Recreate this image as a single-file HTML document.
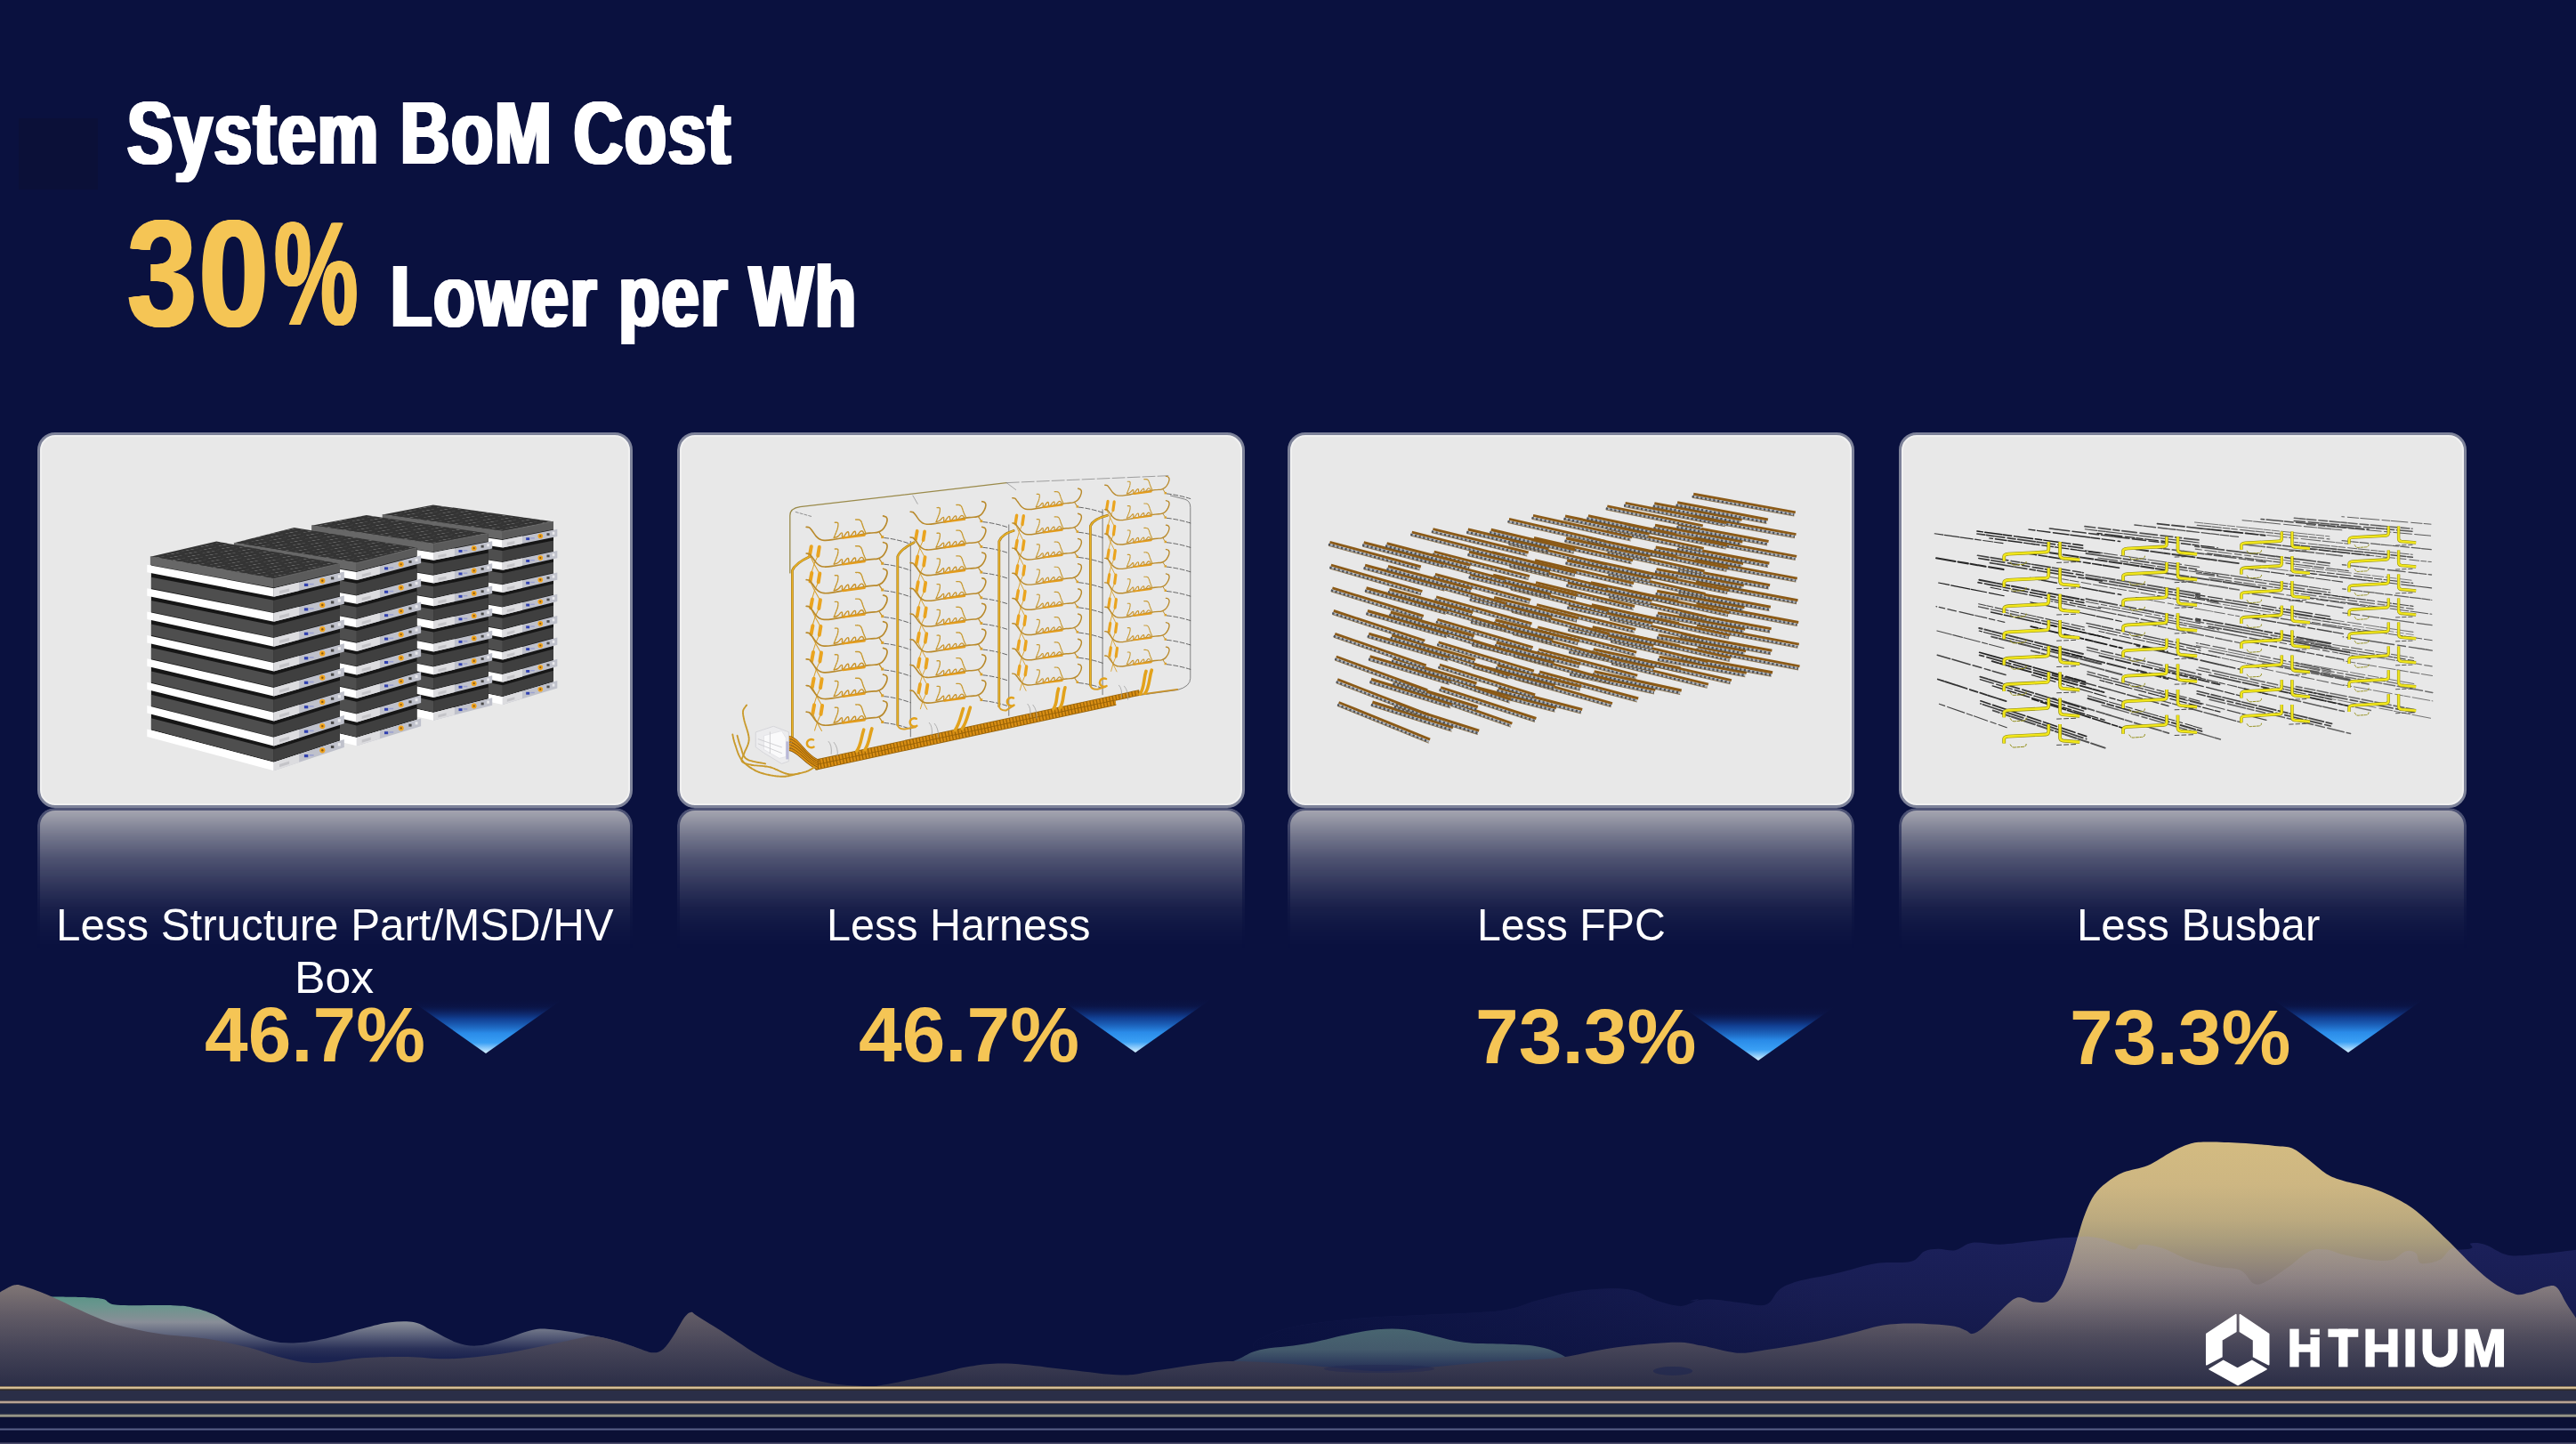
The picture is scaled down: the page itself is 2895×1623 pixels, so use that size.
<!DOCTYPE html>
<html lang="en"><head><meta charset="utf-8"><title>System BoM Cost</title>
<style>
html,body{margin:0;padding:0;}
body{width:2895px;height:1623px;overflow:hidden;background:#0a113f;position:relative;font-family:"Liberation Sans",sans-serif;}
.t{position:absolute;white-space:nowrap;line-height:1;transform-origin:0 0;}
.card{position:absolute;top:485.8px;height:422.5px;box-sizing:border-box;border:3px solid #7d8299;border-radius:20px;background:#e8e8e8;box-shadow:inset 0 0 0 2px #f1f1f1;overflow:hidden;}
.card svg{position:absolute;left:-3px;top:-3px;}
.refl{position:absolute;top:908.3px;height:170px;box-sizing:border-box;border:3px solid #6f7490;border-bottom:none;border-radius:20px 20px 0 0;background:#eeece6;-webkit-mask-image:linear-gradient(to bottom,rgba(0,0,0,.70) 0%,rgba(0,0,0,.475) 17.6%,rgba(0,0,0,.30) 33.5%,rgba(0,0,0,.18) 49.4%,rgba(0,0,0,.07) 65.3%,rgba(0,0,0,.02) 81%,rgba(0,0,0,0) 94%);mask-image:linear-gradient(to bottom,rgba(0,0,0,.70) 0%,rgba(0,0,0,.475) 17.6%,rgba(0,0,0,.30) 33.5%,rgba(0,0,0,.18) 49.4%,rgba(0,0,0,.07) 65.3%,rgba(0,0,0,.02) 81%,rgba(0,0,0,0) 94%);}
.arrow{position:absolute;width:170px;height:62px;}
</style></head><body>

<div style="position:absolute;left:21px;top:133px;width:88.5px;height:79.5px;background:#0b1038"></div>
<div class="t" style="left:142.60px;top:98.73px;font-size:100.5px;font-weight:bold;color:#fff;transform:scaleX(0.7620);text-shadow:1px 0 0 currentColor,-1px 0 0 currentColor,2px 0 0 currentColor,-2px 0 0 currentColor,3px 0 0 currentColor,-3px 0 0 currentColor;letter-spacing:2.5px;">System BoM Cost</div>
<div class="t" style="left:142.69px;top:221.90px;font-size:170px;font-weight:bold;color:#f5c555;transform:scaleX(0.8250);text-shadow:1px 0 0 currentColor,-1px 0 0 currentColor,2px 0 0 currentColor,-2px 0 0 currentColor;letter-spacing:3px;">30</div>
<div class="t" style="left:308.21px;top:225.48px;font-size:166px;font-weight:bold;color:#f5c555;transform:scaleX(0.6400);text-shadow:1px 0 0 currentColor,-1px 0 0 currentColor,2px 0 0 currentColor,-2px 0 0 currentColor;">%</div>
<div class="t" style="left:439.38px;top:282.70px;font-size:99px;font-weight:bold;color:#fff;transform:scaleX(0.7670);text-shadow:1px 0 0 currentColor,-1px 0 0 currentColor,2px 0 0 currentColor,-2px 0 0 currentColor,3px 0 0 currentColor,-3px 0 0 currentColor;letter-spacing:2.5px;">Lower per Wh</div>
<div class="refl" style="left:42.2px;width:668.4px"></div>
<div class="card" style="left:42.2px;width:668.4px"><svg width="668.4" height="422.5" viewBox="42.2 485.8 668.4 422.5">
<defs>
<pattern id="dots" width="9" height="5" patternUnits="userSpaceOnUse" patternTransform="matrix(1 0.18 1.1 -0.26 0 0)">
<rect width="9" height="5" fill="#343434"/><circle cx="3" cy="2.5" r="1.25" fill="#666"/></pattern>
</defs>
<polygon points="430.9,578.3 565.1,597.1 622.2,586.0 622.2,766.2 565.1,783.1 430.9,755.2" fill="#161616" />
<polygon points="429.9,578.3 565.1,597.1 565.1,606.1 429.9,586.6" fill="#676767" />
<polygon points="565.1,597.1 622.2,586.0 622.2,594.8 565.1,606.1" fill="#5b5b5b" />
<polygon points="426.3,586.7 565.1,606.7 565.1,615.4 426.3,594.3" fill="#ffffff" />
<polygon points="565.1,606.7 626.5,594.5 626.5,602.8 565.1,615.4" fill="#bfc1cb" />
<polygon points="565.1,606.7 587.2,602.3 587.2,610.9 565.1,615.4" fill="#dcdcdf" />
<polygon points="570.0,609.6 578.6,607.9 578.6,611.0 570.0,612.7" fill="#c4c4c8" />
<rect x="591.4" y="604.0" width="4.0" height="2.9" fill="#3040b0"/>
<rect x="596.5" y="604.0" width="4.5" height="1.4" fill="#9aa0d0"/>
<circle cx="607.5" cy="602.3" r="2.8" fill="#f0a31e"/><circle cx="607.5" cy="602.3" r="1.1" fill="#8a5a10"/>
<rect x="614.7" y="599.0" width="3.1" height="2.7" fill="#4a4a4a"/>
<rect x="620.9" y="597.5" width="2.7" height="3.1" fill="#e8e8ec"/>
<polygon points="430.9,599.3 565.1,618.9 565.1,631.3 430.9,610.6" fill="#4e4e4e" />
<polygon points="565.1,618.9 622.2,607.2 622.2,619.2 565.1,631.3" fill="#3f3f3f" />
<polygon points="426.3,610.6 565.1,631.9 565.1,640.6 426.3,618.3" fill="#ffffff" />
<polygon points="565.1,631.9 626.5,618.8 626.5,627.1 565.1,640.6" fill="#bfc1cb" />
<polygon points="565.1,631.9 587.2,627.2 587.2,635.7 565.1,640.6" fill="#dcdcdf" />
<polygon points="570.0,634.8 578.6,632.9 578.6,636.0 570.0,637.8" fill="#c4c4c8" />
<rect x="591.4" y="628.8" width="4.0" height="2.9" fill="#3040b0"/>
<rect x="596.5" y="628.8" width="4.5" height="1.4" fill="#9aa0d0"/>
<circle cx="607.5" cy="626.9" r="2.8" fill="#f0a31e"/><circle cx="607.5" cy="626.9" r="1.1" fill="#8a5a10"/>
<rect x="614.7" y="623.4" width="3.1" height="2.7" fill="#4a4a4a"/>
<rect x="620.9" y="621.9" width="2.7" height="3.1" fill="#e8e8ec"/>
<polygon points="430.9,623.3 565.1,644.1 565.1,656.5 430.9,634.6" fill="#4e4e4e" />
<polygon points="565.1,644.1 622.2,631.6 622.2,643.6 565.1,656.5" fill="#3f3f3f" />
<polygon points="426.3,634.6 565.1,657.1 565.1,665.8 426.3,642.2" fill="#ffffff" />
<polygon points="565.1,657.1 626.5,643.2 626.5,651.5 565.1,665.8" fill="#bfc1cb" />
<polygon points="565.1,657.1 587.2,652.1 587.2,660.6 565.1,665.8" fill="#dcdcdf" />
<polygon points="570.0,659.9 578.6,658.0 578.6,661.0 570.0,662.9" fill="#c4c4c8" />
<rect x="591.4" y="653.6" width="4.0" height="2.9" fill="#3040b0"/>
<rect x="596.5" y="653.6" width="4.5" height="1.4" fill="#9aa0d0"/>
<circle cx="607.5" cy="651.5" r="2.8" fill="#f0a31e"/><circle cx="607.5" cy="651.5" r="1.1" fill="#8a5a10"/>
<rect x="614.7" y="647.9" width="3.1" height="2.7" fill="#4a4a4a"/>
<rect x="620.9" y="646.3" width="2.7" height="3.1" fill="#e8e8ec"/>
<polygon points="430.9,647.3 565.1,669.3 565.1,681.7 430.9,658.6" fill="#4e4e4e" />
<polygon points="565.1,669.3 622.2,656.0 622.2,668.0 565.1,681.7" fill="#3f3f3f" />
<polygon points="426.3,658.6 565.1,682.3 565.1,691.0 426.3,666.2" fill="#ffffff" />
<polygon points="565.1,682.3 626.5,667.5 626.5,675.8 565.1,691.0" fill="#bfc1cb" />
<polygon points="565.1,682.3 587.2,677.0 587.2,685.5 565.1,691.0" fill="#dcdcdf" />
<polygon points="570.0,685.0 578.6,683.0 578.6,686.0 570.0,688.1" fill="#c4c4c8" />
<rect x="591.4" y="678.4" width="4.0" height="2.9" fill="#3040b0"/>
<rect x="596.5" y="678.4" width="4.5" height="1.4" fill="#9aa0d0"/>
<circle cx="607.5" cy="676.1" r="2.8" fill="#f0a31e"/><circle cx="607.5" cy="676.1" r="1.1" fill="#8a5a10"/>
<rect x="614.7" y="672.4" width="3.1" height="2.7" fill="#4a4a4a"/>
<rect x="620.9" y="670.7" width="2.7" height="3.1" fill="#e8e8ec"/>
<polygon points="430.9,671.3 565.1,694.5 565.1,706.9 430.9,682.6" fill="#4e4e4e" />
<polygon points="565.1,694.5 622.2,680.4 622.2,692.4 565.1,706.9" fill="#3f3f3f" />
<polygon points="426.3,682.6 565.1,707.5 565.1,716.2 426.3,690.2" fill="#ffffff" />
<polygon points="565.1,707.5 626.5,691.8 626.5,700.2 565.1,716.2" fill="#bfc1cb" />
<polygon points="565.1,707.5 587.2,701.9 587.2,710.4 565.1,716.2" fill="#dcdcdf" />
<polygon points="570.0,710.2 578.6,708.0 578.6,711.0 570.0,713.2" fill="#c4c4c8" />
<rect x="591.4" y="703.2" width="4.0" height="2.9" fill="#3040b0"/>
<rect x="596.5" y="703.2" width="4.5" height="1.4" fill="#9aa0d0"/>
<circle cx="607.5" cy="700.7" r="2.8" fill="#f0a31e"/><circle cx="607.5" cy="700.7" r="1.1" fill="#8a5a10"/>
<rect x="614.7" y="696.9" width="3.1" height="2.7" fill="#4a4a4a"/>
<rect x="620.9" y="695.1" width="2.7" height="3.1" fill="#e8e8ec"/>
<polygon points="430.9,695.3 565.1,719.7 565.1,732.1 430.9,706.6" fill="#4e4e4e" />
<polygon points="565.1,719.7 622.2,704.8 622.2,716.8 565.1,732.1" fill="#3f3f3f" />
<polygon points="426.3,706.5 565.1,732.7 565.1,741.4 426.3,714.1" fill="#ffffff" />
<polygon points="565.1,732.7 626.5,716.2 626.5,724.5 565.1,741.4" fill="#bfc1cb" />
<polygon points="565.1,732.7 587.2,726.8 587.2,735.3 565.1,741.4" fill="#dcdcdf" />
<polygon points="570.0,735.3 578.6,733.0 578.6,736.0 570.0,738.3" fill="#c4c4c8" />
<rect x="591.4" y="728.0" width="4.0" height="2.9" fill="#3040b0"/>
<rect x="596.5" y="728.0" width="4.5" height="1.4" fill="#9aa0d0"/>
<circle cx="607.5" cy="725.3" r="2.8" fill="#f0a31e"/><circle cx="607.5" cy="725.3" r="1.1" fill="#8a5a10"/>
<rect x="614.7" y="721.4" width="3.1" height="2.7" fill="#4a4a4a"/>
<rect x="620.9" y="719.5" width="2.7" height="3.1" fill="#e8e8ec"/>
<polygon points="430.9,719.3 565.1,744.9 565.1,757.3 430.9,730.6" fill="#4e4e4e" />
<polygon points="565.1,744.9 622.2,729.2 622.2,741.2 565.1,757.3" fill="#3f3f3f" />
<polygon points="426.3,730.5 565.1,757.9 565.1,766.6 426.3,738.1" fill="#ffffff" />
<polygon points="565.1,757.9 626.5,740.5 626.5,748.8 565.1,766.6" fill="#bfc1cb" />
<polygon points="565.1,757.9 587.2,751.7 587.2,760.2 565.1,766.6" fill="#dcdcdf" />
<polygon points="570.0,760.4 578.6,758.0 578.6,761.0 570.0,763.5" fill="#c4c4c8" />
<rect x="591.4" y="752.8" width="4.0" height="2.9" fill="#3040b0"/>
<rect x="596.5" y="752.8" width="4.5" height="1.4" fill="#9aa0d0"/>
<circle cx="607.5" cy="749.9" r="2.8" fill="#f0a31e"/><circle cx="607.5" cy="749.9" r="1.1" fill="#8a5a10"/>
<rect x="614.7" y="745.9" width="3.1" height="2.7" fill="#4a4a4a"/>
<rect x="620.9" y="743.9" width="2.7" height="3.1" fill="#e8e8ec"/>
<polygon points="430.9,743.3 565.1,770.1 565.1,782.5 430.9,754.6" fill="#4e4e4e" />
<polygon points="565.1,770.1 622.2,753.6 622.2,765.6 565.1,782.5" fill="#3f3f3f" />
<polygon points="426.3,754.5 565.1,783.1 565.1,791.8 426.3,762.1" fill="#ffffff" />
<polygon points="565.1,783.1 626.5,764.9 626.5,773.2 565.1,791.8" fill="#bfc1cb" />
<polygon points="565.1,783.1 587.2,776.5 587.2,785.1 565.1,791.8" fill="#dcdcdf" />
<polygon points="570.0,785.6 578.6,783.0 578.6,786.0 570.0,788.6" fill="#c4c4c8" />
<rect x="591.4" y="777.6" width="4.0" height="2.9" fill="#3040b0"/>
<rect x="596.5" y="777.6" width="4.5" height="1.4" fill="#9aa0d0"/>
<circle cx="607.5" cy="774.5" r="2.8" fill="#f0a31e"/><circle cx="607.5" cy="774.5" r="1.1" fill="#8a5a10"/>
<rect x="614.7" y="770.4" width="3.1" height="2.7" fill="#4a4a4a"/>
<rect x="620.9" y="768.3" width="2.7" height="3.1" fill="#e8e8ec"/>
<polygon points="429.9,578.3 487.0,567.2 622.2,586.0 565.1,597.1" fill="url(#dots)" />
<polyline points="429.9,578.3 565.1,597.1 622.2,586.0" fill="none" stroke="#707070" stroke-width="0.8"/>
<polygon points="351.3,590.5 487.3,611.0 549.0,599.3 549.0,785.2 487.3,800.7 351.3,771.1" fill="#161616" />
<polygon points="350.3,590.5 487.3,611.0 487.3,620.2 350.3,599.0" fill="#676767" />
<polygon points="487.3,611.0 549.0,599.3 549.0,608.2 487.3,620.2" fill="#5b5b5b" />
<polygon points="346.7,599.0 487.3,620.8 487.3,629.6 346.7,606.8" fill="#ffffff" />
<polygon points="487.3,620.8 553.4,608.0 553.4,616.4 487.3,629.6" fill="#bfc1cb" />
<polygon points="487.3,620.8 511.1,616.2 511.1,624.9 487.3,629.6" fill="#dcdcdf" />
<polygon points="492.6,623.7 501.8,622.0 501.8,625.0 492.6,626.8" fill="#c4c4c8" />
<rect x="515.7" y="617.8" width="4.0" height="2.9" fill="#3040b0"/>
<rect x="520.9" y="617.8" width="4.6" height="1.5" fill="#9aa0d0"/>
<circle cx="532.9" cy="616.0" r="2.9" fill="#f0a31e"/><circle cx="532.9" cy="616.0" r="1.1" fill="#8a5a10"/>
<rect x="540.8" y="612.6" width="3.1" height="2.8" fill="#4a4a4a"/>
<rect x="547.4" y="611.0" width="2.8" height="3.1" fill="#e8e8ec"/>
<polygon points="351.3,611.9 487.3,633.3 487.3,645.9 351.3,623.5" fill="#4e4e4e" />
<polygon points="487.3,633.3 549.0,621.2 549.0,633.4 487.3,645.9" fill="#3f3f3f" />
<polygon points="346.7,623.5 487.3,646.5 487.3,655.3 346.7,631.2" fill="#ffffff" />
<polygon points="487.3,646.5 553.4,633.1 553.4,641.6 487.3,655.3" fill="#bfc1cb" />
<polygon points="487.3,646.5 511.1,641.7 511.1,650.4 487.3,655.3" fill="#dcdcdf" />
<polygon points="492.6,649.4 501.8,647.5 501.8,650.6 492.6,652.5" fill="#c4c4c8" />
<rect x="515.7" y="643.3" width="4.0" height="2.9" fill="#3040b0"/>
<rect x="520.9" y="643.3" width="4.6" height="1.5" fill="#9aa0d0"/>
<circle cx="532.9" cy="641.3" r="2.9" fill="#f0a31e"/><circle cx="532.9" cy="641.3" r="1.1" fill="#8a5a10"/>
<rect x="540.8" y="637.8" width="3.1" height="2.8" fill="#4a4a4a"/>
<rect x="547.4" y="636.2" width="2.8" height="3.1" fill="#e8e8ec"/>
<polygon points="351.3,636.4 487.3,659.0 487.3,671.6 351.3,648.0" fill="#4e4e4e" />
<polygon points="487.3,659.0 549.0,646.4 549.0,658.6 487.3,671.6" fill="#3f3f3f" />
<polygon points="346.7,647.9 487.3,672.2 487.3,681.0 346.7,655.7" fill="#ffffff" />
<polygon points="487.3,672.2 553.4,658.3 553.4,666.8 487.3,681.0" fill="#bfc1cb" />
<polygon points="487.3,672.2 511.1,667.2 511.1,675.9 487.3,681.0" fill="#dcdcdf" />
<polygon points="492.6,675.1 501.8,673.1 501.8,676.2 492.6,678.2" fill="#c4c4c8" />
<rect x="515.7" y="668.7" width="4.0" height="2.9" fill="#3040b0"/>
<rect x="520.9" y="668.7" width="4.6" height="1.5" fill="#9aa0d0"/>
<circle cx="532.9" cy="666.7" r="2.9" fill="#f0a31e"/><circle cx="532.9" cy="666.7" r="1.1" fill="#8a5a10"/>
<rect x="540.8" y="663.1" width="3.1" height="2.8" fill="#4a4a4a"/>
<rect x="547.4" y="661.4" width="2.8" height="3.1" fill="#e8e8ec"/>
<polygon points="351.3,660.9 487.3,684.7 487.3,697.3 351.3,672.5" fill="#4e4e4e" />
<polygon points="487.3,684.7 549.0,671.6 549.0,683.8 487.3,697.3" fill="#3f3f3f" />
<polygon points="346.7,672.4 487.3,697.9 487.3,706.7 346.7,680.2" fill="#ffffff" />
<polygon points="487.3,697.9 553.4,683.5 553.4,691.9 487.3,706.7" fill="#bfc1cb" />
<polygon points="487.3,697.9 511.1,692.7 511.1,701.4 487.3,706.7" fill="#dcdcdf" />
<polygon points="492.6,700.7 501.8,698.7 501.8,701.8 492.6,703.8" fill="#c4c4c8" />
<rect x="515.7" y="694.2" width="4.0" height="2.9" fill="#3040b0"/>
<rect x="520.9" y="694.2" width="4.6" height="1.5" fill="#9aa0d0"/>
<circle cx="532.9" cy="692.0" r="2.9" fill="#f0a31e"/><circle cx="532.9" cy="692.0" r="1.1" fill="#8a5a10"/>
<rect x="540.8" y="688.4" width="3.1" height="2.8" fill="#4a4a4a"/>
<rect x="547.4" y="686.6" width="2.8" height="3.1" fill="#e8e8ec"/>
<polygon points="351.3,685.4 487.3,710.4 487.3,723.0 351.3,697.0" fill="#4e4e4e" />
<polygon points="487.3,710.4 549.0,696.8 549.0,709.0 487.3,723.0" fill="#3f3f3f" />
<polygon points="346.7,696.9 487.3,723.6 487.3,732.4 346.7,704.7" fill="#ffffff" />
<polygon points="487.3,723.6 553.4,708.6 553.4,717.1 487.3,732.4" fill="#bfc1cb" />
<polygon points="487.3,723.6 511.1,718.2 511.1,726.9 487.3,732.4" fill="#dcdcdf" />
<polygon points="492.6,726.4 501.8,724.3 501.8,727.4 492.6,729.5" fill="#c4c4c8" />
<rect x="515.7" y="719.7" width="4.0" height="2.9" fill="#3040b0"/>
<rect x="520.9" y="719.7" width="4.6" height="1.5" fill="#9aa0d0"/>
<circle cx="532.9" cy="717.3" r="2.9" fill="#f0a31e"/><circle cx="532.9" cy="717.3" r="1.1" fill="#8a5a10"/>
<rect x="540.8" y="713.6" width="3.1" height="2.8" fill="#4a4a4a"/>
<rect x="547.4" y="711.8" width="2.8" height="3.1" fill="#e8e8ec"/>
<polygon points="351.3,709.9 487.3,736.1 487.3,748.7 351.3,721.5" fill="#4e4e4e" />
<polygon points="487.3,736.1 549.0,722.0 549.0,734.2 487.3,748.7" fill="#3f3f3f" />
<polygon points="346.7,721.3 487.3,749.3 487.3,758.1 346.7,729.1" fill="#ffffff" />
<polygon points="487.3,749.3 553.4,733.8 553.4,742.3 487.3,758.1" fill="#bfc1cb" />
<polygon points="487.3,749.3 511.1,743.7 511.1,752.4 487.3,758.1" fill="#dcdcdf" />
<polygon points="492.6,752.0 501.8,749.9 501.8,753.0 492.6,755.1" fill="#c4c4c8" />
<rect x="515.7" y="745.1" width="4.0" height="2.9" fill="#3040b0"/>
<rect x="520.9" y="745.1" width="4.6" height="1.5" fill="#9aa0d0"/>
<circle cx="532.9" cy="742.7" r="2.9" fill="#f0a31e"/><circle cx="532.9" cy="742.7" r="1.1" fill="#8a5a10"/>
<rect x="540.8" y="738.9" width="3.1" height="2.8" fill="#4a4a4a"/>
<rect x="547.4" y="737.0" width="2.8" height="3.1" fill="#e8e8ec"/>
<polygon points="351.3,734.4 487.3,761.8 487.3,774.4 351.3,746.0" fill="#4e4e4e" />
<polygon points="487.3,761.8 549.0,747.2 549.0,759.4 487.3,774.4" fill="#3f3f3f" />
<polygon points="346.7,745.8 487.3,775.0 487.3,783.8 346.7,753.6" fill="#ffffff" />
<polygon points="487.3,775.0 553.4,759.0 553.4,767.4 487.3,783.8" fill="#bfc1cb" />
<polygon points="487.3,775.0 511.1,769.2 511.1,777.9 487.3,783.8" fill="#dcdcdf" />
<polygon points="492.6,777.7 501.8,775.4 501.8,778.5 492.6,780.8" fill="#c4c4c8" />
<rect x="515.7" y="770.6" width="4.0" height="2.9" fill="#3040b0"/>
<rect x="520.9" y="770.6" width="4.6" height="1.5" fill="#9aa0d0"/>
<circle cx="532.9" cy="768.0" r="2.9" fill="#f0a31e"/><circle cx="532.9" cy="768.0" r="1.1" fill="#8a5a10"/>
<rect x="540.8" y="764.1" width="3.1" height="2.8" fill="#4a4a4a"/>
<rect x="547.4" y="762.2" width="2.8" height="3.1" fill="#e8e8ec"/>
<polygon points="351.3,758.9 487.3,787.5 487.3,800.1 351.3,770.5" fill="#4e4e4e" />
<polygon points="487.3,787.5 549.0,772.4 549.0,784.6 487.3,800.1" fill="#3f3f3f" />
<polygon points="346.7,770.3 487.3,800.7 487.3,809.5 346.7,778.1" fill="#ffffff" />
<polygon points="487.3,800.7 553.4,784.1 553.4,792.6 487.3,809.5" fill="#bfc1cb" />
<polygon points="487.3,800.7 511.1,794.7 511.1,803.4 487.3,809.5" fill="#dcdcdf" />
<polygon points="492.6,803.3 501.8,801.0 501.8,804.1 492.6,806.4" fill="#c4c4c8" />
<rect x="515.7" y="796.0" width="4.0" height="2.9" fill="#3040b0"/>
<rect x="520.9" y="796.0" width="4.6" height="1.5" fill="#9aa0d0"/>
<circle cx="532.9" cy="793.3" r="2.9" fill="#f0a31e"/><circle cx="532.9" cy="793.3" r="1.1" fill="#8a5a10"/>
<rect x="540.8" y="789.4" width="3.1" height="2.8" fill="#4a4a4a"/>
<rect x="547.4" y="787.4" width="2.8" height="3.1" fill="#e8e8ec"/>
<polygon points="350.3,590.5 412.0,578.8 549.0,599.3 487.3,611.0" fill="url(#dots)" />
<polyline points="350.3,590.5 487.3,611.0 549.0,599.3" fill="none" stroke="#707070" stroke-width="0.8"/>
<polygon points="264.1,610.1 401.1,632.6 468.7,615.4 468.7,808.6 401.1,828.9 264.1,796.6" fill="#161616" />
<polygon points="263.1,610.1 401.1,632.6 401.1,642.1 263.1,618.9" fill="#676767" />
<polygon points="401.1,632.6 468.7,615.4 468.7,624.6 401.1,642.1" fill="#5b5b5b" />
<polygon points="259.5,618.9 401.1,642.7 401.1,651.9 259.5,626.9" fill="#ffffff" />
<polygon points="401.1,642.7 473.3,624.1 473.3,632.8 401.1,651.9" fill="#bfc1cb" />
<polygon points="401.1,642.7 427.1,636.0 427.1,645.0 401.1,651.9" fill="#dcdcdf" />
<polygon points="406.9,645.3 417.0,642.7 417.0,645.9 406.9,648.5" fill="#c4c4c8" />
<rect x="432.2" y="637.2" width="4.2" height="3.0" fill="#3040b0"/>
<rect x="437.6" y="637.2" width="4.8" height="1.5" fill="#9aa0d0"/>
<circle cx="450.9" cy="634.1" r="3.0" fill="#f0a31e"/><circle cx="450.9" cy="634.1" r="1.1" fill="#8a5a10"/>
<rect x="459.6" y="629.8" width="3.2" height="2.9" fill="#4a4a4a"/>
<rect x="466.8" y="627.6" width="2.9" height="3.2" fill="#e8e8ec"/>
<polygon points="264.1,632.2 401.1,655.6 401.1,668.7 264.1,644.2" fill="#4e4e4e" />
<polygon points="401.1,655.6 468.7,638.2 468.7,650.8 401.1,668.7" fill="#3f3f3f" />
<polygon points="259.5,644.1 401.1,669.3 401.1,678.5 259.5,652.2" fill="#ffffff" />
<polygon points="401.1,669.3 473.3,650.2 473.3,659.0 401.1,678.5" fill="#bfc1cb" />
<polygon points="401.1,669.3 427.1,662.4 427.1,671.5 401.1,678.5" fill="#dcdcdf" />
<polygon points="406.9,671.9 417.0,669.2 417.0,672.4 406.9,675.1" fill="#c4c4c8" />
<rect x="432.2" y="663.6" width="4.2" height="3.0" fill="#3040b0"/>
<rect x="437.6" y="663.6" width="4.8" height="1.5" fill="#9aa0d0"/>
<circle cx="450.9" cy="660.4" r="3.0" fill="#f0a31e"/><circle cx="450.9" cy="660.4" r="1.1" fill="#8a5a10"/>
<rect x="459.6" y="656.0" width="3.2" height="2.9" fill="#4a4a4a"/>
<rect x="466.8" y="653.8" width="2.9" height="3.2" fill="#e8e8ec"/>
<polygon points="264.1,657.5 401.1,682.2 401.1,695.3 264.1,669.5" fill="#4e4e4e" />
<polygon points="401.1,682.2 468.7,664.4 468.7,677.0 401.1,695.3" fill="#3f3f3f" />
<polygon points="259.5,669.4 401.1,695.9 401.1,705.1 259.5,677.4" fill="#ffffff" />
<polygon points="401.1,695.9 473.3,676.4 473.3,685.2 401.1,705.1" fill="#bfc1cb" />
<polygon points="401.1,695.9 427.1,688.9 427.1,697.9 401.1,705.1" fill="#dcdcdf" />
<polygon points="406.9,698.5 417.0,695.7 417.0,698.9 406.9,701.7" fill="#c4c4c8" />
<rect x="432.2" y="690.0" width="4.2" height="3.0" fill="#3040b0"/>
<rect x="437.6" y="690.0" width="4.8" height="1.5" fill="#9aa0d0"/>
<circle cx="450.9" cy="686.7" r="3.0" fill="#f0a31e"/><circle cx="450.9" cy="686.7" r="1.1" fill="#8a5a10"/>
<rect x="459.6" y="682.2" width="3.2" height="2.9" fill="#4a4a4a"/>
<rect x="466.8" y="680.0" width="2.9" height="3.2" fill="#e8e8ec"/>
<polygon points="264.1,682.8 401.1,708.8 401.1,721.9 264.1,694.8" fill="#4e4e4e" />
<polygon points="401.1,708.8 468.7,690.6 468.7,703.2 401.1,721.9" fill="#3f3f3f" />
<polygon points="259.5,694.7 401.1,722.5 401.1,731.7 259.5,702.7" fill="#ffffff" />
<polygon points="401.1,722.5 473.3,702.6 473.3,711.4 401.1,731.7" fill="#bfc1cb" />
<polygon points="401.1,722.5 427.1,715.3 427.1,724.4 401.1,731.7" fill="#dcdcdf" />
<polygon points="406.9,725.0 417.0,722.2 417.0,725.4 406.9,728.2" fill="#c4c4c8" />
<rect x="432.2" y="716.4" width="4.2" height="3.0" fill="#3040b0"/>
<rect x="437.6" y="716.4" width="4.8" height="1.5" fill="#9aa0d0"/>
<circle cx="450.9" cy="713.0" r="3.0" fill="#f0a31e"/><circle cx="450.9" cy="713.0" r="1.1" fill="#8a5a10"/>
<rect x="459.6" y="708.5" width="3.2" height="2.9" fill="#4a4a4a"/>
<rect x="466.8" y="706.2" width="2.9" height="3.2" fill="#e8e8ec"/>
<polygon points="264.1,708.1 401.1,735.4 401.1,748.5 264.1,720.1" fill="#4e4e4e" />
<polygon points="401.1,735.4 468.7,716.8 468.7,729.4 401.1,748.5" fill="#3f3f3f" />
<polygon points="259.5,719.9 401.1,749.1 401.1,758.3 259.5,728.0" fill="#ffffff" />
<polygon points="401.1,749.1 473.3,728.7 473.3,737.5 401.1,758.3" fill="#bfc1cb" />
<polygon points="401.1,749.1 427.1,741.8 427.1,750.8 401.1,758.3" fill="#dcdcdf" />
<polygon points="406.9,751.6 417.0,748.8 417.0,752.0 406.9,754.8" fill="#c4c4c8" />
<rect x="432.2" y="742.8" width="4.2" height="3.0" fill="#3040b0"/>
<rect x="437.6" y="742.8" width="4.8" height="1.5" fill="#9aa0d0"/>
<circle cx="450.9" cy="739.3" r="3.0" fill="#f0a31e"/><circle cx="450.9" cy="739.3" r="1.1" fill="#8a5a10"/>
<rect x="459.6" y="734.7" width="3.2" height="2.9" fill="#4a4a4a"/>
<rect x="466.8" y="732.4" width="2.9" height="3.2" fill="#e8e8ec"/>
<polygon points="264.1,733.4 401.1,762.0 401.1,775.1 264.1,745.4" fill="#4e4e4e" />
<polygon points="401.1,762.0 468.7,743.0 468.7,755.6 401.1,775.1" fill="#3f3f3f" />
<polygon points="259.5,745.2 401.1,775.7 401.1,784.9 259.5,753.2" fill="#ffffff" />
<polygon points="401.1,775.7 473.3,754.9 473.3,763.7 401.1,784.9" fill="#bfc1cb" />
<polygon points="401.1,775.7 427.1,768.2 427.1,777.2 401.1,784.9" fill="#dcdcdf" />
<polygon points="406.9,778.2 417.0,775.3 417.0,778.5 406.9,781.4" fill="#c4c4c8" />
<rect x="432.2" y="769.2" width="4.2" height="3.0" fill="#3040b0"/>
<rect x="437.6" y="769.2" width="4.8" height="1.5" fill="#9aa0d0"/>
<circle cx="450.9" cy="765.6" r="3.0" fill="#f0a31e"/><circle cx="450.9" cy="765.6" r="1.1" fill="#8a5a10"/>
<rect x="459.6" y="761.0" width="3.2" height="2.9" fill="#4a4a4a"/>
<rect x="466.8" y="758.6" width="2.9" height="3.2" fill="#e8e8ec"/>
<polygon points="264.1,758.7 401.1,788.6 401.1,801.7 264.1,770.7" fill="#4e4e4e" />
<polygon points="401.1,788.6 468.7,769.2 468.7,781.8 401.1,801.7" fill="#3f3f3f" />
<polygon points="259.5,770.5 401.1,802.3 401.1,811.5 259.5,778.5" fill="#ffffff" />
<polygon points="401.1,802.3 473.3,781.1 473.3,789.9 401.1,811.5" fill="#bfc1cb" />
<polygon points="401.1,802.3 427.1,794.7 427.1,803.7 401.1,811.5" fill="#dcdcdf" />
<polygon points="406.9,804.7 417.0,801.8 417.0,805.0 406.9,807.9" fill="#c4c4c8" />
<rect x="432.2" y="795.6" width="4.2" height="3.0" fill="#3040b0"/>
<rect x="437.6" y="795.6" width="4.8" height="1.5" fill="#9aa0d0"/>
<circle cx="450.9" cy="791.9" r="3.0" fill="#f0a31e"/><circle cx="450.9" cy="791.9" r="1.1" fill="#8a5a10"/>
<rect x="459.6" y="787.2" width="3.2" height="2.9" fill="#4a4a4a"/>
<rect x="466.8" y="784.8" width="2.9" height="3.2" fill="#e8e8ec"/>
<polygon points="264.1,784.0 401.1,815.2 401.1,828.3 264.1,796.0" fill="#4e4e4e" />
<polygon points="401.1,815.2 468.7,795.4 468.7,808.0 401.1,828.3" fill="#3f3f3f" />
<polygon points="259.5,795.7 401.1,828.9 401.1,838.1 259.5,803.8" fill="#ffffff" />
<polygon points="401.1,828.9 473.3,807.3 473.3,816.0 401.1,838.1" fill="#bfc1cb" />
<polygon points="401.1,828.9 427.1,821.1 427.1,830.1 401.1,838.1" fill="#dcdcdf" />
<polygon points="406.9,831.3 417.0,828.3 417.0,831.5 406.9,834.5" fill="#c4c4c8" />
<rect x="432.2" y="822.0" width="4.2" height="3.0" fill="#3040b0"/>
<rect x="437.6" y="822.0" width="4.8" height="1.5" fill="#9aa0d0"/>
<circle cx="450.9" cy="818.2" r="3.0" fill="#f0a31e"/><circle cx="450.9" cy="818.2" r="1.1" fill="#8a5a10"/>
<rect x="459.6" y="813.5" width="3.2" height="2.9" fill="#4a4a4a"/>
<rect x="466.8" y="811.0" width="2.9" height="3.2" fill="#e8e8ec"/>
<polygon points="263.1,610.1 330.7,592.9 468.7,615.4 401.1,632.6" fill="url(#dots)" />
<polyline points="263.1,610.1 401.1,632.6 468.7,615.4" fill="none" stroke="#707070" stroke-width="0.8"/>
<polygon points="170.1,625.5 307.9,650.4 382.2,633.2 382.2,832.3 307.9,856.5 170.1,820.2" fill="#161616" />
<polygon points="169.1,625.5 307.9,650.4 307.9,660.4 169.1,634.7" fill="#676767" />
<polygon points="307.9,650.4 382.2,633.2 382.2,642.9 307.9,660.4" fill="#5b5b5b" />
<polygon points="165.5,634.6 307.9,661.0 307.9,670.6 165.5,643.1" fill="#ffffff" />
<polygon points="307.9,661.0 387.0,642.4 387.0,651.6 307.9,670.6" fill="#bfc1cb" />
<polygon points="307.9,661.0 336.4,654.3 336.4,663.8 307.9,670.6" fill="#dcdcdf" />
<polygon points="314.2,663.8 325.3,661.2 325.3,664.6 314.2,667.2" fill="#c4c4c8" />
<rect x="342.1" y="655.6" width="4.4" height="3.2" fill="#3040b0"/>
<rect x="347.8" y="655.6" width="5.0" height="1.6" fill="#9aa0d0"/>
<circle cx="362.5" cy="652.6" r="3.1" fill="#f0a31e"/><circle cx="362.5" cy="652.6" r="1.2" fill="#8a5a10"/>
<rect x="372.1" y="648.2" width="3.4" height="3.0" fill="#4a4a4a"/>
<rect x="380.0" y="646.0" width="3.0" height="3.4" fill="#e8e8ec"/>
<polygon points="170.1,648.5 307.9,674.5 307.9,688.3 170.1,661.1" fill="#4e4e4e" />
<polygon points="307.9,674.5 382.2,656.6 382.2,669.9 307.9,688.3" fill="#3f3f3f" />
<polygon points="165.5,661.0 307.9,688.9 307.9,698.5 165.5,669.5" fill="#ffffff" />
<polygon points="307.9,688.9 387.0,669.3 387.0,678.5 307.9,698.5" fill="#bfc1cb" />
<polygon points="307.9,688.9 336.4,681.9 336.4,691.3 307.9,698.5" fill="#dcdcdf" />
<polygon points="314.2,691.7 325.3,688.9 325.3,692.3 314.2,695.0" fill="#c4c4c8" />
<rect x="342.1" y="683.1" width="4.4" height="3.2" fill="#3040b0"/>
<rect x="347.8" y="683.1" width="5.0" height="1.6" fill="#9aa0d0"/>
<circle cx="362.5" cy="679.8" r="3.1" fill="#f0a31e"/><circle cx="362.5" cy="679.8" r="1.2" fill="#8a5a10"/>
<rect x="372.1" y="675.3" width="3.4" height="3.0" fill="#4a4a4a"/>
<rect x="380.0" y="673.0" width="3.0" height="3.4" fill="#e8e8ec"/>
<polygon points="170.1,674.9 307.9,702.5 307.9,716.3 170.1,687.5" fill="#4e4e4e" />
<polygon points="307.9,702.5 382.2,683.5 382.2,696.8 307.9,716.3" fill="#3f3f3f" />
<polygon points="165.5,687.4 307.9,716.9 307.9,726.5 165.5,695.8" fill="#ffffff" />
<polygon points="307.9,716.9 387.0,696.2 387.0,705.4 307.9,726.5" fill="#bfc1cb" />
<polygon points="307.9,716.9 336.4,709.4 336.4,718.9 307.9,726.5" fill="#dcdcdf" />
<polygon points="314.2,719.5 325.3,716.6 325.3,720.0 314.2,722.9" fill="#c4c4c8" />
<rect x="342.1" y="710.5" width="4.4" height="3.2" fill="#3040b0"/>
<rect x="347.8" y="710.5" width="5.0" height="1.6" fill="#9aa0d0"/>
<circle cx="362.5" cy="707.0" r="3.1" fill="#f0a31e"/><circle cx="362.5" cy="707.0" r="1.2" fill="#8a5a10"/>
<rect x="372.1" y="702.3" width="3.4" height="3.0" fill="#4a4a4a"/>
<rect x="380.0" y="700.0" width="3.0" height="3.4" fill="#e8e8ec"/>
<polygon points="170.1,701.3 307.9,730.4 307.9,744.2 170.1,713.9" fill="#4e4e4e" />
<polygon points="307.9,730.4 382.2,710.5 382.2,723.8 307.9,744.2" fill="#3f3f3f" />
<polygon points="165.5,713.7 307.9,744.8 307.9,754.4 165.5,722.2" fill="#ffffff" />
<polygon points="307.9,744.8 387.0,723.1 387.0,732.3 307.9,754.4" fill="#bfc1cb" />
<polygon points="307.9,744.8 336.4,737.0 336.4,746.4 307.9,754.4" fill="#dcdcdf" />
<polygon points="314.2,747.4 325.3,744.3 325.3,747.7 314.2,750.7" fill="#c4c4c8" />
<rect x="342.1" y="738.0" width="4.4" height="3.2" fill="#3040b0"/>
<rect x="347.8" y="738.0" width="5.0" height="1.6" fill="#9aa0d0"/>
<circle cx="362.5" cy="734.2" r="3.1" fill="#f0a31e"/><circle cx="362.5" cy="734.2" r="1.2" fill="#8a5a10"/>
<rect x="372.1" y="729.4" width="3.4" height="3.0" fill="#4a4a4a"/>
<rect x="380.0" y="727.0" width="3.0" height="3.4" fill="#e8e8ec"/>
<polygon points="170.1,727.7 307.9,758.3 307.9,772.1 170.1,740.3" fill="#4e4e4e" />
<polygon points="307.9,758.3 382.2,737.5 382.2,750.8 307.9,772.1" fill="#3f3f3f" />
<polygon points="165.5,740.1 307.9,772.7 307.9,782.3 165.5,748.6" fill="#ffffff" />
<polygon points="307.9,772.7 387.0,750.0 387.0,759.2 307.9,782.3" fill="#bfc1cb" />
<polygon points="307.9,772.7 336.4,764.5 336.4,774.0 307.9,782.3" fill="#dcdcdf" />
<polygon points="314.2,775.2 325.3,772.0 325.3,775.4 314.2,778.6" fill="#c4c4c8" />
<rect x="342.1" y="765.5" width="4.4" height="3.2" fill="#3040b0"/>
<rect x="347.8" y="765.5" width="5.0" height="1.6" fill="#9aa0d0"/>
<circle cx="362.5" cy="761.5" r="3.1" fill="#f0a31e"/><circle cx="362.5" cy="761.5" r="1.2" fill="#8a5a10"/>
<rect x="372.1" y="756.5" width="3.4" height="3.0" fill="#4a4a4a"/>
<rect x="380.0" y="753.9" width="3.0" height="3.4" fill="#e8e8ec"/>
<polygon points="170.1,754.2 307.9,786.2 307.9,800.0 170.1,766.8" fill="#4e4e4e" />
<polygon points="307.9,786.2 382.2,764.5 382.2,777.8 307.9,800.0" fill="#3f3f3f" />
<polygon points="165.5,766.5 307.9,800.6 307.9,810.2 165.5,774.9" fill="#ffffff" />
<polygon points="307.9,800.6 387.0,776.9 387.0,786.1 307.9,810.2" fill="#bfc1cb" />
<polygon points="307.9,800.6 336.4,792.1 336.4,801.6 307.9,810.2" fill="#dcdcdf" />
<polygon points="314.2,803.1 325.3,799.7 325.3,803.1 314.2,806.4" fill="#c4c4c8" />
<rect x="342.1" y="792.9" width="4.4" height="3.2" fill="#3040b0"/>
<rect x="347.8" y="792.9" width="5.0" height="1.6" fill="#9aa0d0"/>
<circle cx="362.5" cy="788.7" r="3.1" fill="#f0a31e"/><circle cx="362.5" cy="788.7" r="1.2" fill="#8a5a10"/>
<rect x="372.1" y="783.6" width="3.4" height="3.0" fill="#4a4a4a"/>
<rect x="380.0" y="780.9" width="3.0" height="3.4" fill="#e8e8ec"/>
<polygon points="170.1,780.6 307.9,814.2 307.9,828.0 170.1,793.2" fill="#4e4e4e" />
<polygon points="307.9,814.2 382.2,791.4 382.2,804.7 307.9,828.0" fill="#3f3f3f" />
<polygon points="165.5,792.9 307.9,828.6 307.9,838.2 165.5,801.3" fill="#ffffff" />
<polygon points="307.9,828.6 387.0,803.8 387.0,813.0 307.9,838.2" fill="#bfc1cb" />
<polygon points="307.9,828.6 336.4,819.7 336.4,829.1 307.9,838.2" fill="#dcdcdf" />
<polygon points="314.2,830.9 325.3,827.5 325.3,830.8 314.2,834.3" fill="#c4c4c8" />
<rect x="342.1" y="820.4" width="4.4" height="3.2" fill="#3040b0"/>
<rect x="347.8" y="820.4" width="5.0" height="1.6" fill="#9aa0d0"/>
<circle cx="362.5" cy="815.9" r="3.1" fill="#f0a31e"/><circle cx="362.5" cy="815.9" r="1.2" fill="#8a5a10"/>
<rect x="372.1" y="810.7" width="3.4" height="3.0" fill="#4a4a4a"/>
<rect x="380.0" y="807.9" width="3.0" height="3.4" fill="#e8e8ec"/>
<polygon points="170.1,807.0 307.9,842.1 307.9,855.9 170.1,819.6" fill="#4e4e4e" />
<polygon points="307.9,842.1 382.2,818.4 382.2,831.7 307.9,855.9" fill="#3f3f3f" />
<polygon points="165.5,819.2 307.9,856.5 307.9,866.1 165.5,827.7" fill="#ffffff" />
<polygon points="307.9,856.5 387.0,830.7 387.0,839.9 307.9,866.1" fill="#bfc1cb" />
<polygon points="307.9,856.5 336.4,847.2 336.4,856.7 307.9,866.1" fill="#dcdcdf" />
<polygon points="314.2,858.8 325.3,855.2 325.3,858.5 314.2,862.1" fill="#c4c4c8" />
<rect x="342.1" y="847.8" width="4.4" height="3.2" fill="#3040b0"/>
<rect x="347.8" y="847.8" width="5.0" height="1.6" fill="#9aa0d0"/>
<circle cx="362.5" cy="843.1" r="3.1" fill="#f0a31e"/><circle cx="362.5" cy="843.1" r="1.2" fill="#8a5a10"/>
<rect x="372.1" y="837.8" width="3.4" height="3.0" fill="#4a4a4a"/>
<rect x="380.0" y="834.9" width="3.0" height="3.4" fill="#e8e8ec"/>
<polygon points="169.1,625.5 243.4,608.3 382.2,633.2 307.9,650.4" fill="url(#dots)" />
<polyline points="169.1,625.5 307.9,650.4 382.2,633.2" fill="none" stroke="#707070" stroke-width="0.8"/>
</svg></div>
<div class="refl" style="left:761.4px;width:637.6px"></div>
<div class="card" style="left:761.4px;width:637.6px"><svg width="637.6" height="422.5" viewBox="761.4 485.8 637.6 422.5" fill="none" stroke-linecap="round" stroke-linejoin="round">
<defs><g id="hu">
<path d="M0.0,0.0 C0.5,0.1 2.2,-0.1 3.3,0.6 C4.4,1.3 5.3,2.8 6.6,4.4 C7.9,6.1 9.6,8.9 11.1,10.5 C12.6,12.1 14.0,13.2 15.5,13.9 C17.0,14.7 17.7,14.9 19.9,15.0 C22.1,15.1 23.6,15.2 28.8,14.4 C34.0,13.7 44.0,11.8 51.0,10.5 C58.0,9.2 66.1,7.6 70.9,6.9 C75.7,6.2 77.4,6.7 79.8,6.1 C82.2,5.5 83.7,4.7 85.3,3.3 C86.9,1.9 88.3,-0.4 89.2,-2.2 C90.1,-4.0 90.8,-6.3 90.9,-7.8 C91.0,-9.3 90.5,-10.3 89.8,-11.1 C89.0,-11.9 87.0,-12.2 86.4,-12.4" stroke="#b98a2c" stroke-width="1.7"/>
<path d="M32.1,-5.0 C32.7,-4.9 35.0,-5.4 35.5,-4.4 C36.0,-3.4 35.6,-0.7 35.2,1.1 C34.8,2.9 33.9,4.8 33.2,6.6 C32.5,8.4 31.4,11.3 31.0,12.2" stroke="#c79a32" stroke-width="1.4" stroke-dasharray="2.2 0.8"/>
<path d="M55.4,-8.3 C56.3,-8.1 59.4,-8.8 60.9,-7.2 C62.4,-5.6 63.3,-1.3 64.3,1.1 C65.3,3.5 66.5,6.2 67.0,7.2" stroke="#c79a32" stroke-width="1.4" stroke-dasharray="2.2 0.8"/>
<path d="M31.0,12.2 C32.2,11.7 33.1,12.0 35.5,10.5 C37.9,9.0 38.4,6.3 39.9,6.6 C41.4,6.9 39.2,11.9 41.0,11.6 C42.8,11.3 44.4,5.8 46.5,5.5 C48.6,5.2 46.7,10.6 48.8,10.5 C50.9,10.4 52.2,5.3 54.3,5.0 C56.4,4.7 54.4,9.6 56.5,9.4 C58.6,9.2 59.6,4.5 62.0,4.4 C64.4,4.3 64.5,7.7 65.4,8.9" stroke="#c8922a" stroke-width="1.4"/>
<path d="M41,12.3 L65.4,9.2" stroke="#e39c1c" stroke-width="2.3"/>
<path d="M82,6.1 L84.6,10" stroke="#b98a2c" stroke-width="1.2"/>
<rect x="84" y="9.8" width="3" height="3" fill="#d9a02a" stroke="none"/>
</g>
<g id="hb">
<path d="M1.2,-5 L-0.6,4.6" stroke="#eaa41f" stroke-width="4"/><path d="M10.2,-4.4 L8.6,5.4" stroke="#eaa41f" stroke-width="4"/>
<path d="M-0.6,4.6 L4,14 L9.6,24" stroke="#d9a02a" stroke-width="1"/><path d="M8.6,5.4 L4.6,14 L1.6,23.5" stroke="#d9a02a" stroke-width="1"/>
</g></defs>
<path d="M888.2,643.7 L888.2,579.2 Q888.2,571.3 899.5,569.5 L1131.6,542.4" stroke="#9a8a4a" stroke-width="1.3"/>
<path d="M1131.6,542.4 L1313.2,534.5" stroke="#8a8a8a" stroke-width="0.8" stroke-dasharray="14 3"/>
<path d="M1026.3,556.8 L1031.6,566.1" stroke="#8a8a8a" stroke-width="0.7"/>
<path d="M1131.6,542.4 L1142.1,550.3" stroke="#8a8a8a" stroke-width="0.7"/>
<path d="M894.7,575.3 L913.2,580.5" stroke="#666" stroke-width="0.7" stroke-dasharray="3 2"/>
<path d="M1315.8,556.8 L1331.6,560.8 Q1338.2,562.6 1338.2,570.0 L1338.2,762.1 Q1338.2,771.3 1323.7,775.3 L1281.6,781.1" stroke="#777" stroke-width="0.9"/>
<path d="M1023.7,608.2 L1023.7,827.9" stroke="#5a5a5a" stroke-width="0.8"/>
<path d="M1134.2,589.7 L1134.2,804.2" stroke="#5a5a5a" stroke-width="0.8"/>
<path d="M1239.5,572.6 L1239.5,780.5" stroke="#5a5a5a" stroke-width="0.8"/>
<path d="M994.1,604.3 Q1008.9,605.8 1023.7,611.3" stroke="#444" stroke-width="0.8" stroke-dasharray="5 2.5"/>
<path d="M994.1,634.0 Q1008.9,635.5 1023.7,641.0" stroke="#444" stroke-width="0.8" stroke-dasharray="5 2.5"/>
<path d="M994.1,663.7 Q1008.9,665.2 1023.7,670.7" stroke="#444" stroke-width="0.8" stroke-dasharray="5 2.5"/>
<path d="M994.1,693.4 Q1008.9,694.9 1023.7,700.4" stroke="#444" stroke-width="0.8" stroke-dasharray="5 2.5"/>
<path d="M994.1,723.1 Q1008.9,724.6 1023.7,730.1" stroke="#444" stroke-width="0.8" stroke-dasharray="5 2.5"/>
<path d="M994.1,752.8 Q1008.9,754.3 1023.7,759.8" stroke="#444" stroke-width="0.8" stroke-dasharray="5 2.5"/>
<path d="M994.1,782.5 Q1008.9,784.0 1023.7,789.5" stroke="#444" stroke-width="0.8" stroke-dasharray="5 2.5"/>
<path d="M994.1,812.2 Q1008.9,813.7 1023.7,819.2" stroke="#444" stroke-width="0.8" stroke-dasharray="5 2.5"/>
<path d="M1105.1,586.4 Q1119.7,587.9 1134.2,592.9" stroke="#444" stroke-width="0.8" stroke-dasharray="5 2.5"/>
<path d="M1105.1,615.1 Q1119.7,616.6 1134.2,621.6" stroke="#444" stroke-width="0.8" stroke-dasharray="5 2.5"/>
<path d="M1105.1,643.8 Q1119.7,645.3 1134.2,650.3" stroke="#444" stroke-width="0.8" stroke-dasharray="5 2.5"/>
<path d="M1105.1,672.5 Q1119.7,674.0 1134.2,679.0" stroke="#444" stroke-width="0.8" stroke-dasharray="5 2.5"/>
<path d="M1105.1,701.2 Q1119.7,702.7 1134.2,707.7" stroke="#444" stroke-width="0.8" stroke-dasharray="5 2.5"/>
<path d="M1105.1,729.9 Q1119.7,731.4 1134.2,736.4" stroke="#444" stroke-width="0.8" stroke-dasharray="5 2.5"/>
<path d="M1105.1,758.6 Q1119.7,760.1 1134.2,765.1" stroke="#444" stroke-width="0.8" stroke-dasharray="5 2.5"/>
<path d="M1105.1,787.3 Q1119.7,788.8 1134.2,793.8" stroke="#444" stroke-width="0.8" stroke-dasharray="5 2.5"/>
<path d="M1212.9,569.9 Q1226.2,571.4 1239.5,575.9" stroke="#444" stroke-width="0.8" stroke-dasharray="5 2.5"/>
<path d="M1212.9,598.1 Q1226.2,599.6 1239.5,604.1" stroke="#444" stroke-width="0.8" stroke-dasharray="5 2.5"/>
<path d="M1212.9,626.3 Q1226.2,627.8 1239.5,632.3" stroke="#444" stroke-width="0.8" stroke-dasharray="5 2.5"/>
<path d="M1212.9,654.5 Q1226.2,656.0 1239.5,660.5" stroke="#444" stroke-width="0.8" stroke-dasharray="5 2.5"/>
<path d="M1212.9,682.7 Q1226.2,684.2 1239.5,688.7" stroke="#444" stroke-width="0.8" stroke-dasharray="5 2.5"/>
<path d="M1212.9,710.9 Q1226.2,712.4 1239.5,716.9" stroke="#444" stroke-width="0.8" stroke-dasharray="5 2.5"/>
<path d="M1212.9,739.1 Q1226.2,740.6 1239.5,745.1" stroke="#444" stroke-width="0.8" stroke-dasharray="5 2.5"/>
<path d="M1212.9,767.3 Q1226.2,768.8 1239.5,773.3" stroke="#444" stroke-width="0.8" stroke-dasharray="5 2.5"/>
<path d="M1311.8,554.7 Q1325.0,556.2 1338.2,560.3" stroke="#444" stroke-width="0.8" stroke-dasharray="5 2.5"/>
<path d="M1311.8,582.1 Q1325.0,583.6 1338.2,587.7" stroke="#444" stroke-width="0.8" stroke-dasharray="5 2.5"/>
<path d="M1311.8,609.5 Q1325.0,611.0 1338.2,615.1" stroke="#444" stroke-width="0.8" stroke-dasharray="5 2.5"/>
<path d="M1311.8,636.9 Q1325.0,638.4 1338.2,642.5" stroke="#444" stroke-width="0.8" stroke-dasharray="5 2.5"/>
<path d="M1311.8,664.3 Q1325.0,665.8 1338.2,669.9" stroke="#444" stroke-width="0.8" stroke-dasharray="5 2.5"/>
<path d="M1311.8,691.7 Q1325.0,693.2 1338.2,697.3" stroke="#444" stroke-width="0.8" stroke-dasharray="5 2.5"/>
<path d="M1311.8,719.1 Q1325.0,720.6 1338.2,724.7" stroke="#444" stroke-width="0.8" stroke-dasharray="5 2.5"/>
<path d="M1311.8,746.5 Q1325.0,748.0 1338.2,752.1" stroke="#444" stroke-width="0.8" stroke-dasharray="5 2.5"/>
<path d="M910.5,625.3 Q893.8,633.1 890.8,641.1 L890.8,827.9" stroke="#a87a1a" stroke-width="2.8"/>
<path d="M910.5,625.3 Q893.8,633.1 890.8,641.1 L890.8,827.9" stroke="#eab428" stroke-width="1.5"/>
<path d="M1027.6,609.5 Q1012.2,617.3 1009.2,625.3 L1009.2,814.7" stroke="#a87a1a" stroke-width="2.8"/>
<path d="M1027.6,609.5 Q1012.2,617.3 1009.2,625.3 L1009.2,814.7" stroke="#eab428" stroke-width="1.5"/>
<path d="M1139.5,596.3 Q1126.2,600.2 1123.2,608.2 L1123.2,793.7" stroke="#a87a1a" stroke-width="2.8"/>
<path d="M1139.5,596.3 Q1126.2,600.2 1123.2,608.2 L1123.2,793.7" stroke="#eab428" stroke-width="1.5"/>
<path d="M1244.7,579.2 Q1228.8,583.1 1225.8,591.1 L1225.8,770.0" stroke="#a87a1a" stroke-width="2.8"/>
<path d="M1244.7,579.2 Q1228.8,583.1 1225.8,591.1 L1225.8,770.0" stroke="#eab428" stroke-width="1.5"/>
<path d="M1009.2,814.7 Q1010.2,819.7 1017.2,819.2 L1029.3,817.1" stroke="#d9a02a" stroke-width="2"/>
<path d="M1123.2,793.7 Q1124.2,798.7 1131.2,798.2 L1138.5,793.4" stroke="#d9a02a" stroke-width="2"/>
<path d="M1225.8,770.0 Q1226.8,775.0 1233.8,774.5 L1242.5,771.8" stroke="#d9a02a" stroke-width="2"/>
<path d="M914.5,831.3 A5,4.6 0 1 0 915.0,839.3" stroke="#e2a21c" stroke-width="2.4"/>
<path d="M1030.3,807.6 A5,4.6 0 1 0 1030.8,815.6" stroke="#e2a21c" stroke-width="2.4"/>
<path d="M1139.5,784.4 A5,4.6 0 1 0 1140.0,792.4" stroke="#e2a21c" stroke-width="2.4"/>
<path d="M1243.5,762.8 A5,4.6 0 1 0 1244.0,770.8" stroke="#e2a21c" stroke-width="2.4"/>
<use href="#hu" transform="translate(906.6,592.1) scale(1.000)"/>
<use href="#hb" transform="translate(911.0,619.0) scale(1.000,1.007)"/>
<use href="#hu" transform="translate(906.6,621.8) scale(1.000)"/>
<use href="#hb" transform="translate(911.5,648.7) scale(1.000,1.007)"/>
<use href="#hu" transform="translate(906.6,651.5) scale(1.000)"/>
<use href="#hb" transform="translate(912.1,678.4) scale(1.000,1.007)"/>
<use href="#hu" transform="translate(906.6,681.2) scale(1.000)"/>
<use href="#hb" transform="translate(912.6,708.1) scale(1.000,1.007)"/>
<use href="#hu" transform="translate(906.6,710.9) scale(1.000)"/>
<use href="#hb" transform="translate(913.2,737.8) scale(1.000,1.007)"/>
<use href="#hu" transform="translate(906.6,740.6) scale(1.000)"/>
<use href="#hb" transform="translate(913.8,767.5) scale(1.000,1.007)"/>
<use href="#hu" transform="translate(906.6,770.3) scale(1.000)"/>
<use href="#hb" transform="translate(914.3,797.2) scale(1.000,1.007)"/>
<use href="#hu" transform="translate(906.6,800.0) scale(1.000)"/>
<use href="#hu" transform="translate(1023.5,575.0) scale(0.933)"/>
<use href="#hb" transform="translate(1030.0,601.5) scale(0.933,0.973)"/>
<use href="#hu" transform="translate(1023.5,603.7) scale(0.933)"/>
<use href="#hb" transform="translate(1030.5,630.2) scale(0.933,0.973)"/>
<use href="#hu" transform="translate(1023.5,632.4) scale(0.933)"/>
<use href="#hb" transform="translate(1031.1,658.9) scale(0.933,0.973)"/>
<use href="#hu" transform="translate(1023.5,661.1) scale(0.933)"/>
<use href="#hb" transform="translate(1031.7,687.6) scale(0.933,0.973)"/>
<use href="#hu" transform="translate(1023.5,689.8) scale(0.933)"/>
<use href="#hb" transform="translate(1032.2,716.3) scale(0.933,0.973)"/>
<use href="#hu" transform="translate(1023.5,718.5) scale(0.933)"/>
<use href="#hb" transform="translate(1032.8,745.0) scale(0.933,0.973)"/>
<use href="#hu" transform="translate(1023.5,747.2) scale(0.933)"/>
<use href="#hb" transform="translate(1033.3,773.7) scale(0.933,0.973)"/>
<use href="#hu" transform="translate(1023.5,775.9) scale(0.933)"/>
<use href="#hu" transform="translate(1138.2,559.5) scale(0.854)"/>
<use href="#hb" transform="translate(1142.0,584.0) scale(0.854,0.956)"/>
<use href="#hu" transform="translate(1138.2,587.7) scale(0.854)"/>
<use href="#hb" transform="translate(1142.5,612.2) scale(0.854,0.956)"/>
<use href="#hu" transform="translate(1138.2,615.9) scale(0.854)"/>
<use href="#hb" transform="translate(1143.1,640.4) scale(0.854,0.956)"/>
<use href="#hu" transform="translate(1138.2,644.1) scale(0.854)"/>
<use href="#hb" transform="translate(1143.7,668.6) scale(0.854,0.956)"/>
<use href="#hu" transform="translate(1138.2,672.3) scale(0.854)"/>
<use href="#hb" transform="translate(1144.2,696.8) scale(0.854,0.956)"/>
<use href="#hu" transform="translate(1138.2,700.5) scale(0.854)"/>
<use href="#hb" transform="translate(1144.8,725.0) scale(0.854,0.956)"/>
<use href="#hu" transform="translate(1138.2,728.7) scale(0.854)"/>
<use href="#hb" transform="translate(1145.3,753.2) scale(0.854,0.956)"/>
<use href="#hu" transform="translate(1138.2,756.9) scale(0.854)"/>
<use href="#hu" transform="translate(1242.1,545.0) scale(0.796)"/>
<use href="#hb" transform="translate(1244.5,568.0) scale(0.796,0.929)"/>
<use href="#hu" transform="translate(1242.1,572.4) scale(0.796)"/>
<use href="#hb" transform="translate(1245.0,595.4) scale(0.796,0.929)"/>
<use href="#hu" transform="translate(1242.1,599.8) scale(0.796)"/>
<use href="#hb" transform="translate(1245.6,622.8) scale(0.796,0.929)"/>
<use href="#hu" transform="translate(1242.1,627.2) scale(0.796)"/>
<use href="#hb" transform="translate(1246.2,650.2) scale(0.796,0.929)"/>
<use href="#hu" transform="translate(1242.1,654.6) scale(0.796)"/>
<use href="#hb" transform="translate(1246.7,677.6) scale(0.796,0.929)"/>
<use href="#hu" transform="translate(1242.1,682.0) scale(0.796)"/>
<use href="#hb" transform="translate(1247.2,705.0) scale(0.796,0.929)"/>
<use href="#hu" transform="translate(1242.1,709.4) scale(0.796)"/>
<use href="#hb" transform="translate(1247.8,732.4) scale(0.796,0.929)"/>
<use href="#hu" transform="translate(1242.1,736.8) scale(0.796)"/>
<path d="M915.3,857.1 L1281.1,778.2" stroke="#9a6408" stroke-width="6.6" stroke-linecap="butt"/>
<path d="M915.3,857.1 L1281.1,778.2" stroke="#d98e14" stroke-width="5.0" stroke-linecap="butt" stroke-dasharray="2.4 1.3"/>
<path d="M916.4,862.4 L1254.2,789.4" stroke="#9a6408" stroke-width="6.2" stroke-linecap="butt"/>
<path d="M916.4,862.4 L1254.2,789.4" stroke="#d98e14" stroke-width="4.6" stroke-linecap="butt" stroke-dasharray="2.4 1.3"/>
<path d="M1281.6,780.5 L1323.7,774.7" stroke="#c8922a" stroke-width="1.8"/>
<path d="M887.4,828.4 C897.4,829.4 903.8,847.5 918.8,854.5" stroke="#7a4e08" stroke-width="3.2"/>
<path d="M887.4,828.4 C897.4,829.4 903.8,847.5 918.8,854.5" stroke="#d98e14" stroke-width="2.1"/>
<path d="M887.4,831.8 C897.4,832.8 903.8,849.7 918.8,856.7" stroke="#7a4e08" stroke-width="3.2"/>
<path d="M887.4,831.8 C897.4,832.8 903.8,849.7 918.8,856.7" stroke="#d98e14" stroke-width="2.1"/>
<path d="M887.4,835.3 C897.4,836.3 903.8,851.9 918.8,858.9" stroke="#7a4e08" stroke-width="3.2"/>
<path d="M887.4,835.3 C897.4,836.3 903.8,851.9 918.8,858.9" stroke="#d98e14" stroke-width="2.1"/>
<path d="M887.4,838.7 C897.4,839.7 903.8,854.1 918.8,861.1" stroke="#7a4e08" stroke-width="3.2"/>
<path d="M887.4,838.7 C897.4,839.7 903.8,854.1 918.8,861.1" stroke="#d98e14" stroke-width="2.1"/>
<path d="M887.4,842.1 C897.4,843.1 903.8,856.3 918.8,863.3" stroke="#7a4e08" stroke-width="3.2"/>
<path d="M887.4,842.1 C897.4,843.1 903.8,856.3 918.8,863.3" stroke="#d98e14" stroke-width="2.1"/>
<path d="M963.2,844.2 C968.2,837.2 968.1,829.0 971.1,820.0" stroke="#e2a21c" stroke-width="3.6"/>
<path d="M972.4,842.6 C977.4,835.6 977.3,827.7 980.3,818.7" stroke="#e2a21c" stroke-width="3.6"/>
<path d="M1073.7,820.5 C1078.7,813.5 1079.9,805.3 1082.9,796.3" stroke="#e2a21c" stroke-width="3.6"/>
<path d="M1081.6,818.9 C1086.6,811.9 1087.8,804.0 1090.8,795.0" stroke="#e2a21c" stroke-width="3.6"/>
<path d="M1184.2,796.8 C1189.2,789.8 1187.0,782.9 1190.0,773.9" stroke="#e2a21c" stroke-width="3.6"/>
<path d="M1191.3,795.8 C1196.3,788.8 1194.4,781.6 1197.4,772.6" stroke="#e2a21c" stroke-width="3.6"/>
<path d="M1281.6,780.0 C1286.6,773.0 1285.4,763.2 1288.4,754.2" stroke="#e2a21c" stroke-width="3.6"/>
<path d="M1287.4,778.9 C1292.4,771.9 1291.7,761.9 1294.7,752.9" stroke="#e2a21c" stroke-width="3.6"/>
<path d="M931.6,833.2 q4,4 3,14 M937.6,834.2 q5,6 4,15" stroke="#999" stroke-width="0.7"/>
<path d="M1044.7,812.1 q4,4 3,14 M1050.7,813.1 q5,6 4,15" stroke="#999" stroke-width="0.7"/>
<path d="M1155.3,791.1 q4,4 3,14 M1161.3,792.1 q5,6 4,15" stroke="#999" stroke-width="0.7"/>
<path d="M1257.9,770.0 q4,4 3,14 M1263.9,771.0 q5,6 4,15" stroke="#999" stroke-width="0.7"/>
<polygon points="850.0,822.6 869.7,816.1 886.8,822.6 886.8,855.5 878.9,858.2 859.2,846.3 850.0,839.7" fill="#ececee" stroke="#d0d0d6" stroke-width="0.8"/>
<polygon points="859.2,826.6 878.9,821.3 883.7,829.2 883.7,850.3 876.3,852.1 859.2,842.4" fill="#fafafb" stroke="#dcdce0" stroke-width="0.6"/>
<path d="M852.6,830.5 L878.9,839.7 M852.6,835.8 L878.9,846.3 M865.8,822.6 L865.8,846.3" stroke="#c8c8cc" stroke-width="0.8"/>
<rect x="883.7" y="833.2" width="3" height="20" fill="#b8b8d8" stroke="none"/>
<path d="M839.5,792.4 C838.8,793.5 836.0,796.1 835.5,798.9 C835.1,801.8 835.7,804.2 836.8,809.5 C837.9,814.7 842.1,824.4 842.1,830.5 C842.1,836.7 838.2,842.1 836.8,846.3 C835.5,850.5 832.9,853.3 834.2,855.5 C835.5,857.7 839.5,858.4 844.7,859.5 C850.0,860.6 858.8,860.4 865.8,862.1 C872.8,863.9 880.3,869.1 886.8,870.0 C893.4,870.9 900.4,868.7 905.3,867.4 C910.1,866.1 914.0,863.0 915.8,862.1" stroke="#c99a2c" stroke-width="1.9" stroke-dasharray="2.2 0.9"/>
<path d="M823.7,825.3 C824.1,827.0 824.6,831.0 826.3,835.8 C828.1,840.6 829.8,848.9 834.2,854.2 C838.6,859.5 845.2,864.3 852.6,867.4 C860.1,870.4 871.1,872.4 878.9,872.6 C886.8,872.9 896.5,869.3 900.0,868.7" stroke="#c99a2c" stroke-width="1.9" stroke-dasharray="2.2 0.9"/>
<path d="M828.9,826.6 C829.6,828.8 831.1,835.4 832.9,839.7 C834.6,844.1 834.9,849.8 839.5,852.9 C844.1,856.0 857.0,857.3 860.5,858.2" stroke="#c99a2c" stroke-width="1.9" stroke-dasharray="2.2 0.9"/>
</svg></div>
<div class="refl" style="left:1447.3px;width:637.0px"></div>
<div class="card" style="left:1447.3px;width:637.0px"><svg width="637.0" height="422.5" viewBox="1447.3 485.8 637.0 422.5" fill="none" stroke-linecap="butt">
<path d="M1908.2,726.9 L2022.8,748.7" stroke="#8b5a17" stroke-width="2.9"/>
<path d="M1906.7,729.5 L2021.3,751.3" stroke="#a9b0b8" stroke-width="2.3"/>
<path d="M1906.7,729.5 L2021.3,751.3" stroke="#4a505c" stroke-width="2.3" stroke-dasharray="2.2 2.6"/>
<path d="M1906.7,731.0 L2021.3,752.8" stroke="#6a4a1a" stroke-width="0.7"/>
<path d="M1864.8,738.1 L1963.1,756.1" stroke="#8b5a17" stroke-width="3.2"/>
<path d="M1863.3,741.0 L1961.6,759.0" stroke="#a9b0b8" stroke-width="2.6"/>
<path d="M1863.3,741.0 L1961.6,759.0" stroke="#4a505c" stroke-width="2.6" stroke-dasharray="2.2 2.6"/>
<path d="M1863.3,742.6 L1961.6,760.6" stroke="#6a4a1a" stroke-width="0.7"/>
<path d="M1890.7,737.1 L1992.4,755.7" stroke="#8b5a17" stroke-width="3.2"/>
<path d="M1889.2,740.0 L1990.9,758.6" stroke="#a9b0b8" stroke-width="2.6"/>
<path d="M1889.2,740.0 L1990.9,758.6" stroke="#4a505c" stroke-width="2.6" stroke-dasharray="2.2 2.6"/>
<path d="M1889.2,741.5 L1990.9,760.1" stroke="#6a4a1a" stroke-width="0.7"/>
<path d="M1832.6,738.6 L1946.2,764.5" stroke="#8b5a17" stroke-width="2.9"/>
<path d="M1831.1,741.2 L1944.7,767.1" stroke="#a9b0b8" stroke-width="2.3"/>
<path d="M1831.1,741.2 L1944.7,767.1" stroke="#4a505c" stroke-width="2.3" stroke-dasharray="2.2 2.6"/>
<path d="M1831.1,742.6 L1944.7,768.6" stroke="#6a4a1a" stroke-width="0.7"/>
<path d="M1812.8,742.7 L1920.3,769.0" stroke="#8b5a17" stroke-width="2.9"/>
<path d="M1811.3,745.3 L1918.8,771.6" stroke="#a9b0b8" stroke-width="2.3"/>
<path d="M1811.3,745.3 L1918.8,771.6" stroke="#4a505c" stroke-width="2.3" stroke-dasharray="2.2 2.6"/>
<path d="M1811.3,746.7 L1918.8,773.1" stroke="#6a4a1a" stroke-width="0.7"/>
<path d="M1766.0,754.6 L1860.7,775.3" stroke="#8b5a17" stroke-width="3.2"/>
<path d="M1764.5,757.5 L1859.2,778.2" stroke="#a9b0b8" stroke-width="2.6"/>
<path d="M1764.5,757.5 L1859.2,778.2" stroke="#4a505c" stroke-width="2.6" stroke-dasharray="2.2 2.6"/>
<path d="M1764.5,759.1 L1859.2,779.8" stroke="#6a4a1a" stroke-width="0.7"/>
<path d="M1791.9,754.5 L1890.0,775.9" stroke="#8b5a17" stroke-width="3.2"/>
<path d="M1790.4,757.4 L1888.5,778.8" stroke="#a9b0b8" stroke-width="2.6"/>
<path d="M1790.4,757.4 L1888.5,778.8" stroke="#4a505c" stroke-width="2.6" stroke-dasharray="2.2 2.6"/>
<path d="M1790.4,758.9 L1888.5,780.4" stroke="#6a4a1a" stroke-width="0.7"/>
<path d="M1730.5,754.8 L1841.5,784.8" stroke="#8b5a17" stroke-width="2.9"/>
<path d="M1729.0,757.4 L1840.0,787.4" stroke="#a9b0b8" stroke-width="2.3"/>
<path d="M1729.0,757.4 L1840.0,787.4" stroke="#4a505c" stroke-width="2.3" stroke-dasharray="2.2 2.6"/>
<path d="M1729.0,758.8 L1840.0,788.8" stroke="#6a4a1a" stroke-width="0.7"/>
<path d="M1704.0,759.6 L1812.3,790.4" stroke="#8b5a17" stroke-width="2.9"/>
<path d="M1702.5,762.2 L1810.8,793.0" stroke="#a9b0b8" stroke-width="2.3"/>
<path d="M1702.5,762.2 L1810.8,793.0" stroke="#4a505c" stroke-width="2.3" stroke-dasharray="2.2 2.6"/>
<path d="M1702.5,763.6 L1810.8,794.5" stroke="#6a4a1a" stroke-width="0.7"/>
<path d="M1658.3,772.0 L1749.2,795.5" stroke="#8b5a17" stroke-width="3.2"/>
<path d="M1656.8,774.9 L1747.7,798.4" stroke="#a9b0b8" stroke-width="2.6"/>
<path d="M1656.8,774.9 L1747.7,798.4" stroke="#4a505c" stroke-width="2.6" stroke-dasharray="2.2 2.6"/>
<path d="M1656.8,776.4 L1747.7,800.0" stroke="#6a4a1a" stroke-width="0.7"/>
<path d="M1684.2,772.9 L1778.5,797.3" stroke="#8b5a17" stroke-width="3.2"/>
<path d="M1682.7,775.8 L1777.0,800.2" stroke="#a9b0b8" stroke-width="2.6"/>
<path d="M1682.7,775.8 L1777.0,800.2" stroke="#4a505c" stroke-width="2.6" stroke-dasharray="2.2 2.6"/>
<path d="M1682.7,777.3 L1777.0,801.8" stroke="#6a4a1a" stroke-width="0.7"/>
<path d="M1619.4,772.4 L1726.7,807.3" stroke="#8b5a17" stroke-width="2.9"/>
<path d="M1617.9,775.0 L1725.2,809.9" stroke="#a9b0b8" stroke-width="2.3"/>
<path d="M1617.9,775.0 L1725.2,809.9" stroke="#4a505c" stroke-width="2.3" stroke-dasharray="2.2 2.6"/>
<path d="M1617.9,776.4 L1725.2,811.3" stroke="#6a4a1a" stroke-width="0.7"/>
<path d="M1596.2,776.5 L1699.7,812.9" stroke="#8b5a17" stroke-width="2.9"/>
<path d="M1594.7,779.1 L1698.2,815.5" stroke="#a9b0b8" stroke-width="2.3"/>
<path d="M1594.7,779.1 L1698.2,815.5" stroke="#4a505c" stroke-width="2.3" stroke-dasharray="2.2 2.6"/>
<path d="M1594.7,780.6 L1698.2,817.0" stroke="#6a4a1a" stroke-width="0.7"/>
<path d="M1542.7,788.9 L1633.3,817.5" stroke="#8b5a17" stroke-width="3.2"/>
<path d="M1541.2,791.8 L1631.8,820.4" stroke="#a9b0b8" stroke-width="2.6"/>
<path d="M1541.2,791.8 L1631.8,820.4" stroke="#4a505c" stroke-width="2.6" stroke-dasharray="2.2 2.6"/>
<path d="M1541.2,793.3 L1631.8,822.0" stroke="#6a4a1a" stroke-width="0.7"/>
<path d="M1568.6,791.3 L1662.5,821.0" stroke="#8b5a17" stroke-width="3.2"/>
<path d="M1567.1,794.2 L1661.0,823.9" stroke="#a9b0b8" stroke-width="2.6"/>
<path d="M1567.1,794.2 L1661.0,823.9" stroke="#4a505c" stroke-width="2.6" stroke-dasharray="2.2 2.6"/>
<path d="M1567.1,795.7 L1661.0,825.4" stroke="#6a4a1a" stroke-width="0.7"/>
<path d="M1504.9,789.3 L1607.4,830.9" stroke="#8b5a17" stroke-width="2.9"/>
<path d="M1503.4,791.9 L1605.9,833.5" stroke="#a9b0b8" stroke-width="2.3"/>
<path d="M1503.4,791.9 L1605.9,833.5" stroke="#4a505c" stroke-width="2.3" stroke-dasharray="2.2 2.6"/>
<path d="M1503.4,793.3 L1605.9,835.0" stroke="#6a4a1a" stroke-width="0.7"/>
<path d="M1907.5,702.4 L2022.1,724.0" stroke="#8b5a17" stroke-width="2.9"/>
<path d="M1906.0,705.0 L2020.6,726.6" stroke="#a9b0b8" stroke-width="2.3"/>
<path d="M1906.0,705.0 L2020.6,726.6" stroke="#4a505c" stroke-width="2.3" stroke-dasharray="2.2 2.6"/>
<path d="M1906.0,706.4 L2020.6,728.1" stroke="#6a4a1a" stroke-width="0.7"/>
<path d="M1864.0,713.5 L1962.4,731.5" stroke="#8b5a17" stroke-width="3.2"/>
<path d="M1862.5,716.4 L1960.9,734.4" stroke="#a9b0b8" stroke-width="2.6"/>
<path d="M1862.5,716.4 L1960.9,734.4" stroke="#4a505c" stroke-width="2.6" stroke-dasharray="2.2 2.6"/>
<path d="M1862.5,718.0 L1960.9,736.0" stroke="#6a4a1a" stroke-width="0.7"/>
<path d="M1889.9,712.4 L1991.7,731.1" stroke="#8b5a17" stroke-width="3.2"/>
<path d="M1888.4,715.3 L1990.2,734.0" stroke="#a9b0b8" stroke-width="2.6"/>
<path d="M1888.4,715.3 L1990.2,734.0" stroke="#4a505c" stroke-width="2.6" stroke-dasharray="2.2 2.6"/>
<path d="M1888.4,716.9 L1990.2,735.6" stroke="#6a4a1a" stroke-width="0.7"/>
<path d="M1831.8,713.8 L1945.4,739.2" stroke="#8b5a17" stroke-width="2.9"/>
<path d="M1830.3,716.4 L1943.9,741.8" stroke="#a9b0b8" stroke-width="2.3"/>
<path d="M1830.3,716.4 L1943.9,741.8" stroke="#4a505c" stroke-width="2.3" stroke-dasharray="2.2 2.6"/>
<path d="M1830.3,717.8 L1943.9,743.3" stroke="#6a4a1a" stroke-width="0.7"/>
<path d="M1812.0,717.8 L1919.5,743.5" stroke="#8b5a17" stroke-width="2.9"/>
<path d="M1810.5,720.4 L1918.0,746.1" stroke="#a9b0b8" stroke-width="2.3"/>
<path d="M1810.5,720.4 L1918.0,746.1" stroke="#4a505c" stroke-width="2.3" stroke-dasharray="2.2 2.6"/>
<path d="M1810.5,721.9 L1918.0,747.6" stroke="#6a4a1a" stroke-width="0.7"/>
<path d="M1765.1,729.6 L1859.7,750.3" stroke="#8b5a17" stroke-width="3.2"/>
<path d="M1763.6,732.5 L1858.2,753.2" stroke="#a9b0b8" stroke-width="2.6"/>
<path d="M1763.6,732.5 L1858.2,753.2" stroke="#4a505c" stroke-width="2.6" stroke-dasharray="2.2 2.6"/>
<path d="M1763.6,734.1 L1858.2,754.7" stroke="#6a4a1a" stroke-width="0.7"/>
<path d="M1791.0,729.5 L1889.0,750.8" stroke="#8b5a17" stroke-width="3.2"/>
<path d="M1789.5,732.4 L1887.5,753.7" stroke="#a9b0b8" stroke-width="2.6"/>
<path d="M1789.5,732.4 L1887.5,753.7" stroke="#4a505c" stroke-width="2.6" stroke-dasharray="2.2 2.6"/>
<path d="M1789.5,733.9 L1887.5,755.3" stroke="#6a4a1a" stroke-width="0.7"/>
<path d="M1729.5,729.7 L1840.5,758.9" stroke="#8b5a17" stroke-width="2.9"/>
<path d="M1728.0,732.3 L1839.0,761.5" stroke="#a9b0b8" stroke-width="2.3"/>
<path d="M1728.0,732.3 L1839.0,761.5" stroke="#4a505c" stroke-width="2.3" stroke-dasharray="2.2 2.6"/>
<path d="M1728.0,733.7 L1839.0,763.0" stroke="#6a4a1a" stroke-width="0.7"/>
<path d="M1702.9,734.4 L1811.2,764.4" stroke="#8b5a17" stroke-width="2.9"/>
<path d="M1701.4,737.0 L1809.7,767.0" stroke="#a9b0b8" stroke-width="2.3"/>
<path d="M1701.4,737.0 L1809.7,767.0" stroke="#4a505c" stroke-width="2.3" stroke-dasharray="2.2 2.6"/>
<path d="M1701.4,738.4 L1809.7,768.4" stroke="#6a4a1a" stroke-width="0.7"/>
<path d="M1657.1,746.7 L1748.0,769.9" stroke="#8b5a17" stroke-width="3.2"/>
<path d="M1655.6,749.6 L1746.5,772.8" stroke="#a9b0b8" stroke-width="2.6"/>
<path d="M1655.6,749.6 L1746.5,772.8" stroke="#4a505c" stroke-width="2.6" stroke-dasharray="2.2 2.6"/>
<path d="M1655.6,751.1 L1746.5,774.4" stroke="#6a4a1a" stroke-width="0.7"/>
<path d="M1683.0,747.5 L1777.3,771.6" stroke="#8b5a17" stroke-width="3.2"/>
<path d="M1681.5,750.4 L1775.8,774.5" stroke="#a9b0b8" stroke-width="2.6"/>
<path d="M1681.5,750.4 L1775.8,774.5" stroke="#4a505c" stroke-width="2.6" stroke-dasharray="2.2 2.6"/>
<path d="M1681.5,752.0 L1775.8,776.1" stroke="#6a4a1a" stroke-width="0.7"/>
<path d="M1618.2,747.0 L1725.5,780.7" stroke="#8b5a17" stroke-width="2.9"/>
<path d="M1616.7,749.6 L1724.0,783.3" stroke="#a9b0b8" stroke-width="2.3"/>
<path d="M1616.7,749.6 L1724.0,783.3" stroke="#4a505c" stroke-width="2.3" stroke-dasharray="2.2 2.6"/>
<path d="M1616.7,751.0 L1724.0,784.7" stroke="#6a4a1a" stroke-width="0.7"/>
<path d="M1594.9,751.0 L1698.4,786.0" stroke="#8b5a17" stroke-width="2.9"/>
<path d="M1593.4,753.6 L1696.9,788.6" stroke="#a9b0b8" stroke-width="2.3"/>
<path d="M1593.4,753.6 L1696.9,788.6" stroke="#4a505c" stroke-width="2.3" stroke-dasharray="2.2 2.6"/>
<path d="M1593.4,755.0 L1696.9,790.0" stroke="#6a4a1a" stroke-width="0.7"/>
<path d="M1541.3,763.2 L1631.9,791.2" stroke="#8b5a17" stroke-width="3.2"/>
<path d="M1539.8,766.1 L1630.4,794.1" stroke="#a9b0b8" stroke-width="2.6"/>
<path d="M1539.8,766.1 L1630.4,794.1" stroke="#4a505c" stroke-width="2.6" stroke-dasharray="2.2 2.6"/>
<path d="M1539.8,767.7 L1630.4,795.7" stroke="#6a4a1a" stroke-width="0.7"/>
<path d="M1567.2,765.4 L1661.1,794.4" stroke="#8b5a17" stroke-width="3.2"/>
<path d="M1565.7,768.3 L1659.6,797.3" stroke="#a9b0b8" stroke-width="2.6"/>
<path d="M1565.7,768.3 L1659.6,797.3" stroke="#4a505c" stroke-width="2.6" stroke-dasharray="2.2 2.6"/>
<path d="M1565.7,769.9 L1659.6,798.9" stroke="#6a4a1a" stroke-width="0.7"/>
<path d="M1503.5,763.5 L1605.9,803.2" stroke="#8b5a17" stroke-width="2.9"/>
<path d="M1502.0,766.1 L1604.4,805.8" stroke="#a9b0b8" stroke-width="2.3"/>
<path d="M1502.0,766.1 L1604.4,805.8" stroke="#4a505c" stroke-width="2.3" stroke-dasharray="2.2 2.6"/>
<path d="M1502.0,767.6 L1604.4,807.2" stroke="#6a4a1a" stroke-width="0.7"/>
<path d="M1906.8,677.8 L2021.5,699.3" stroke="#8b5a17" stroke-width="2.9"/>
<path d="M1905.3,680.4 L2020.0,701.9" stroke="#a9b0b8" stroke-width="2.3"/>
<path d="M1905.3,680.4 L2020.0,701.9" stroke="#4a505c" stroke-width="2.3" stroke-dasharray="2.2 2.6"/>
<path d="M1905.3,681.9 L2020.0,703.4" stroke="#6a4a1a" stroke-width="0.7"/>
<path d="M1863.3,688.8 L1961.6,707.0" stroke="#8b5a17" stroke-width="3.2"/>
<path d="M1861.8,691.7 L1960.1,709.9" stroke="#a9b0b8" stroke-width="2.6"/>
<path d="M1861.8,691.7 L1960.1,709.9" stroke="#4a505c" stroke-width="2.6" stroke-dasharray="2.2 2.6"/>
<path d="M1861.8,693.3 L1960.1,711.4" stroke="#6a4a1a" stroke-width="0.7"/>
<path d="M1889.2,687.8 L1990.9,706.6" stroke="#8b5a17" stroke-width="3.2"/>
<path d="M1887.7,690.7 L1989.4,709.5" stroke="#a9b0b8" stroke-width="2.6"/>
<path d="M1887.7,690.7 L1989.4,709.5" stroke="#4a505c" stroke-width="2.6" stroke-dasharray="2.2 2.6"/>
<path d="M1887.7,692.3 L1989.4,711.0" stroke="#6a4a1a" stroke-width="0.7"/>
<path d="M1831.0,689.0 L1944.6,713.9" stroke="#8b5a17" stroke-width="2.9"/>
<path d="M1829.5,691.6 L1943.1,716.5" stroke="#a9b0b8" stroke-width="2.3"/>
<path d="M1829.5,691.6 L1943.1,716.5" stroke="#4a505c" stroke-width="2.3" stroke-dasharray="2.2 2.6"/>
<path d="M1829.5,693.1 L1943.1,718.0" stroke="#6a4a1a" stroke-width="0.7"/>
<path d="M1811.1,693.0 L1918.6,718.0" stroke="#8b5a17" stroke-width="2.9"/>
<path d="M1809.6,695.6 L1917.1,720.6" stroke="#a9b0b8" stroke-width="2.3"/>
<path d="M1809.6,695.6 L1917.1,720.6" stroke="#4a505c" stroke-width="2.3" stroke-dasharray="2.2 2.6"/>
<path d="M1809.6,697.0 L1917.1,722.1" stroke="#6a4a1a" stroke-width="0.7"/>
<path d="M1764.1,704.6 L1858.8,725.2" stroke="#8b5a17" stroke-width="3.2"/>
<path d="M1762.6,707.5 L1857.3,728.1" stroke="#a9b0b8" stroke-width="2.6"/>
<path d="M1762.6,707.5 L1857.3,728.1" stroke="#4a505c" stroke-width="2.6" stroke-dasharray="2.2 2.6"/>
<path d="M1762.6,709.1 L1857.3,729.7" stroke="#6a4a1a" stroke-width="0.7"/>
<path d="M1790.0,704.5 L1888.0,725.8" stroke="#8b5a17" stroke-width="3.2"/>
<path d="M1788.5,707.4 L1886.5,728.7" stroke="#a9b0b8" stroke-width="2.6"/>
<path d="M1788.5,707.4 L1886.5,728.7" stroke="#4a505c" stroke-width="2.6" stroke-dasharray="2.2 2.6"/>
<path d="M1788.5,708.9 L1886.5,730.2" stroke="#6a4a1a" stroke-width="0.7"/>
<path d="M1728.5,704.6 L1839.5,733.0" stroke="#8b5a17" stroke-width="2.9"/>
<path d="M1727.0,707.2 L1838.0,735.6" stroke="#a9b0b8" stroke-width="2.3"/>
<path d="M1727.0,707.2 L1838.0,735.6" stroke="#4a505c" stroke-width="2.3" stroke-dasharray="2.2 2.6"/>
<path d="M1727.0,708.7 L1838.0,737.1" stroke="#6a4a1a" stroke-width="0.7"/>
<path d="M1701.8,709.2 L1810.1,738.3" stroke="#8b5a17" stroke-width="2.9"/>
<path d="M1700.3,711.8 L1808.6,740.9" stroke="#a9b0b8" stroke-width="2.3"/>
<path d="M1700.3,711.8 L1808.6,740.9" stroke="#4a505c" stroke-width="2.3" stroke-dasharray="2.2 2.6"/>
<path d="M1700.3,713.3 L1808.6,742.3" stroke="#6a4a1a" stroke-width="0.7"/>
<path d="M1656.0,721.4 L1746.9,744.4" stroke="#8b5a17" stroke-width="3.2"/>
<path d="M1654.5,724.3 L1745.4,747.3" stroke="#a9b0b8" stroke-width="2.6"/>
<path d="M1654.5,724.3 L1745.4,747.3" stroke="#4a505c" stroke-width="2.6" stroke-dasharray="2.2 2.6"/>
<path d="M1654.5,725.8 L1745.4,748.8" stroke="#6a4a1a" stroke-width="0.7"/>
<path d="M1681.9,722.1 L1776.2,746.0" stroke="#8b5a17" stroke-width="3.2"/>
<path d="M1680.4,725.0 L1774.7,748.9" stroke="#a9b0b8" stroke-width="2.6"/>
<path d="M1680.4,725.0 L1774.7,748.9" stroke="#4a505c" stroke-width="2.6" stroke-dasharray="2.2 2.6"/>
<path d="M1680.4,726.6 L1774.7,750.4" stroke="#6a4a1a" stroke-width="0.7"/>
<path d="M1616.9,721.6 L1724.2,754.0" stroke="#8b5a17" stroke-width="2.9"/>
<path d="M1615.4,724.2 L1722.7,756.6" stroke="#a9b0b8" stroke-width="2.3"/>
<path d="M1615.4,724.2 L1722.7,756.6" stroke="#4a505c" stroke-width="2.3" stroke-dasharray="2.2 2.6"/>
<path d="M1615.4,725.6 L1722.7,758.1" stroke="#6a4a1a" stroke-width="0.7"/>
<path d="M1593.6,725.5 L1697.1,759.0" stroke="#8b5a17" stroke-width="2.9"/>
<path d="M1592.1,728.1 L1695.6,761.6" stroke="#a9b0b8" stroke-width="2.3"/>
<path d="M1592.1,728.1 L1695.6,761.6" stroke="#4a505c" stroke-width="2.3" stroke-dasharray="2.2 2.6"/>
<path d="M1592.1,729.5 L1695.6,763.0" stroke="#6a4a1a" stroke-width="0.7"/>
<path d="M1539.9,737.6 L1630.5,764.8" stroke="#8b5a17" stroke-width="3.2"/>
<path d="M1538.4,740.5 L1629.0,767.7" stroke="#a9b0b8" stroke-width="2.6"/>
<path d="M1538.4,740.5 L1629.0,767.7" stroke="#4a505c" stroke-width="2.6" stroke-dasharray="2.2 2.6"/>
<path d="M1538.4,742.1 L1629.0,769.3" stroke="#6a4a1a" stroke-width="0.7"/>
<path d="M1565.8,739.6 L1659.8,767.9" stroke="#8b5a17" stroke-width="3.2"/>
<path d="M1564.3,742.5 L1658.3,770.8" stroke="#a9b0b8" stroke-width="2.6"/>
<path d="M1564.3,742.5 L1658.3,770.8" stroke="#4a505c" stroke-width="2.6" stroke-dasharray="2.2 2.6"/>
<path d="M1564.3,744.1 L1658.3,772.3" stroke="#6a4a1a" stroke-width="0.7"/>
<path d="M1502.0,737.8 L1604.5,775.5" stroke="#8b5a17" stroke-width="2.9"/>
<path d="M1500.5,740.4 L1603.0,778.1" stroke="#a9b0b8" stroke-width="2.3"/>
<path d="M1500.5,740.4 L1603.0,778.1" stroke="#4a505c" stroke-width="2.3" stroke-dasharray="2.2 2.6"/>
<path d="M1500.5,741.9 L1603.0,779.5" stroke="#6a4a1a" stroke-width="0.7"/>
<path d="M1906.2,653.3 L2020.8,674.6" stroke="#8b5a17" stroke-width="2.9"/>
<path d="M1904.7,655.9 L2019.3,677.2" stroke="#a9b0b8" stroke-width="2.3"/>
<path d="M1904.7,655.9 L2019.3,677.2" stroke="#4a505c" stroke-width="2.3" stroke-dasharray="2.2 2.6"/>
<path d="M1904.7,657.3 L2019.3,678.6" stroke="#6a4a1a" stroke-width="0.7"/>
<path d="M1862.5,664.2 L1960.9,682.4" stroke="#8b5a17" stroke-width="3.2"/>
<path d="M1861.0,667.1 L1959.4,685.3" stroke="#a9b0b8" stroke-width="2.6"/>
<path d="M1861.0,667.1 L1959.4,685.3" stroke="#4a505c" stroke-width="2.6" stroke-dasharray="2.2 2.6"/>
<path d="M1861.0,668.7 L1959.4,686.9" stroke="#6a4a1a" stroke-width="0.7"/>
<path d="M1888.4,663.2 L1990.2,682.0" stroke="#8b5a17" stroke-width="3.2"/>
<path d="M1886.9,666.1 L1988.7,684.9" stroke="#a9b0b8" stroke-width="2.6"/>
<path d="M1886.9,666.1 L1988.7,684.9" stroke="#4a505c" stroke-width="2.6" stroke-dasharray="2.2 2.6"/>
<path d="M1886.9,667.6 L1988.7,686.5" stroke="#6a4a1a" stroke-width="0.7"/>
<path d="M1830.2,664.3 L1943.8,688.7" stroke="#8b5a17" stroke-width="2.9"/>
<path d="M1828.7,666.9 L1942.3,691.3" stroke="#a9b0b8" stroke-width="2.3"/>
<path d="M1828.7,666.9 L1942.3,691.3" stroke="#4a505c" stroke-width="2.3" stroke-dasharray="2.2 2.6"/>
<path d="M1828.7,668.3 L1942.3,692.7" stroke="#6a4a1a" stroke-width="0.7"/>
<path d="M1810.2,668.1 L1917.7,692.6" stroke="#8b5a17" stroke-width="2.9"/>
<path d="M1808.7,670.7 L1916.2,695.2" stroke="#a9b0b8" stroke-width="2.3"/>
<path d="M1808.7,670.7 L1916.2,695.2" stroke="#4a505c" stroke-width="2.3" stroke-dasharray="2.2 2.6"/>
<path d="M1808.7,672.1 L1916.2,696.6" stroke="#6a4a1a" stroke-width="0.7"/>
<path d="M1763.2,679.7 L1857.8,700.1" stroke="#8b5a17" stroke-width="3.2"/>
<path d="M1761.7,682.6 L1856.3,703.0" stroke="#a9b0b8" stroke-width="2.6"/>
<path d="M1761.7,682.6 L1856.3,703.0" stroke="#4a505c" stroke-width="2.6" stroke-dasharray="2.2 2.6"/>
<path d="M1761.7,684.1 L1856.3,704.6" stroke="#6a4a1a" stroke-width="0.7"/>
<path d="M1789.1,679.5 L1887.1,700.7" stroke="#8b5a17" stroke-width="3.2"/>
<path d="M1787.6,682.4 L1885.6,703.6" stroke="#a9b0b8" stroke-width="2.6"/>
<path d="M1787.6,682.4 L1885.6,703.6" stroke="#4a505c" stroke-width="2.6" stroke-dasharray="2.2 2.6"/>
<path d="M1787.6,683.9 L1885.6,705.1" stroke="#6a4a1a" stroke-width="0.7"/>
<path d="M1727.4,679.5 L1838.5,707.2" stroke="#8b5a17" stroke-width="2.9"/>
<path d="M1725.9,682.1 L1837.0,709.8" stroke="#a9b0b8" stroke-width="2.3"/>
<path d="M1725.9,682.1 L1837.0,709.8" stroke="#4a505c" stroke-width="2.3" stroke-dasharray="2.2 2.6"/>
<path d="M1725.9,683.6 L1837.0,711.2" stroke="#6a4a1a" stroke-width="0.7"/>
<path d="M1700.7,684.0 L1809.0,712.3" stroke="#8b5a17" stroke-width="2.9"/>
<path d="M1699.2,686.6 L1807.5,714.9" stroke="#a9b0b8" stroke-width="2.3"/>
<path d="M1699.2,686.6 L1807.5,714.9" stroke="#4a505c" stroke-width="2.3" stroke-dasharray="2.2 2.6"/>
<path d="M1699.2,688.1 L1807.5,716.3" stroke="#6a4a1a" stroke-width="0.7"/>
<path d="M1654.8,696.0 L1745.7,718.8" stroke="#8b5a17" stroke-width="3.2"/>
<path d="M1653.3,698.9 L1744.2,721.7" stroke="#a9b0b8" stroke-width="2.6"/>
<path d="M1653.3,698.9 L1744.2,721.7" stroke="#4a505c" stroke-width="2.6" stroke-dasharray="2.2 2.6"/>
<path d="M1653.3,700.5 L1744.2,723.2" stroke="#6a4a1a" stroke-width="0.7"/>
<path d="M1680.7,696.7 L1775.0,720.3" stroke="#8b5a17" stroke-width="3.2"/>
<path d="M1679.2,699.6 L1773.5,723.2" stroke="#a9b0b8" stroke-width="2.6"/>
<path d="M1679.2,699.6 L1773.5,723.2" stroke="#4a505c" stroke-width="2.6" stroke-dasharray="2.2 2.6"/>
<path d="M1679.2,701.2 L1773.5,724.8" stroke="#6a4a1a" stroke-width="0.7"/>
<path d="M1615.7,696.1 L1723.0,727.4" stroke="#8b5a17" stroke-width="2.9"/>
<path d="M1614.2,698.7 L1721.5,730.0" stroke="#a9b0b8" stroke-width="2.3"/>
<path d="M1614.2,698.7 L1721.5,730.0" stroke="#4a505c" stroke-width="2.3" stroke-dasharray="2.2 2.6"/>
<path d="M1614.2,700.2 L1721.5,731.4" stroke="#6a4a1a" stroke-width="0.7"/>
<path d="M1592.3,700.0 L1695.8,732.0" stroke="#8b5a17" stroke-width="2.9"/>
<path d="M1590.8,702.6 L1694.3,734.6" stroke="#a9b0b8" stroke-width="2.3"/>
<path d="M1590.8,702.6 L1694.3,734.6" stroke="#4a505c" stroke-width="2.3" stroke-dasharray="2.2 2.6"/>
<path d="M1590.8,704.0 L1694.3,736.1" stroke="#6a4a1a" stroke-width="0.7"/>
<path d="M1538.6,712.0 L1629.1,738.5" stroke="#8b5a17" stroke-width="3.2"/>
<path d="M1537.1,714.9 L1627.6,741.4" stroke="#a9b0b8" stroke-width="2.6"/>
<path d="M1537.1,714.9 L1627.6,741.4" stroke="#4a505c" stroke-width="2.6" stroke-dasharray="2.2 2.6"/>
<path d="M1537.1,716.5 L1627.6,743.0" stroke="#6a4a1a" stroke-width="0.7"/>
<path d="M1564.5,713.8 L1658.4,741.3" stroke="#8b5a17" stroke-width="3.2"/>
<path d="M1563.0,716.7 L1656.9,744.2" stroke="#a9b0b8" stroke-width="2.6"/>
<path d="M1563.0,716.7 L1656.9,744.2" stroke="#4a505c" stroke-width="2.6" stroke-dasharray="2.2 2.6"/>
<path d="M1563.0,718.2 L1656.9,745.8" stroke="#6a4a1a" stroke-width="0.7"/>
<path d="M1500.6,712.1 L1603.0,747.7" stroke="#8b5a17" stroke-width="2.9"/>
<path d="M1499.1,714.7 L1601.5,750.3" stroke="#a9b0b8" stroke-width="2.3"/>
<path d="M1499.1,714.7 L1601.5,750.3" stroke="#4a505c" stroke-width="2.3" stroke-dasharray="2.2 2.6"/>
<path d="M1499.1,716.1 L1601.5,751.8" stroke="#6a4a1a" stroke-width="0.7"/>
<path d="M1905.5,628.7 L2020.1,649.9" stroke="#8b5a17" stroke-width="2.9"/>
<path d="M1904.0,631.3 L2018.6,652.5" stroke="#a9b0b8" stroke-width="2.3"/>
<path d="M1904.0,631.3 L2018.6,652.5" stroke="#4a505c" stroke-width="2.3" stroke-dasharray="2.2 2.6"/>
<path d="M1904.0,632.8 L2018.6,653.9" stroke="#6a4a1a" stroke-width="0.7"/>
<path d="M1861.8,639.5 L1960.1,657.8" stroke="#8b5a17" stroke-width="3.2"/>
<path d="M1860.3,642.4 L1958.6,660.7" stroke="#a9b0b8" stroke-width="2.6"/>
<path d="M1860.3,642.4 L1958.6,660.7" stroke="#4a505c" stroke-width="2.6" stroke-dasharray="2.2 2.6"/>
<path d="M1860.3,644.0 L1958.6,662.3" stroke="#6a4a1a" stroke-width="0.7"/>
<path d="M1887.7,638.5 L1989.4,657.5" stroke="#8b5a17" stroke-width="3.2"/>
<path d="M1886.2,641.4 L1987.9,660.4" stroke="#a9b0b8" stroke-width="2.6"/>
<path d="M1886.2,641.4 L1987.9,660.4" stroke="#4a505c" stroke-width="2.6" stroke-dasharray="2.2 2.6"/>
<path d="M1886.2,643.0 L1987.9,661.9" stroke="#6a4a1a" stroke-width="0.7"/>
<path d="M1829.3,639.5 L1943.0,663.4" stroke="#8b5a17" stroke-width="2.9"/>
<path d="M1827.8,642.1 L1941.5,666.0" stroke="#a9b0b8" stroke-width="2.3"/>
<path d="M1827.8,642.1 L1941.5,666.0" stroke="#4a505c" stroke-width="2.3" stroke-dasharray="2.2 2.6"/>
<path d="M1827.8,643.6 L1941.5,667.4" stroke="#6a4a1a" stroke-width="0.7"/>
<path d="M1809.3,643.2 L1916.8,667.1" stroke="#8b5a17" stroke-width="2.9"/>
<path d="M1807.8,645.8 L1915.3,669.7" stroke="#a9b0b8" stroke-width="2.3"/>
<path d="M1807.8,645.8 L1915.3,669.7" stroke="#4a505c" stroke-width="2.3" stroke-dasharray="2.2 2.6"/>
<path d="M1807.8,647.3 L1915.3,671.1" stroke="#6a4a1a" stroke-width="0.7"/>
<path d="M1762.2,654.7 L1856.9,675.1" stroke="#8b5a17" stroke-width="3.2"/>
<path d="M1760.7,657.6 L1855.4,678.0" stroke="#a9b0b8" stroke-width="2.6"/>
<path d="M1760.7,657.6 L1855.4,678.0" stroke="#4a505c" stroke-width="2.6" stroke-dasharray="2.2 2.6"/>
<path d="M1760.7,659.2 L1855.4,679.6" stroke="#6a4a1a" stroke-width="0.7"/>
<path d="M1788.1,654.5 L1886.1,675.6" stroke="#8b5a17" stroke-width="3.2"/>
<path d="M1786.6,657.4 L1884.6,678.5" stroke="#a9b0b8" stroke-width="2.6"/>
<path d="M1786.6,657.4 L1884.6,678.5" stroke="#4a505c" stroke-width="2.6" stroke-dasharray="2.2 2.6"/>
<path d="M1786.6,658.9 L1884.6,680.1" stroke="#6a4a1a" stroke-width="0.7"/>
<path d="M1726.4,654.4 L1837.4,681.3" stroke="#8b5a17" stroke-width="2.9"/>
<path d="M1724.9,657.0 L1835.9,683.9" stroke="#a9b0b8" stroke-width="2.3"/>
<path d="M1724.9,657.0 L1835.9,683.9" stroke="#4a505c" stroke-width="2.3" stroke-dasharray="2.2 2.6"/>
<path d="M1724.9,658.5 L1835.9,685.4" stroke="#6a4a1a" stroke-width="0.7"/>
<path d="M1699.6,658.8 L1807.9,686.2" stroke="#8b5a17" stroke-width="2.9"/>
<path d="M1698.1,661.4 L1806.4,688.8" stroke="#a9b0b8" stroke-width="2.3"/>
<path d="M1698.1,661.4 L1806.4,688.8" stroke="#4a505c" stroke-width="2.3" stroke-dasharray="2.2 2.6"/>
<path d="M1698.1,662.9 L1806.4,690.2" stroke="#6a4a1a" stroke-width="0.7"/>
<path d="M1653.6,670.7 L1744.5,693.2" stroke="#8b5a17" stroke-width="3.2"/>
<path d="M1652.1,673.6 L1743.0,696.1" stroke="#a9b0b8" stroke-width="2.6"/>
<path d="M1652.1,673.6 L1743.0,696.1" stroke="#4a505c" stroke-width="2.6" stroke-dasharray="2.2 2.6"/>
<path d="M1652.1,675.2 L1743.0,697.7" stroke="#6a4a1a" stroke-width="0.7"/>
<path d="M1679.5,671.3 L1773.8,694.6" stroke="#8b5a17" stroke-width="3.2"/>
<path d="M1678.0,674.2 L1772.3,697.5" stroke="#a9b0b8" stroke-width="2.6"/>
<path d="M1678.0,674.2 L1772.3,697.5" stroke="#4a505c" stroke-width="2.6" stroke-dasharray="2.2 2.6"/>
<path d="M1678.0,675.8 L1772.3,699.1" stroke="#6a4a1a" stroke-width="0.7"/>
<path d="M1614.4,670.7 L1721.8,700.8" stroke="#8b5a17" stroke-width="2.9"/>
<path d="M1612.9,673.3 L1720.3,703.4" stroke="#a9b0b8" stroke-width="2.3"/>
<path d="M1612.9,673.3 L1720.3,703.4" stroke="#4a505c" stroke-width="2.3" stroke-dasharray="2.2 2.6"/>
<path d="M1612.9,674.8 L1720.3,704.8" stroke="#6a4a1a" stroke-width="0.7"/>
<path d="M1591.0,674.4 L1694.4,705.0" stroke="#8b5a17" stroke-width="2.9"/>
<path d="M1589.5,677.0 L1692.9,707.6" stroke="#a9b0b8" stroke-width="2.3"/>
<path d="M1589.5,677.0 L1692.9,707.6" stroke="#4a505c" stroke-width="2.3" stroke-dasharray="2.2 2.6"/>
<path d="M1589.5,678.5 L1692.9,709.1" stroke="#6a4a1a" stroke-width="0.7"/>
<path d="M1537.2,686.4 L1627.7,712.2" stroke="#8b5a17" stroke-width="3.2"/>
<path d="M1535.7,689.3 L1626.2,715.1" stroke="#a9b0b8" stroke-width="2.6"/>
<path d="M1535.7,689.3 L1626.2,715.1" stroke="#4a505c" stroke-width="2.6" stroke-dasharray="2.2 2.6"/>
<path d="M1535.7,690.8 L1626.2,716.7" stroke="#6a4a1a" stroke-width="0.7"/>
<path d="M1563.1,687.9 L1657.0,714.7" stroke="#8b5a17" stroke-width="3.2"/>
<path d="M1561.6,690.8 L1655.5,717.6" stroke="#a9b0b8" stroke-width="2.6"/>
<path d="M1561.6,690.8 L1655.5,717.6" stroke="#4a505c" stroke-width="2.6" stroke-dasharray="2.2 2.6"/>
<path d="M1561.6,692.4 L1655.5,719.2" stroke="#6a4a1a" stroke-width="0.7"/>
<path d="M1499.1,686.3 L1601.6,720.0" stroke="#8b5a17" stroke-width="2.9"/>
<path d="M1497.6,688.9 L1600.1,722.6" stroke="#a9b0b8" stroke-width="2.3"/>
<path d="M1497.6,688.9 L1600.1,722.6" stroke="#4a505c" stroke-width="2.3" stroke-dasharray="2.2 2.6"/>
<path d="M1497.6,690.4 L1600.1,724.0" stroke="#6a4a1a" stroke-width="0.7"/>
<path d="M1904.8,604.2 L2019.4,625.2" stroke="#8b5a17" stroke-width="2.9"/>
<path d="M1903.3,606.8 L2017.9,627.8" stroke="#a9b0b8" stroke-width="2.3"/>
<path d="M1903.3,606.8 L2017.9,627.8" stroke="#4a505c" stroke-width="2.3" stroke-dasharray="2.2 2.6"/>
<path d="M1903.3,608.2 L2017.9,629.2" stroke="#6a4a1a" stroke-width="0.7"/>
<path d="M1861.0,614.9 L1959.4,633.2" stroke="#8b5a17" stroke-width="3.2"/>
<path d="M1859.5,617.8 L1957.9,636.1" stroke="#a9b0b8" stroke-width="2.6"/>
<path d="M1859.5,617.8 L1957.9,636.1" stroke="#4a505c" stroke-width="2.6" stroke-dasharray="2.2 2.6"/>
<path d="M1859.5,619.4 L1957.9,637.7" stroke="#6a4a1a" stroke-width="0.7"/>
<path d="M1886.9,613.9 L1988.7,632.9" stroke="#8b5a17" stroke-width="3.2"/>
<path d="M1885.4,616.8 L1987.2,635.8" stroke="#a9b0b8" stroke-width="2.6"/>
<path d="M1885.4,616.8 L1987.2,635.8" stroke="#4a505c" stroke-width="2.6" stroke-dasharray="2.2 2.6"/>
<path d="M1885.4,618.4 L1987.2,637.4" stroke="#6a4a1a" stroke-width="0.7"/>
<path d="M1828.5,614.8 L1942.2,638.1" stroke="#8b5a17" stroke-width="2.9"/>
<path d="M1827.0,617.4 L1940.7,640.7" stroke="#a9b0b8" stroke-width="2.3"/>
<path d="M1827.0,617.4 L1940.7,640.7" stroke="#4a505c" stroke-width="2.3" stroke-dasharray="2.2 2.6"/>
<path d="M1827.0,618.8 L1940.7,642.2" stroke="#6a4a1a" stroke-width="0.7"/>
<path d="M1808.4,618.3 L1915.9,641.6" stroke="#8b5a17" stroke-width="2.9"/>
<path d="M1806.9,620.9 L1914.4,644.2" stroke="#a9b0b8" stroke-width="2.3"/>
<path d="M1806.9,620.9 L1914.4,644.2" stroke="#4a505c" stroke-width="2.3" stroke-dasharray="2.2 2.6"/>
<path d="M1806.9,622.4 L1914.4,645.6" stroke="#6a4a1a" stroke-width="0.7"/>
<path d="M1761.3,629.7 L1855.9,650.0" stroke="#8b5a17" stroke-width="3.2"/>
<path d="M1759.8,632.6 L1854.4,652.9" stroke="#a9b0b8" stroke-width="2.6"/>
<path d="M1759.8,632.6 L1854.4,652.9" stroke="#4a505c" stroke-width="2.6" stroke-dasharray="2.2 2.6"/>
<path d="M1759.8,634.2 L1854.4,654.5" stroke="#6a4a1a" stroke-width="0.7"/>
<path d="M1787.2,629.5 L1885.2,650.5" stroke="#8b5a17" stroke-width="3.2"/>
<path d="M1785.7,632.4 L1883.7,653.4" stroke="#a9b0b8" stroke-width="2.6"/>
<path d="M1785.7,632.4 L1883.7,653.4" stroke="#4a505c" stroke-width="2.6" stroke-dasharray="2.2 2.6"/>
<path d="M1785.7,633.9 L1883.7,655.0" stroke="#6a4a1a" stroke-width="0.7"/>
<path d="M1725.4,629.4 L1836.4,655.5" stroke="#8b5a17" stroke-width="2.9"/>
<path d="M1723.9,632.0 L1834.9,658.1" stroke="#a9b0b8" stroke-width="2.3"/>
<path d="M1723.9,632.0 L1834.9,658.1" stroke="#4a505c" stroke-width="2.3" stroke-dasharray="2.2 2.6"/>
<path d="M1723.9,633.4 L1834.9,659.5" stroke="#6a4a1a" stroke-width="0.7"/>
<path d="M1698.5,633.6 L1806.8,660.2" stroke="#8b5a17" stroke-width="2.9"/>
<path d="M1697.0,636.2 L1805.3,662.8" stroke="#a9b0b8" stroke-width="2.3"/>
<path d="M1697.0,636.2 L1805.3,662.8" stroke="#4a505c" stroke-width="2.3" stroke-dasharray="2.2 2.6"/>
<path d="M1697.0,637.7 L1805.3,664.2" stroke="#6a4a1a" stroke-width="0.7"/>
<path d="M1652.5,645.4 L1743.4,667.6" stroke="#8b5a17" stroke-width="3.2"/>
<path d="M1651.0,648.3 L1741.9,670.5" stroke="#a9b0b8" stroke-width="2.6"/>
<path d="M1651.0,648.3 L1741.9,670.5" stroke="#4a505c" stroke-width="2.6" stroke-dasharray="2.2 2.6"/>
<path d="M1651.0,649.9 L1741.9,672.1" stroke="#6a4a1a" stroke-width="0.7"/>
<path d="M1678.4,646.0 L1772.7,668.9" stroke="#8b5a17" stroke-width="3.2"/>
<path d="M1676.9,648.9 L1771.2,671.8" stroke="#a9b0b8" stroke-width="2.6"/>
<path d="M1676.9,648.9 L1771.2,671.8" stroke="#4a505c" stroke-width="2.6" stroke-dasharray="2.2 2.6"/>
<path d="M1676.9,650.4 L1771.2,673.4" stroke="#6a4a1a" stroke-width="0.7"/>
<path d="M1613.2,645.3 L1720.5,674.1" stroke="#8b5a17" stroke-width="2.9"/>
<path d="M1611.7,647.9 L1719.0,676.7" stroke="#a9b0b8" stroke-width="2.3"/>
<path d="M1611.7,647.9 L1719.0,676.7" stroke="#4a505c" stroke-width="2.3" stroke-dasharray="2.2 2.6"/>
<path d="M1611.7,649.4 L1719.0,678.2" stroke="#6a4a1a" stroke-width="0.7"/>
<path d="M1589.7,648.9 L1693.1,678.1" stroke="#8b5a17" stroke-width="2.9"/>
<path d="M1588.2,651.5 L1691.6,680.7" stroke="#a9b0b8" stroke-width="2.3"/>
<path d="M1588.2,651.5 L1691.6,680.7" stroke="#4a505c" stroke-width="2.3" stroke-dasharray="2.2 2.6"/>
<path d="M1588.2,653.0 L1691.6,682.1" stroke="#6a4a1a" stroke-width="0.7"/>
<path d="M1535.8,660.7 L1626.4,685.9" stroke="#8b5a17" stroke-width="3.2"/>
<path d="M1534.3,663.6 L1624.9,688.8" stroke="#a9b0b8" stroke-width="2.6"/>
<path d="M1534.3,663.6 L1624.9,688.8" stroke="#4a505c" stroke-width="2.6" stroke-dasharray="2.2 2.6"/>
<path d="M1534.3,665.2 L1624.9,690.3" stroke="#6a4a1a" stroke-width="0.7"/>
<path d="M1561.7,662.1 L1655.6,688.2" stroke="#8b5a17" stroke-width="3.2"/>
<path d="M1560.2,665.0 L1654.1,691.1" stroke="#a9b0b8" stroke-width="2.6"/>
<path d="M1560.2,665.0 L1654.1,691.1" stroke="#4a505c" stroke-width="2.6" stroke-dasharray="2.2 2.6"/>
<path d="M1560.2,666.6 L1654.1,692.7" stroke="#6a4a1a" stroke-width="0.7"/>
<path d="M1497.7,660.6 L1600.1,692.3" stroke="#8b5a17" stroke-width="2.9"/>
<path d="M1496.2,663.2 L1598.6,694.9" stroke="#a9b0b8" stroke-width="2.3"/>
<path d="M1496.2,663.2 L1598.6,694.9" stroke="#4a505c" stroke-width="2.3" stroke-dasharray="2.2 2.6"/>
<path d="M1496.2,664.7 L1598.6,696.3" stroke="#6a4a1a" stroke-width="0.7"/>
<path d="M1904.1,579.6 L2018.8,600.4" stroke="#8b5a17" stroke-width="2.9"/>
<path d="M1902.6,582.2 L2017.3,603.0" stroke="#a9b0b8" stroke-width="2.3"/>
<path d="M1902.6,582.2 L2017.3,603.0" stroke="#4a505c" stroke-width="2.3" stroke-dasharray="2.2 2.6"/>
<path d="M1902.6,583.7 L2017.3,604.5" stroke="#6a4a1a" stroke-width="0.7"/>
<path d="M1860.3,590.2 L1958.7,608.7" stroke="#8b5a17" stroke-width="3.2"/>
<path d="M1858.8,593.1 L1957.2,611.6" stroke="#a9b0b8" stroke-width="2.6"/>
<path d="M1858.8,593.1 L1957.2,611.6" stroke="#4a505c" stroke-width="2.6" stroke-dasharray="2.2 2.6"/>
<path d="M1858.8,594.7 L1957.2,613.1" stroke="#6a4a1a" stroke-width="0.7"/>
<path d="M1886.2,589.3 L1987.9,608.3" stroke="#8b5a17" stroke-width="3.2"/>
<path d="M1884.7,592.2 L1986.4,611.2" stroke="#a9b0b8" stroke-width="2.6"/>
<path d="M1884.7,592.2 L1986.4,611.2" stroke="#4a505c" stroke-width="2.6" stroke-dasharray="2.2 2.6"/>
<path d="M1884.7,593.8 L1986.4,612.8" stroke="#6a4a1a" stroke-width="0.7"/>
<path d="M1827.7,590.0 L1941.3,612.8" stroke="#8b5a17" stroke-width="2.9"/>
<path d="M1826.2,592.6 L1939.8,615.4" stroke="#a9b0b8" stroke-width="2.3"/>
<path d="M1826.2,592.6 L1939.8,615.4" stroke="#4a505c" stroke-width="2.3" stroke-dasharray="2.2 2.6"/>
<path d="M1826.2,594.0 L1939.8,616.9" stroke="#6a4a1a" stroke-width="0.7"/>
<path d="M1807.5,593.5 L1915.0,616.1" stroke="#8b5a17" stroke-width="2.9"/>
<path d="M1806.0,596.1 L1913.5,618.7" stroke="#a9b0b8" stroke-width="2.3"/>
<path d="M1806.0,596.1 L1913.5,618.7" stroke="#4a505c" stroke-width="2.3" stroke-dasharray="2.2 2.6"/>
<path d="M1806.0,597.5 L1913.5,620.1" stroke="#6a4a1a" stroke-width="0.7"/>
<path d="M1760.3,604.7 L1854.9,625.0" stroke="#8b5a17" stroke-width="3.2"/>
<path d="M1758.8,607.6 L1853.4,627.9" stroke="#a9b0b8" stroke-width="2.6"/>
<path d="M1758.8,607.6 L1853.4,627.9" stroke="#4a505c" stroke-width="2.6" stroke-dasharray="2.2 2.6"/>
<path d="M1758.8,609.2 L1853.4,629.4" stroke="#6a4a1a" stroke-width="0.7"/>
<path d="M1786.2,604.5 L1884.2,625.4" stroke="#8b5a17" stroke-width="3.2"/>
<path d="M1784.7,607.4 L1882.7,628.3" stroke="#a9b0b8" stroke-width="2.6"/>
<path d="M1784.7,607.4 L1882.7,628.3" stroke="#4a505c" stroke-width="2.6" stroke-dasharray="2.2 2.6"/>
<path d="M1784.7,608.9 L1882.7,629.9" stroke="#6a4a1a" stroke-width="0.7"/>
<path d="M1724.3,604.3 L1835.4,629.6" stroke="#8b5a17" stroke-width="2.9"/>
<path d="M1722.8,606.9 L1833.9,632.2" stroke="#a9b0b8" stroke-width="2.3"/>
<path d="M1722.8,606.9 L1833.9,632.2" stroke="#4a505c" stroke-width="2.3" stroke-dasharray="2.2 2.6"/>
<path d="M1722.8,608.3 L1833.9,633.6" stroke="#6a4a1a" stroke-width="0.7"/>
<path d="M1697.4,608.4 L1805.7,634.1" stroke="#8b5a17" stroke-width="2.9"/>
<path d="M1695.9,611.0 L1804.2,636.7" stroke="#a9b0b8" stroke-width="2.3"/>
<path d="M1695.9,611.0 L1804.2,636.7" stroke="#4a505c" stroke-width="2.3" stroke-dasharray="2.2 2.6"/>
<path d="M1695.9,612.5 L1804.2,638.1" stroke="#6a4a1a" stroke-width="0.7"/>
<path d="M1651.3,620.1 L1742.2,642.0" stroke="#8b5a17" stroke-width="3.2"/>
<path d="M1649.8,623.0 L1740.7,644.9" stroke="#a9b0b8" stroke-width="2.6"/>
<path d="M1649.8,623.0 L1740.7,644.9" stroke="#4a505c" stroke-width="2.6" stroke-dasharray="2.2 2.6"/>
<path d="M1649.8,624.6 L1740.7,646.5" stroke="#6a4a1a" stroke-width="0.7"/>
<path d="M1677.2,620.6 L1771.5,643.2" stroke="#8b5a17" stroke-width="3.2"/>
<path d="M1675.7,623.5 L1770.0,646.1" stroke="#a9b0b8" stroke-width="2.6"/>
<path d="M1675.7,623.5 L1770.0,646.1" stroke="#4a505c" stroke-width="2.6" stroke-dasharray="2.2 2.6"/>
<path d="M1675.7,625.0 L1770.0,647.7" stroke="#6a4a1a" stroke-width="0.7"/>
<path d="M1612.0,619.9 L1719.3,647.5" stroke="#8b5a17" stroke-width="2.9"/>
<path d="M1610.5,622.5 L1717.8,650.1" stroke="#a9b0b8" stroke-width="2.3"/>
<path d="M1610.5,622.5 L1717.8,650.1" stroke="#4a505c" stroke-width="2.3" stroke-dasharray="2.2 2.6"/>
<path d="M1610.5,624.0 L1717.8,651.5" stroke="#6a4a1a" stroke-width="0.7"/>
<path d="M1588.4,623.4 L1691.8,651.1" stroke="#8b5a17" stroke-width="2.9"/>
<path d="M1586.9,626.0 L1690.3,653.7" stroke="#a9b0b8" stroke-width="2.3"/>
<path d="M1586.9,626.0 L1690.3,653.7" stroke="#4a505c" stroke-width="2.3" stroke-dasharray="2.2 2.6"/>
<path d="M1586.9,627.4 L1690.3,655.1" stroke="#6a4a1a" stroke-width="0.7"/>
<path d="M1534.4,635.1 L1625.0,659.5" stroke="#8b5a17" stroke-width="3.2"/>
<path d="M1532.9,638.0 L1623.5,662.4" stroke="#a9b0b8" stroke-width="2.6"/>
<path d="M1532.9,638.0 L1623.5,662.4" stroke="#4a505c" stroke-width="2.6" stroke-dasharray="2.2 2.6"/>
<path d="M1532.9,639.6 L1623.5,664.0" stroke="#6a4a1a" stroke-width="0.7"/>
<path d="M1560.3,636.3 L1654.3,661.6" stroke="#8b5a17" stroke-width="3.2"/>
<path d="M1558.8,639.2 L1652.8,664.5" stroke="#a9b0b8" stroke-width="2.6"/>
<path d="M1558.8,639.2 L1652.8,664.5" stroke="#4a505c" stroke-width="2.6" stroke-dasharray="2.2 2.6"/>
<path d="M1558.8,640.8 L1652.8,666.1" stroke="#6a4a1a" stroke-width="0.7"/>
<path d="M1496.2,634.9 L1598.7,664.5" stroke="#8b5a17" stroke-width="2.9"/>
<path d="M1494.7,637.5 L1597.2,667.1" stroke="#a9b0b8" stroke-width="2.3"/>
<path d="M1494.7,637.5 L1597.2,667.1" stroke="#4a505c" stroke-width="2.3" stroke-dasharray="2.2 2.6"/>
<path d="M1494.7,638.9 L1597.2,668.6" stroke="#6a4a1a" stroke-width="0.7"/>
<path d="M1903.5,555.1 L2018.1,575.7" stroke="#8b5a17" stroke-width="2.9"/>
<path d="M1902.0,557.7 L2016.6,578.3" stroke="#a9b0b8" stroke-width="2.3"/>
<path d="M1902.0,557.7 L2016.6,578.3" stroke="#4a505c" stroke-width="2.3" stroke-dasharray="2.2 2.6"/>
<path d="M1902.0,559.1 L2016.6,579.8" stroke="#6a4a1a" stroke-width="0.7"/>
<path d="M1859.6,565.6 L1957.9,584.1" stroke="#8b5a17" stroke-width="3.2"/>
<path d="M1858.1,568.5 L1956.4,587.0" stroke="#a9b0b8" stroke-width="2.6"/>
<path d="M1858.1,568.5 L1956.4,587.0" stroke="#4a505c" stroke-width="2.6" stroke-dasharray="2.2 2.6"/>
<path d="M1858.1,570.0 L1956.4,588.6" stroke="#6a4a1a" stroke-width="0.7"/>
<path d="M1885.4,564.6 L1987.2,583.8" stroke="#8b5a17" stroke-width="3.2"/>
<path d="M1883.9,567.5 L1985.7,586.7" stroke="#a9b0b8" stroke-width="2.6"/>
<path d="M1883.9,567.5 L1985.7,586.7" stroke="#4a505c" stroke-width="2.6" stroke-dasharray="2.2 2.6"/>
<path d="M1883.9,569.1 L1985.7,588.3" stroke="#6a4a1a" stroke-width="0.7"/>
<path d="M1826.9,565.2 L1940.5,587.5" stroke="#8b5a17" stroke-width="2.9"/>
<path d="M1825.4,567.8 L1939.0,590.1" stroke="#a9b0b8" stroke-width="2.3"/>
<path d="M1825.4,567.8 L1939.0,590.1" stroke="#4a505c" stroke-width="2.3" stroke-dasharray="2.2 2.6"/>
<path d="M1825.4,569.3 L1939.0,591.6" stroke="#6a4a1a" stroke-width="0.7"/>
<path d="M1806.6,568.6 L1914.1,590.6" stroke="#8b5a17" stroke-width="2.9"/>
<path d="M1805.1,571.2 L1912.6,593.2" stroke="#a9b0b8" stroke-width="2.3"/>
<path d="M1805.1,571.2 L1912.6,593.2" stroke="#4a505c" stroke-width="2.3" stroke-dasharray="2.2 2.6"/>
<path d="M1805.1,572.7 L1912.6,594.6" stroke="#6a4a1a" stroke-width="0.7"/>
<path d="M1759.3,579.8 L1854.0,599.9" stroke="#8b5a17" stroke-width="3.2"/>
<path d="M1757.8,582.7 L1852.5,602.8" stroke="#a9b0b8" stroke-width="2.6"/>
<path d="M1757.8,582.7 L1852.5,602.8" stroke="#4a505c" stroke-width="2.6" stroke-dasharray="2.2 2.6"/>
<path d="M1757.8,584.2 L1852.5,604.4" stroke="#6a4a1a" stroke-width="0.7"/>
<path d="M1785.2,579.5 L1883.3,600.3" stroke="#8b5a17" stroke-width="3.2"/>
<path d="M1783.7,582.4 L1881.8,603.2" stroke="#a9b0b8" stroke-width="2.6"/>
<path d="M1783.7,582.4 L1881.8,603.2" stroke="#4a505c" stroke-width="2.6" stroke-dasharray="2.2 2.6"/>
<path d="M1783.7,583.9 L1881.8,604.8" stroke="#6a4a1a" stroke-width="0.7"/>
<path d="M1723.3,579.2 L1834.4,603.7" stroke="#8b5a17" stroke-width="2.9"/>
<path d="M1721.8,581.8 L1832.9,606.3" stroke="#a9b0b8" stroke-width="2.3"/>
<path d="M1721.8,581.8 L1832.9,606.3" stroke="#4a505c" stroke-width="2.3" stroke-dasharray="2.2 2.6"/>
<path d="M1721.8,583.2 L1832.9,607.8" stroke="#6a4a1a" stroke-width="0.7"/>
<path d="M1696.3,583.2 L1804.6,608.1" stroke="#8b5a17" stroke-width="2.9"/>
<path d="M1694.8,585.8 L1803.1,610.7" stroke="#a9b0b8" stroke-width="2.3"/>
<path d="M1694.8,585.8 L1803.1,610.7" stroke="#4a505c" stroke-width="2.3" stroke-dasharray="2.2 2.6"/>
<path d="M1694.8,587.3 L1803.1,612.1" stroke="#6a4a1a" stroke-width="0.7"/>
<path d="M1650.1,594.8 L1741.0,616.4" stroke="#8b5a17" stroke-width="3.2"/>
<path d="M1648.6,597.7 L1739.5,619.3" stroke="#a9b0b8" stroke-width="2.6"/>
<path d="M1648.6,597.7 L1739.5,619.3" stroke="#4a505c" stroke-width="2.6" stroke-dasharray="2.2 2.6"/>
<path d="M1648.6,599.3 L1739.5,620.9" stroke="#6a4a1a" stroke-width="0.7"/>
<path d="M1676.0,595.2 L1770.3,617.6" stroke="#8b5a17" stroke-width="3.2"/>
<path d="M1674.5,598.1 L1768.8,620.5" stroke="#a9b0b8" stroke-width="2.6"/>
<path d="M1674.5,598.1 L1768.8,620.5" stroke="#4a505c" stroke-width="2.6" stroke-dasharray="2.2 2.6"/>
<path d="M1674.5,599.7 L1768.8,622.0" stroke="#6a4a1a" stroke-width="0.7"/>
<path d="M1610.7,594.5 L1718.0,620.8" stroke="#8b5a17" stroke-width="2.9"/>
<path d="M1609.2,597.1 L1716.5,623.4" stroke="#a9b0b8" stroke-width="2.3"/>
<path d="M1609.2,597.1 L1716.5,623.4" stroke="#4a505c" stroke-width="2.3" stroke-dasharray="2.2 2.6"/>
<path d="M1609.2,598.5 L1716.5,624.9" stroke="#6a4a1a" stroke-width="0.7"/>
<path d="M1587.1,597.9 L1690.5,624.1" stroke="#8b5a17" stroke-width="2.9"/>
<path d="M1585.6,600.5 L1689.0,626.7" stroke="#a9b0b8" stroke-width="2.3"/>
<path d="M1585.6,600.5 L1689.0,626.7" stroke="#4a505c" stroke-width="2.3" stroke-dasharray="2.2 2.6"/>
<path d="M1585.6,601.9 L1689.0,628.2" stroke="#6a4a1a" stroke-width="0.7"/>
<path d="M1533.0,609.5 L1623.6,633.2" stroke="#8b5a17" stroke-width="3.2"/>
<path d="M1531.5,612.4 L1622.1,636.1" stroke="#a9b0b8" stroke-width="2.6"/>
<path d="M1531.5,612.4 L1622.1,636.1" stroke="#4a505c" stroke-width="2.6" stroke-dasharray="2.2 2.6"/>
<path d="M1531.5,614.0 L1622.1,637.7" stroke="#6a4a1a" stroke-width="0.7"/>
<path d="M1558.9,610.5 L1652.9,635.1" stroke="#8b5a17" stroke-width="3.2"/>
<path d="M1557.4,613.4 L1651.4,638.0" stroke="#a9b0b8" stroke-width="2.6"/>
<path d="M1557.4,613.4 L1651.4,638.0" stroke="#4a505c" stroke-width="2.6" stroke-dasharray="2.2 2.6"/>
<path d="M1557.4,614.9 L1651.4,639.5" stroke="#6a4a1a" stroke-width="0.7"/>
<path d="M1494.8,609.1 L1597.2,636.8" stroke="#8b5a17" stroke-width="2.9"/>
<path d="M1493.3,611.7 L1595.7,639.4" stroke="#a9b0b8" stroke-width="2.3"/>
<path d="M1493.3,611.7 L1595.7,639.4" stroke="#4a505c" stroke-width="2.3" stroke-dasharray="2.2 2.6"/>
<path d="M1493.3,613.2 L1595.7,640.8" stroke="#6a4a1a" stroke-width="0.7"/>
</svg></div>
<div class="refl" style="left:2134.3px;width:637.5px"></div>
<div class="card" style="left:2134.3px;width:637.5px"><svg width="637.5" height="422.5" viewBox="2134.3 485.8 637.5 422.5" fill="none" stroke-linecap="round" stroke-linejoin="round">
<path d="M2174.5,599.6 L2251.3,610.4" stroke="#101010" stroke-width="1.14" stroke-dasharray="11.2 1.5 16.4 1.2 14.6 2.1 6.9 2.5" stroke-dashoffset="1.4" opacity="0.83"/>
<path d="M2222.2,596.8 L2341.0,612.8" stroke="#101010" stroke-width="1.46" stroke-dasharray="7.5 2.3 19.2 1.4 9.6 2.9 21.2 2.7" stroke-dashoffset="0.9" opacity="0.97"/>
<path d="M2222.2,599.8 L2341.0,615.9" stroke="#101010" stroke-width="1.70" stroke-dasharray="19.7 1.9 8.3 1.4 10.9 3.4 8.9 2.7" stroke-dashoffset="11.0" opacity="0.79"/>
<path d="M2236.2,604.7 L2362.0,621.7" stroke="#101010" stroke-width="1.37" stroke-dasharray="7.0 1.2 9.3 3.0 12.8 1.9 15.4 2.4" stroke-dashoffset="14.0" opacity="0.91"/>
<path d="M2280.4,594.9 L2382.9,608.3" stroke="#101010" stroke-width="1.45" stroke-dasharray="9.9 2.7 14.4 3.6 17.7 1.9 21.7 1.4" stroke-dashoffset="3.0" opacity="0.88"/>
<path d="M2303.7,593.8 L2434.2,610.1" stroke="#101010" stroke-width="1.58" stroke-dasharray="13.8 1.1 16.7 3.3 15.2 3.6 11.0 3.1" stroke-dashoffset="9.1" opacity="0.80"/>
<path d="M2343.3,591.4 L2471.4,606.8" stroke="#101010" stroke-width="1.75" stroke-dasharray="19.4 3.8 13.6 3.0 7.0 3.1 16.4 4.0" stroke-dashoffset="7.7" opacity="0.70"/>
<path d="M2343.3,594.5 L2471.4,609.8" stroke="#101010" stroke-width="1.23" stroke-dasharray="16.7 1.1 13.4 1.5 7.9 1.2 18.3 1.4" stroke-dashoffset="17.4" opacity="0.73"/>
<path d="M2357.3,599.2 L2492.4,615.4" stroke="#101010" stroke-width="1.33" stroke-dasharray="7.3 2.3 14.8 3.7 19.1 3.6 10.5 2.2" stroke-dashoffset="19.2" opacity="0.86"/>
<path d="M2399.2,589.8 L2515.7,603.2" stroke="#101010" stroke-width="1.35" stroke-dasharray="8.4 1.5 9.7 1.7 13.8 2.8 10.2 1.0" stroke-dashoffset="11.3" opacity="0.70"/>
<path d="M2424.8,588.4 L2546.0,601.7" stroke="#101010" stroke-width="1.71" stroke-dasharray="21.2 3.1 14.2 2.9 16.8 1.2 20.4 3.3" stroke-dashoffset="7.8" opacity="0.79"/>
<path d="M2466.8,586.8 L2618.2,602.7" stroke="#101010" stroke-width="0.97" stroke-dasharray="12.4 1.3 16.1 1.2 7.1 1.6 8.6 2.0" stroke-dashoffset="3.0" opacity="0.57"/>
<path d="M2466.8,589.8 L2618.2,605.7" stroke="#101010" stroke-width="1.23" stroke-dasharray="7.6 2.1 6.4 3.6 15.8 1.4 10.0 2.0" stroke-dashoffset="17.0" opacity="0.60"/>
<path d="M2480.7,594.3 L2639.1,610.9" stroke="#101010" stroke-width="1.06" stroke-dasharray="21.9 2.4 13.7 1.3 7.6 2.0 10.2 3.5" stroke-dashoffset="19.0" opacity="0.57"/>
<path d="M2520.3,584.5 L2632.1,595.6" stroke="#101010" stroke-width="1.11" stroke-dasharray="14.5 1.4 14.7 1.1 14.4 3.9 19.8 3.1" stroke-dashoffset="3.3" opacity="0.63"/>
<path d="M2541.3,583.3 L2662.4,594.8" stroke="#101010" stroke-width="1.52" stroke-dasharray="18.4 2.6 18.5 2.0 9.6 3.4 21.8 3.6" stroke-dashoffset="14.8" opacity="0.71"/>
<path d="M2578.6,582.1 L2711.3,594.1" stroke="#101010" stroke-width="1.59" stroke-dasharray="9.6 2.6 11.7 1.1 6.4 1.8 10.1 3.1" stroke-dashoffset="18.7" opacity="0.61"/>
<path d="M2578.6,585.2 L2711.3,597.1" stroke="#101010" stroke-width="1.55" stroke-dasharray="21.8 3.9 11.8 1.7 9.6 1.6 9.3 2.9" stroke-dashoffset="9.6" opacity="0.69"/>
<path d="M2592.6,589.4 L2732.3,602.0" stroke="#101010" stroke-width="0.99" stroke-dasharray="16.4 3.4 7.4 3.0 20.6 3.3 18.0 2.4" stroke-dashoffset="6.7" opacity="0.68"/>
<path d="M2632.1,580.5 L2732.3,589.0" stroke="#101010" stroke-width="0.94" stroke-dasharray="18.8 3.9 12.3 2.2 21.1 3.2 8.7 1.4" stroke-dashoffset="16.1" opacity="0.68"/>
<path d="M2175.1,626.9 L2251.9,639.9" stroke="#101010" stroke-width="2.07" stroke-dasharray="8.3 3.5 21.7 3.0 11.6 2.6 8.1 1.0" stroke-dashoffset="10.5" opacity="0.89"/>
<path d="M2222.8,624.1 L2341.6,643.5" stroke="#101010" stroke-width="1.65" stroke-dasharray="20.9 2.3 19.9 3.5 9.4 1.8 10.7 1.7" stroke-dashoffset="8.4" opacity="0.76"/>
<path d="M2222.8,627.1 L2341.6,646.5" stroke="#101010" stroke-width="1.57" stroke-dasharray="8.1 3.7 11.7 2.4 15.3 3.7 12.7 3.8" stroke-dashoffset="10.5" opacity="0.84"/>
<path d="M2236.7,632.4 L2362.5,653.0" stroke="#101010" stroke-width="1.62" stroke-dasharray="6.3 2.3 8.9 1.0 18.8 1.5 13.6 3.2" stroke-dashoffset="10.4" opacity="0.78"/>
<path d="M2281.0,622.2 L2383.5,638.3" stroke="#101010" stroke-width="1.59" stroke-dasharray="14.9 3.4 7.7 2.7 10.0 1.8 18.4 2.5" stroke-dashoffset="18.2" opacity="0.88"/>
<path d="M2304.2,621.0 L2434.7,640.6" stroke="#101010" stroke-width="1.90" stroke-dasharray="13.1 2.8 14.1 2.5 17.1 2.4 14.5 2.4" stroke-dashoffset="17.5" opacity="0.84"/>
<path d="M2343.8,618.6 L2471.9,637.1" stroke="#101010" stroke-width="1.07" stroke-dasharray="21.1 1.8 15.0 3.8 19.4 1.4 7.9 2.3" stroke-dashoffset="1.5" opacity="0.69"/>
<path d="M2343.8,621.7 L2471.9,640.1" stroke="#101010" stroke-width="1.88" stroke-dasharray="16.7 3.4 20.4 1.5 17.5 3.0 8.3 3.6" stroke-dashoffset="19.1" opacity="0.68"/>
<path d="M2357.8,626.7 L2492.9,646.2" stroke="#101010" stroke-width="1.18" stroke-dasharray="12.4 2.5 21.8 3.5 8.6 2.3 14.2 2.0" stroke-dashoffset="14.4" opacity="0.71"/>
<path d="M2399.7,617.0 L2516.1,633.0" stroke="#101010" stroke-width="1.85" stroke-dasharray="6.3 2.7 13.0 1.1 11.3 2.9 14.2 1.2" stroke-dashoffset="19.4" opacity="0.81"/>
<path d="M2425.3,615.6 L2546.4,631.4" stroke="#101010" stroke-width="1.66" stroke-dasharray="7.7 1.8 6.6 3.3 10.3 1.4 12.8 3.7" stroke-dashoffset="3.0" opacity="0.65"/>
<path d="M2467.2,613.9 L2618.6,632.8" stroke="#101010" stroke-width="1.71" stroke-dasharray="20.7 2.7 17.2 1.3 6.9 3.1 12.8 1.2" stroke-dashoffset="16.0" opacity="0.72"/>
<path d="M2467.2,616.9 L2618.6,635.8" stroke="#101010" stroke-width="1.15" stroke-dasharray="7.3 3.6 7.1 3.6 13.3 2.0 14.8 3.8" stroke-dashoffset="10.5" opacity="0.60"/>
<path d="M2481.1,621.7 L2639.5,641.4" stroke="#101010" stroke-width="1.17" stroke-dasharray="9.8 1.3 8.6 1.2 9.2 1.9 10.9 3.3" stroke-dashoffset="3.6" opacity="0.69"/>
<path d="M2520.7,611.5 L2632.5,624.7" stroke="#101010" stroke-width="1.66" stroke-dasharray="11.6 1.1 10.0 1.0 17.7 2.7 9.0 2.4" stroke-dashoffset="16.4" opacity="0.57"/>
<path d="M2541.6,610.4 L2662.8,623.9" stroke="#101010" stroke-width="1.54" stroke-dasharray="12.9 2.5 19.4 2.2 14.1 3.1 21.7 2.0" stroke-dashoffset="12.7" opacity="0.69"/>
<path d="M2578.9,609.2 L2711.6,623.1" stroke="#101010" stroke-width="0.92" stroke-dasharray="12.5 2.0 6.9 1.4 7.1 3.2 10.1 1.5" stroke-dashoffset="17.4" opacity="0.69"/>
<path d="M2578.9,612.2 L2711.6,626.1" stroke="#101010" stroke-width="1.59" stroke-dasharray="16.7 1.8 9.9 1.9 13.4 1.5 13.1 1.8" stroke-dashoffset="10.9" opacity="0.72"/>
<path d="M2592.8,616.7 L2732.6,631.4" stroke="#101010" stroke-width="1.01" stroke-dasharray="9.9 3.9 11.0 2.1 6.0 2.1 13.6 2.5" stroke-dashoffset="0.1" opacity="0.62"/>
<path d="M2632.4,607.5 L2732.6,617.4" stroke="#101010" stroke-width="1.22" stroke-dasharray="10.2 1.3 12.4 1.1 6.4 1.9 9.7 2.8" stroke-dashoffset="13.2" opacity="0.65"/>
<path d="M2175.7,654.2 L2252.5,669.5" stroke="#101010" stroke-width="1.14" stroke-dasharray="17.5 3.6 12.2 2.0 21.8 1.4 17.6 2.9" stroke-dashoffset="17.8" opacity="0.95"/>
<path d="M2223.3,651.3 L2342.1,674.1" stroke="#101010" stroke-width="1.88" stroke-dasharray="16.0 3.2 19.0 1.4 14.4 2.5 19.4 3.4" stroke-dashoffset="17.9" opacity="0.85"/>
<path d="M2223.3,654.4 L2342.1,677.2" stroke="#101010" stroke-width="1.62" stroke-dasharray="16.9 3.1 9.7 1.1 8.1 2.1 7.7 3.5" stroke-dashoffset="12.5" opacity="0.86"/>
<path d="M2237.3,660.1 L2363.1,684.2" stroke="#101010" stroke-width="1.14" stroke-dasharray="16.9 2.5 6.1 3.4 18.0 2.5 14.6 3.0" stroke-dashoffset="5.0" opacity="0.90"/>
<path d="M2281.5,649.4 L2384.0,668.3" stroke="#101010" stroke-width="1.51" stroke-dasharray="7.2 1.8 17.7 1.6 17.8 3.9 13.9 2.1" stroke-dashoffset="15.3" opacity="0.86"/>
<path d="M2304.7,648.2 L2435.2,671.2" stroke="#101010" stroke-width="1.04" stroke-dasharray="15.9 2.9 7.2 1.4 10.1 3.2 10.9 2.7" stroke-dashoffset="5.4" opacity="0.66"/>
<path d="M2344.3,645.8 L2472.4,667.3" stroke="#101010" stroke-width="1.81" stroke-dasharray="16.8 3.1 16.8 1.9 14.3 2.4 13.5 1.4" stroke-dashoffset="19.6" opacity="0.68"/>
<path d="M2344.3,648.8 L2472.4,670.4" stroke="#101010" stroke-width="1.86" stroke-dasharray="21.0 1.1 13.3 3.5 21.5 2.3 10.3 1.6" stroke-dashoffset="11.6" opacity="0.68"/>
<path d="M2358.3,654.2 L2493.3,676.9" stroke="#101010" stroke-width="1.21" stroke-dasharray="8.3 2.6 21.2 1.4 19.1 2.5 20.2 3.1" stroke-dashoffset="9.7" opacity="0.86"/>
<path d="M2400.1,644.1 L2516.6,662.8" stroke="#101010" stroke-width="1.72" stroke-dasharray="6.4 1.0 13.9 2.4 10.8 1.4 11.5 1.9" stroke-dashoffset="15.0" opacity="0.60"/>
<path d="M2425.7,642.7 L2546.8,661.1" stroke="#101010" stroke-width="1.81" stroke-dasharray="19.4 1.4 20.8 3.1 20.4 1.9 12.0 2.2" stroke-dashoffset="7.2" opacity="0.73"/>
<path d="M2467.5,641.0 L2618.9,662.8" stroke="#101010" stroke-width="1.15" stroke-dasharray="12.8 1.8 6.8 1.3 19.4 1.9 21.0 1.7" stroke-dashoffset="3.8" opacity="0.69"/>
<path d="M2467.5,644.0 L2618.9,665.9" stroke="#101010" stroke-width="1.53" stroke-dasharray="12.0 3.9 20.1 3.4 16.1 3.7 21.1 2.6" stroke-dashoffset="14.6" opacity="0.58"/>
<path d="M2481.5,649.1 L2639.9,671.9" stroke="#101010" stroke-width="1.21" stroke-dasharray="13.2 3.3 16.3 1.9 6.8 3.8 8.0 2.4" stroke-dashoffset="14.8" opacity="0.64"/>
<path d="M2521.1,638.6 L2632.9,653.9" stroke="#101010" stroke-width="1.07" stroke-dasharray="21.6 1.8 16.5 1.9 14.9 2.2 8.7 1.5" stroke-dashoffset="9.9" opacity="0.76"/>
<path d="M2542.0,637.4 L2663.1,652.9" stroke="#101010" stroke-width="0.95" stroke-dasharray="9.5 3.7 21.9 2.3 8.2 1.6 7.5 2.0" stroke-dashoffset="5.2" opacity="0.58"/>
<path d="M2579.2,636.2 L2711.9,652.2" stroke="#101010" stroke-width="0.90" stroke-dasharray="15.1 3.7 18.0 2.2 12.6 2.6 12.0 2.0" stroke-dashoffset="19.4" opacity="0.57"/>
<path d="M2579.2,639.2 L2711.9,655.2" stroke="#101010" stroke-width="1.19" stroke-dasharray="8.0 2.5 16.1 3.6 9.5 1.8 10.0 2.2" stroke-dashoffset="17.0" opacity="0.72"/>
<path d="M2593.1,643.9 L2732.9,660.7" stroke="#101010" stroke-width="1.15" stroke-dasharray="20.0 1.1 6.5 3.1 20.3 2.4 15.4 1.0" stroke-dashoffset="16.5" opacity="0.71"/>
<path d="M2632.7,634.5 L2732.8,645.8" stroke="#101010" stroke-width="1.37" stroke-dasharray="19.7 3.9 10.0 1.3 8.5 2.6 16.9 3.8" stroke-dashoffset="15.3" opacity="0.63"/>
<path d="M2176.3,681.5 L2253.1,699.1" stroke="#101010" stroke-width="1.23" stroke-dasharray="13.3 2.7 6.6 3.3 9.7 3.8 16.3 1.9" stroke-dashoffset="12.7" opacity="0.78"/>
<path d="M2223.9,678.6 L2342.7,704.8" stroke="#101010" stroke-width="1.09" stroke-dasharray="17.2 1.3 7.1 2.6 15.3 2.2 9.6 2.8" stroke-dashoffset="9.2" opacity="0.77"/>
<path d="M2223.9,681.6 L2342.7,707.8" stroke="#101010" stroke-width="1.38" stroke-dasharray="21.3 2.9 20.1 2.4 9.8 1.7 21.4 3.1" stroke-dashoffset="10.0" opacity="0.69"/>
<path d="M2237.9,687.7 L2363.7,715.5" stroke="#101010" stroke-width="1.49" stroke-dasharray="16.8 2.3 10.1 3.0 20.8 1.7 6.5 2.0" stroke-dashoffset="4.0" opacity="0.88"/>
<path d="M2282.1,676.6 L2384.5,698.3" stroke="#101010" stroke-width="1.26" stroke-dasharray="18.8 3.2 14.1 1.6 21.5 1.9 19.1 1.7" stroke-dashoffset="5.9" opacity="0.88"/>
<path d="M2305.3,675.4 L2435.7,701.7" stroke="#101010" stroke-width="1.39" stroke-dasharray="21.2 2.5 9.0 1.7 12.7 3.0 21.2 1.4" stroke-dashoffset="19.5" opacity="0.70"/>
<path d="M2344.8,673.0 L2472.9,697.6" stroke="#101010" stroke-width="1.85" stroke-dasharray="8.3 1.2 7.0 2.2 20.4 3.7 17.7 4.0" stroke-dashoffset="3.7" opacity="0.71"/>
<path d="M2344.8,676.0 L2472.9,700.6" stroke="#101010" stroke-width="1.00" stroke-dasharray="21.0 3.2 6.5 3.0 12.1 2.1 11.3 1.5" stroke-dashoffset="7.0" opacity="0.70"/>
<path d="M2358.7,681.7 L2493.8,707.7" stroke="#101010" stroke-width="1.04" stroke-dasharray="21.3 1.4 21.4 1.6 11.7 3.5 19.2 2.3" stroke-dashoffset="7.5" opacity="0.75"/>
<path d="M2400.6,671.3 L2517.0,692.6" stroke="#101010" stroke-width="1.01" stroke-dasharray="20.7 1.6 11.8 3.7 6.5 2.2 19.0 3.3" stroke-dashoffset="1.3" opacity="0.61"/>
<path d="M2426.1,669.8 L2547.2,690.8" stroke="#101010" stroke-width="1.18" stroke-dasharray="20.7 1.8 18.0 3.7 11.4 1.8 21.3 2.9" stroke-dashoffset="6.3" opacity="0.77"/>
<path d="M2467.9,668.1 L2619.3,692.9" stroke="#101010" stroke-width="1.32" stroke-dasharray="10.4 1.0 18.1 3.7 16.1 3.8 6.4 1.7" stroke-dashoffset="19.1" opacity="0.80"/>
<path d="M2467.9,671.2 L2619.3,695.9" stroke="#101010" stroke-width="1.62" stroke-dasharray="12.2 1.8 12.9 2.5 20.8 1.5 18.8 3.2" stroke-dashoffset="12.1" opacity="0.75"/>
<path d="M2481.9,676.5 L2640.3,702.4" stroke="#101010" stroke-width="0.98" stroke-dasharray="11.2 2.0 11.8 3.3 7.3 1.6 18.0 1.7" stroke-dashoffset="11.1" opacity="0.57"/>
<path d="M2521.4,665.7 L2633.2,683.0" stroke="#101010" stroke-width="1.48" stroke-dasharray="11.2 3.9 20.1 4.0 10.2 1.3 7.5 2.5" stroke-dashoffset="4.7" opacity="0.65"/>
<path d="M2542.3,664.5 L2663.4,682.0" stroke="#101010" stroke-width="1.11" stroke-dasharray="12.7 2.9 16.8 3.2 19.6 3.0 7.9 3.5" stroke-dashoffset="7.5" opacity="0.66"/>
<path d="M2579.5,663.3 L2712.2,681.2" stroke="#101010" stroke-width="1.16" stroke-dasharray="17.8 1.6 10.0 1.7 8.5 3.7 15.3 2.0" stroke-dashoffset="10.1" opacity="0.73"/>
<path d="M2579.5,666.3 L2712.2,684.2" stroke="#101010" stroke-width="1.56" stroke-dasharray="9.7 3.4 16.5 4.0 7.6 2.4 19.1 3.5" stroke-dashoffset="5.9" opacity="0.52"/>
<path d="M2593.4,671.2 L2733.2,690.1" stroke="#101010" stroke-width="1.05" stroke-dasharray="7.9 1.6 21.6 2.7 20.9 2.1 19.9 2.3" stroke-dashoffset="18.9" opacity="0.68"/>
<path d="M2632.9,661.6 L2733.1,674.1" stroke="#101010" stroke-width="1.27" stroke-dasharray="7.7 2.8 15.9 1.7 11.9 1.4 9.3 1.8" stroke-dashoffset="4.1" opacity="0.63"/>
<path d="M2176.9,708.7 L2253.7,728.7" stroke="#101010" stroke-width="1.16" stroke-dasharray="6.2 2.0 16.9 1.6 11.0 1.6 18.7 2.6" stroke-dashoffset="7.9" opacity="0.73"/>
<path d="M2224.5,705.8 L2343.3,735.4" stroke="#101010" stroke-width="2.01" stroke-dasharray="14.8 2.9 7.5 1.5 17.1 2.2 10.5 1.9" stroke-dashoffset="11.3" opacity="0.77"/>
<path d="M2224.5,708.9 L2343.3,738.5" stroke="#101010" stroke-width="1.08" stroke-dasharray="11.7 2.2 19.8 4.0 11.8 1.6 17.6 1.6" stroke-dashoffset="8.5" opacity="0.94"/>
<path d="M2238.5,715.4 L2364.2,746.7" stroke="#101010" stroke-width="1.96" stroke-dasharray="19.1 2.2 20.1 2.4 8.6 1.0 14.8 2.9" stroke-dashoffset="12.4" opacity="0.71"/>
<path d="M2282.6,703.9 L2385.1,728.3" stroke="#101010" stroke-width="1.82" stroke-dasharray="11.9 2.5 8.3 1.8 14.3 3.8 7.7 2.5" stroke-dashoffset="3.9" opacity="0.94"/>
<path d="M2305.8,702.6 L2436.2,732.2" stroke="#101010" stroke-width="1.60" stroke-dasharray="8.0 3.8 21.6 2.4 6.9 3.8 12.2 3.7" stroke-dashoffset="3.2" opacity="0.87"/>
<path d="M2345.2,700.2 L2473.3,727.9" stroke="#101010" stroke-width="1.47" stroke-dasharray="18.6 1.7 12.5 3.5 19.3 1.5 9.5 2.2" stroke-dashoffset="2.5" opacity="0.73"/>
<path d="M2345.2,703.2 L2473.3,730.9" stroke="#101010" stroke-width="1.11" stroke-dasharray="10.0 3.2 20.4 1.1 15.0 3.3 6.6 3.5" stroke-dashoffset="11.0" opacity="0.78"/>
<path d="M2359.2,709.3 L2494.3,738.5" stroke="#101010" stroke-width="1.02" stroke-dasharray="16.0 1.9 12.7 2.7 12.8 3.0 13.1 2.3" stroke-dashoffset="9.8" opacity="0.79"/>
<path d="M2401.0,698.5 L2517.5,722.4" stroke="#101010" stroke-width="1.36" stroke-dasharray="9.8 3.3 18.5 2.4 8.9 2.4 7.7 1.4" stroke-dashoffset="8.8" opacity="0.63"/>
<path d="M2426.5,697.0 L2547.6,720.5" stroke="#101010" stroke-width="1.39" stroke-dasharray="14.2 1.1 16.2 1.2 17.7 3.3 14.2 1.2" stroke-dashoffset="19.0" opacity="0.68"/>
<path d="M2468.3,695.2 L2619.7,723.0" stroke="#101010" stroke-width="1.73" stroke-dasharray="8.2 3.6 21.9 3.2 19.0 1.6 21.7 2.5" stroke-dashoffset="3.3" opacity="0.79"/>
<path d="M2468.3,698.3 L2619.7,726.0" stroke="#101010" stroke-width="1.61" stroke-dasharray="18.6 3.8 7.0 2.1 18.1 1.5 20.3 1.8" stroke-dashoffset="10.0" opacity="0.60"/>
<path d="M2482.3,703.9 L2640.7,732.9" stroke="#101010" stroke-width="1.71" stroke-dasharray="20.7 1.6 10.2 2.5 11.1 1.1 8.9 1.5" stroke-dashoffset="17.9" opacity="0.73"/>
<path d="M2521.8,692.8 L2633.6,712.1" stroke="#101010" stroke-width="1.37" stroke-dasharray="8.7 3.4 7.8 2.6 16.2 2.1 20.0 2.7" stroke-dashoffset="2.1" opacity="0.75"/>
<path d="M2542.6,691.6 L2663.7,711.1" stroke="#101010" stroke-width="1.48" stroke-dasharray="21.9 2.9 12.3 3.4 10.2 4.0 15.2 2.1" stroke-dashoffset="3.5" opacity="0.63"/>
<path d="M2579.8,690.3 L2712.5,710.2" stroke="#101010" stroke-width="1.09" stroke-dasharray="17.9 1.1 19.1 1.8 16.2 4.0 15.4 3.0" stroke-dashoffset="0.7" opacity="0.51"/>
<path d="M2579.8,693.3 L2712.5,713.3" stroke="#101010" stroke-width="0.87" stroke-dasharray="8.4 2.8 12.9 2.5 20.3 1.4 9.6 3.0" stroke-dashoffset="7.1" opacity="0.51"/>
<path d="M2593.7,698.5 L2733.5,719.5" stroke="#101010" stroke-width="0.95" stroke-dasharray="7.7 2.1 9.6 2.8 15.4 1.6 16.0 2.4" stroke-dashoffset="4.9" opacity="0.71"/>
<path d="M2633.2,688.6 L2733.4,702.5" stroke="#101010" stroke-width="1.31" stroke-dasharray="8.4 1.3 16.2 3.6 18.5 2.2 10.2 1.0" stroke-dashoffset="7.0" opacity="0.61"/>
<path d="M2177.5,736.0 L2254.3,758.3" stroke="#101010" stroke-width="1.51" stroke-dasharray="16.3 2.3 21.0 3.2 10.0 3.7 6.7 2.6" stroke-dashoffset="1.2" opacity="0.77"/>
<path d="M2225.0,733.1 L2343.8,766.1" stroke="#101010" stroke-width="1.70" stroke-dasharray="18.5 1.0 14.8 3.8 8.3 1.6 15.7 2.5" stroke-dashoffset="3.5" opacity="0.92"/>
<path d="M2225.0,736.1 L2343.8,769.1" stroke="#101010" stroke-width="1.80" stroke-dasharray="11.0 1.9 6.8 3.7 18.5 3.1 6.1 3.5" stroke-dashoffset="14.8" opacity="0.82"/>
<path d="M2239.0,743.0 L2364.8,777.9" stroke="#101010" stroke-width="1.90" stroke-dasharray="13.2 1.7 7.7 1.7 6.6 2.0 18.0 3.1" stroke-dashoffset="5.3" opacity="0.89"/>
<path d="M2283.1,731.1 L2385.6,758.3" stroke="#101010" stroke-width="1.89" stroke-dasharray="14.9 2.3 18.6 2.6 10.2 2.9 21.4 1.7" stroke-dashoffset="5.2" opacity="0.67"/>
<path d="M2306.3,729.8 L2436.7,762.8" stroke="#101010" stroke-width="1.87" stroke-dasharray="9.8 3.2 21.1 3.2 11.2 3.6 11.3 1.7" stroke-dashoffset="13.9" opacity="0.82"/>
<path d="M2345.7,727.4 L2473.8,758.1" stroke="#101010" stroke-width="1.52" stroke-dasharray="16.6 3.9 13.5 3.5 17.2 3.6 13.0 3.2" stroke-dashoffset="4.2" opacity="0.71"/>
<path d="M2345.7,730.4 L2473.8,761.2" stroke="#101010" stroke-width="1.13" stroke-dasharray="16.0 1.2 20.6 1.4 6.4 1.3 20.9 2.0" stroke-dashoffset="0.8" opacity="0.63"/>
<path d="M2359.7,736.8 L2494.8,769.2" stroke="#101010" stroke-width="1.75" stroke-dasharray="17.1 2.9 17.2 3.2 7.1 2.8 11.8 3.5" stroke-dashoffset="1.3" opacity="0.86"/>
<path d="M2401.5,725.6 L2517.9,752.1" stroke="#101010" stroke-width="1.69" stroke-dasharray="19.9 3.7 21.1 1.3 9.3 1.3 6.6 3.5" stroke-dashoffset="16.5" opacity="0.77"/>
<path d="M2426.9,724.1 L2548.1,750.2" stroke="#101010" stroke-width="0.97" stroke-dasharray="16.1 1.9 7.6 1.3 18.1 1.6 11.1 2.3" stroke-dashoffset="5.7" opacity="0.65"/>
<path d="M2468.7,722.4 L2620.1,753.1" stroke="#101010" stroke-width="1.27" stroke-dasharray="17.5 2.1 11.1 3.9 14.1 3.6 15.9 1.1" stroke-dashoffset="15.5" opacity="0.67"/>
<path d="M2468.7,725.4 L2620.1,756.1" stroke="#101010" stroke-width="0.93" stroke-dasharray="11.5 3.1 14.6 1.6 19.8 1.3 19.1 1.5" stroke-dashoffset="15.2" opacity="0.62"/>
<path d="M2482.7,731.3 L2641.1,763.4" stroke="#101010" stroke-width="1.62" stroke-dasharray="21.6 1.0 13.9 2.5 18.7 1.6 13.9 2.0" stroke-dashoffset="18.9" opacity="0.63"/>
<path d="M2522.1,719.9 L2633.9,741.2" stroke="#101010" stroke-width="1.47" stroke-dasharray="10.5 1.6 17.2 2.5 7.8 2.9 7.3 3.4" stroke-dashoffset="12.6" opacity="0.73"/>
<path d="M2542.9,718.6 L2664.1,740.2" stroke="#101010" stroke-width="1.08" stroke-dasharray="11.7 2.2 12.3 3.7 7.4 3.7 6.4 1.6" stroke-dashoffset="10.0" opacity="0.73"/>
<path d="M2580.1,717.3 L2712.8,739.3" stroke="#101010" stroke-width="1.12" stroke-dasharray="12.1 3.7 9.7 2.4 14.5 3.3 18.0 2.9" stroke-dashoffset="3.1" opacity="0.58"/>
<path d="M2580.1,720.4 L2712.8,742.3" stroke="#101010" stroke-width="1.21" stroke-dasharray="19.5 3.0 17.9 1.5 13.0 3.3 15.3 1.4" stroke-dashoffset="4.8" opacity="0.70"/>
<path d="M2594.0,725.7 L2733.8,748.8" stroke="#101010" stroke-width="1.25" stroke-dasharray="9.1 1.9 17.3 3.5 8.5 1.5 10.0 2.0" stroke-dashoffset="6.6" opacity="0.54"/>
<path d="M2633.5,715.6 L2733.6,730.9" stroke="#101010" stroke-width="1.42" stroke-dasharray="9.0 3.9 17.7 1.3 21.4 1.3 12.1 4.0" stroke-dashoffset="8.7" opacity="0.64"/>
<path d="M2178.1,763.3 L2254.9,787.9" stroke="#101010" stroke-width="1.79" stroke-dasharray="9.1 2.9 7.7 1.6 12.2 1.1 12.4 3.4" stroke-dashoffset="12.6" opacity="0.85"/>
<path d="M2225.6,760.4 L2344.4,796.7" stroke="#101010" stroke-width="1.81" stroke-dasharray="13.4 1.4 15.7 2.2 17.9 3.7 12.9 2.7" stroke-dashoffset="4.6" opacity="0.80"/>
<path d="M2225.6,763.4 L2344.4,799.7" stroke="#101010" stroke-width="1.38" stroke-dasharray="17.6 3.6 18.4 3.1 19.6 3.0 16.3 2.4" stroke-dashoffset="2.0" opacity="0.86"/>
<path d="M2239.6,770.7 L2365.4,809.2" stroke="#101010" stroke-width="1.48" stroke-dasharray="12.7 3.3 17.4 2.9 10.0 2.3 13.3 2.9" stroke-dashoffset="18.6" opacity="0.88"/>
<path d="M2283.7,758.4 L2386.2,788.3" stroke="#101010" stroke-width="1.20" stroke-dasharray="8.9 3.0 18.5 2.2 13.8 3.9 6.6 2.6" stroke-dashoffset="18.8" opacity="0.88"/>
<path d="M2306.8,757.0 L2437.2,793.3" stroke="#101010" stroke-width="1.51" stroke-dasharray="14.3 1.3 15.2 2.6 17.5 2.5 16.2 3.5" stroke-dashoffset="19.0" opacity="0.76"/>
<path d="M2346.2,754.6 L2474.3,788.4" stroke="#101010" stroke-width="1.25" stroke-dasharray="9.4 3.1 12.3 3.3 8.0 4.0 11.7 1.2" stroke-dashoffset="0.3" opacity="0.73"/>
<path d="M2346.2,757.6 L2474.3,791.4" stroke="#101010" stroke-width="1.48" stroke-dasharray="12.7 2.3 17.2 2.1 10.2 1.7 17.9 3.8" stroke-dashoffset="16.0" opacity="0.68"/>
<path d="M2360.2,764.3 L2495.3,800.0" stroke="#101010" stroke-width="1.21" stroke-dasharray="12.3 1.6 8.1 3.3 19.0 2.9 13.5 2.7" stroke-dashoffset="7.1" opacity="0.88"/>
<path d="M2401.9,752.8 L2518.4,781.9" stroke="#101010" stroke-width="1.29" stroke-dasharray="16.2 3.5 19.1 2.4 10.7 2.6 8.0 3.5" stroke-dashoffset="5.3" opacity="0.82"/>
<path d="M2427.4,751.3 L2548.5,779.9" stroke="#101010" stroke-width="1.21" stroke-dasharray="12.0 1.8 12.8 1.6 6.0 3.2 10.5 1.7" stroke-dashoffset="8.6" opacity="0.71"/>
<path d="M2469.1,749.5 L2620.5,783.1" stroke="#101010" stroke-width="1.58" stroke-dasharray="16.2 3.0 11.8 3.8 19.7 1.2 19.2 3.7" stroke-dashoffset="16.6" opacity="0.60"/>
<path d="M2469.1,752.5 L2620.5,786.2" stroke="#101010" stroke-width="1.12" stroke-dasharray="16.1 1.0 6.2 3.9 16.5 1.8 7.6 1.4" stroke-dashoffset="6.9" opacity="0.75"/>
<path d="M2483.1,758.6 L2641.5,793.8" stroke="#101010" stroke-width="1.68" stroke-dasharray="8.4 3.7 18.7 1.5 20.3 2.8 18.5 3.0" stroke-dashoffset="16.8" opacity="0.76"/>
<path d="M2522.5,747.0 L2634.3,770.3" stroke="#101010" stroke-width="1.09" stroke-dasharray="9.2 3.1 14.5 3.2 13.0 3.6 14.9 1.8" stroke-dashoffset="9.9" opacity="0.58"/>
<path d="M2543.3,745.7 L2664.4,769.2" stroke="#101010" stroke-width="1.54" stroke-dasharray="6.9 2.4 8.3 2.5 14.0 2.6 19.8 1.0" stroke-dashoffset="11.3" opacity="0.63"/>
<path d="M2580.4,744.4 L2713.1,768.3" stroke="#101010" stroke-width="0.87" stroke-dasharray="16.6 3.5 12.0 2.3 21.4 1.2 16.2 2.9" stroke-dashoffset="13.7" opacity="0.64"/>
<path d="M2580.4,747.4 L2713.1,771.4" stroke="#101010" stroke-width="1.33" stroke-dasharray="20.9 2.0 21.7 2.5 13.8 3.7 6.5 3.2" stroke-dashoffset="17.2" opacity="0.58"/>
<path d="M2594.3,753.0 L2734.1,778.2" stroke="#101010" stroke-width="1.49" stroke-dasharray="11.9 2.4 14.4 3.3 9.4 2.3 12.8 2.7" stroke-dashoffset="16.6" opacity="0.57"/>
<path d="M2633.7,742.6 L2733.9,759.3" stroke="#101010" stroke-width="1.06" stroke-dasharray="12.5 2.5 10.3 2.5 21.6 3.0 18.7 2.0" stroke-dashoffset="11.7" opacity="0.55"/>
<path d="M2178.6,790.6 L2255.5,817.5" stroke="#101010" stroke-width="1.11" stroke-dasharray="16.2 3.4 6.6 3.2 20.2 2.6 6.8 1.9" stroke-dashoffset="18.4" opacity="0.76"/>
<path d="M2226.2,787.6 L2345.0,827.4" stroke="#101010" stroke-width="1.66" stroke-dasharray="15.7 3.0 18.6 3.7 15.8 2.9 16.0 3.1" stroke-dashoffset="4.3" opacity="0.88"/>
<path d="M2226.2,790.7 L2345.0,830.4" stroke="#101010" stroke-width="1.72" stroke-dasharray="16.7 2.4 18.2 1.3 8.9 1.1 18.4 3.7" stroke-dashoffset="16.5" opacity="0.79"/>
<path d="M2240.2,798.4 L2365.9,840.4" stroke="#101010" stroke-width="1.99" stroke-dasharray="18.6 2.7 10.1 1.9 12.7 2.0 12.9 2.9" stroke-dashoffset="11.4" opacity="0.70"/>
<path d="M2284.2,785.6 L2386.7,818.3" stroke="#101010" stroke-width="1.62" stroke-dasharray="6.6 1.4 19.0 2.7 20.7 2.3 6.2 2.2" stroke-dashoffset="19.6" opacity="0.93"/>
<path d="M2307.3,784.3 L2437.7,823.9" stroke="#101010" stroke-width="1.66" stroke-dasharray="13.6 2.2 7.6 2.9 9.4 1.5 6.2 1.0" stroke-dashoffset="19.3" opacity="0.68"/>
<path d="M2346.7,781.8 L2474.8,818.7" stroke="#101010" stroke-width="1.05" stroke-dasharray="7.4 3.6 8.1 1.1 17.5 1.7 17.7 1.6" stroke-dashoffset="14.3" opacity="0.83"/>
<path d="M2346.7,784.8 L2474.8,821.7" stroke="#101010" stroke-width="1.88" stroke-dasharray="19.7 3.2 7.3 2.9 17.3 2.4 20.9 1.8" stroke-dashoffset="0.2" opacity="0.82"/>
<path d="M2360.6,791.8 L2495.7,830.8" stroke="#101010" stroke-width="1.44" stroke-dasharray="6.2 3.0 19.1 1.2 11.0 3.2 8.7 3.6" stroke-dashoffset="7.4" opacity="0.64"/>
<path d="M2402.4,780.0 L2518.8,811.7" stroke="#101010" stroke-width="1.35" stroke-dasharray="15.2 2.3 16.8 1.4 18.8 2.1 16.3 2.9" stroke-dashoffset="15.7" opacity="0.70"/>
<path d="M2427.8,778.4 L2548.9,809.6" stroke="#101010" stroke-width="1.24" stroke-dasharray="21.1 3.4 15.1 1.9 7.0 3.9 17.3 3.5" stroke-dashoffset="19.5" opacity="0.74"/>
<path d="M2469.5,776.6 L2620.9,813.2" stroke="#101010" stroke-width="1.68" stroke-dasharray="19.3 2.8 10.9 2.3 20.2 2.1 17.0 2.8" stroke-dashoffset="5.7" opacity="0.76"/>
<path d="M2469.5,779.6 L2620.9,816.2" stroke="#101010" stroke-width="1.61" stroke-dasharray="6.0 1.8 12.8 2.8 19.1 3.7 6.7 3.5" stroke-dashoffset="11.4" opacity="0.78"/>
<path d="M2483.5,786.0 L2641.8,824.3" stroke="#101010" stroke-width="1.60" stroke-dasharray="10.4 3.6 18.9 3.1 20.6 2.0 7.4 2.7" stroke-dashoffset="15.0" opacity="0.62"/>
<path d="M2522.8,774.1 L2634.6,799.4" stroke="#101010" stroke-width="1.55" stroke-dasharray="20.9 1.7 15.7 3.0 13.4 1.6 10.1 3.3" stroke-dashoffset="1.8" opacity="0.66"/>
<path d="M2543.6,772.8 L2664.7,798.3" stroke="#101010" stroke-width="1.34" stroke-dasharray="18.9 3.3 9.7 2.7 20.4 3.7 14.3 2.4" stroke-dashoffset="3.8" opacity="0.57"/>
<path d="M2580.6,771.4 L2713.4,797.4" stroke="#101010" stroke-width="1.62" stroke-dasharray="8.9 3.1 11.8 2.7 12.4 2.6 8.4 1.1" stroke-dashoffset="2.1" opacity="0.59"/>
<path d="M2580.6,774.5 L2713.4,800.4" stroke="#101010" stroke-width="1.62" stroke-dasharray="16.1 3.4 8.5 2.8 11.5 2.6 6.3 1.1" stroke-dashoffset="9.7" opacity="0.70"/>
<path d="M2594.6,780.2 L2734.4,807.5" stroke="#101010" stroke-width="1.05" stroke-dasharray="15.1 1.8 18.5 2.3 21.1 3.3 19.1 3.9" stroke-dashoffset="4.0" opacity="0.52"/>
<path d="M2634.0,769.6 L2734.2,787.7" stroke="#101010" stroke-width="0.87" stroke-dasharray="8.9 1.3 6.8 2.7 19.9 2.4 21.2 3.7" stroke-dashoffset="7.9" opacity="0.62"/>
<defs><g id="bu">
<path d="M-50.1,21.4 L-50.1,16.3 Q-50.1,14.0 -45.0,13.5 L-3.3,11.4 Q0,11.2 0,7.9 L0,0" stroke="#8f8a10" stroke-width="3.8" stroke-linecap="butt" stroke-linejoin="miter"/>
<path d="M12.8,0 L12.8,14.9 Q12.8,17.9 16.3,18.4 L34.9,20.0" stroke="#8f8a10" stroke-width="3.8" stroke-linecap="butt" stroke-linejoin="miter"/>
<path d="M-50.1,21.4 L-50.1,16.3 Q-50.1,14.0 -45.0,13.5 L-3.3,11.4 Q0,11.2 0,7.9 L0,0" stroke="#f1e61c" stroke-width="2.6" stroke-linecap="butt" stroke-linejoin="miter"/>
<path d="M12.8,0 L12.8,14.9 Q12.8,17.9 16.3,18.4 L34.9,20.0" stroke="#f1e61c" stroke-width="2.6" stroke-linecap="butt" stroke-linejoin="miter"/>
<path d="M-43.1,22.8 q2,4 6,3 l8,-0.5 q4,0 4,-3" stroke="#8f8a10" stroke-width="1" stroke-dasharray="3 1.5"/>
<path d="M9.3,23.3 L32.6,22.4" stroke="#333" stroke-width="0.9" stroke-dasharray="5 3"/>
</g></defs>
<use href="#bu" transform="translate(2302.6,608.9) scale(1.000,1.000)"/>
<use href="#bu" transform="translate(2302.6,638.2) scale(1.000,1.000)"/>
<use href="#bu" transform="translate(2302.6,667.5) scale(1.000,1.000)"/>
<use href="#bu" transform="translate(2302.6,696.7) scale(1.000,1.000)"/>
<use href="#bu" transform="translate(2302.6,726.0) scale(1.000,1.000)"/>
<use href="#bu" transform="translate(2302.6,755.3) scale(1.000,1.000)"/>
<use href="#bu" transform="translate(2302.6,784.6) scale(1.000,1.000)"/>
<use href="#bu" transform="translate(2302.6,813.9) scale(1.000,1.000)"/>
<use href="#bu" transform="translate(2435.3,603.1) scale(0.977,0.978)"/>
<use href="#bu" transform="translate(2435.3,631.7) scale(0.977,0.978)"/>
<use href="#bu" transform="translate(2435.3,660.3) scale(0.977,0.978)"/>
<use href="#bu" transform="translate(2435.3,689.0) scale(0.977,0.978)"/>
<use href="#bu" transform="translate(2435.3,717.6) scale(0.977,0.978)"/>
<use href="#bu" transform="translate(2435.3,746.2) scale(0.977,0.978)"/>
<use href="#bu" transform="translate(2435.3,774.8) scale(0.977,0.978)"/>
<use href="#bu" transform="translate(2435.3,803.5) scale(0.977,0.978)"/>
<use href="#bu" transform="translate(2564.6,597.3) scale(0.907,0.949)"/>
<use href="#bu" transform="translate(2564.6,625.1) scale(0.907,0.949)"/>
<use href="#bu" transform="translate(2564.6,652.8) scale(0.907,0.949)"/>
<use href="#bu" transform="translate(2564.6,680.6) scale(0.907,0.949)"/>
<use href="#bu" transform="translate(2564.6,708.4) scale(0.907,0.949)"/>
<use href="#bu" transform="translate(2564.6,736.2) scale(0.907,0.949)"/>
<use href="#bu" transform="translate(2564.6,764.0) scale(0.907,0.949)"/>
<use href="#bu" transform="translate(2564.6,791.8) scale(0.907,0.949)"/>
<use href="#bu" transform="translate(2684.6,591.4) scale(0.884,0.920)"/>
<use href="#bu" transform="translate(2684.6,618.4) scale(0.884,0.920)"/>
<use href="#bu" transform="translate(2684.6,645.3) scale(0.884,0.920)"/>
<use href="#bu" transform="translate(2684.6,672.3) scale(0.884,0.920)"/>
<use href="#bu" transform="translate(2684.6,699.2) scale(0.884,0.920)"/>
<use href="#bu" transform="translate(2684.6,726.2) scale(0.884,0.920)"/>
<use href="#bu" transform="translate(2684.6,753.1) scale(0.884,0.920)"/>
<use href="#bu" transform="translate(2684.6,780.1) scale(0.884,0.920)"/>
</svg></div>
<div class="t" style="left:62.86px;top:1014.88px;font-size:50.7px;color:#fff;transform:scaleX(0.9715);">Less Structure Part/MSD/HV</div>
<div class="t" style="left:331.26px;top:1074.08px;font-size:50.7px;color:#fff;transform:scaleX(1.0210);">Box</div>
<div class="t" style="left:929.12px;top:1014.88px;font-size:50.7px;color:#fff;transform:scaleX(0.9570);">Less Harness</div>
<div class="t" style="left:1659.84px;top:1014.88px;font-size:50.7px;color:#fff;transform:scaleX(0.9520);">Less FPC</div>
<div class="t" style="left:2333.77px;top:1014.88px;font-size:50.7px;color:#fff;transform:scaleX(0.9700);">Less Busbar</div>
<div class="t" style="left:229.83px;top:1120.23px;font-size:86.2px;font-weight:bold;color:#f5c555;transform:scaleX(1.0146);">46.7%</div>
<div class="t" style="left:965.13px;top:1120.13px;font-size:86.2px;font-weight:bold;color:#f5c555;transform:scaleX(1.0146);">46.7%</div>
<div class="t" style="left:1658.19px;top:1122.13px;font-size:86.2px;font-weight:bold;color:#f5c555;transform:scaleX(1.0170);">73.3%</div>
<div class="t" style="left:2325.69px;top:1122.53px;font-size:86.2px;font-weight:bold;color:#f5c555;transform:scaleX(1.0170);">73.3%</div>
<svg class="arrow" style="left:460.9px;top:1123.9px" viewBox="0 0 170 62"><defs><linearGradient id="ag1" x1="0" y1="0" x2="0" y2="1"><stop offset="0" stop-color="#0d2a78" stop-opacity="0"/><stop offset="0.12" stop-color="#0f2f80" stop-opacity="0.10"/><stop offset="0.35" stop-color="#1450b0" stop-opacity="0.75"/><stop offset="0.62" stop-color="#2a8be8" stop-opacity="1"/><stop offset="0.80" stop-color="#3aa0f5" stop-opacity="1"/><stop offset="1" stop-color="#d8f2ff" stop-opacity="1"/></linearGradient></defs><polygon points="0,0 170,0 85,60" fill="url(#ag1)"/></svg>
<svg class="arrow" style="left:1190.6px;top:1123.4px" viewBox="0 0 170 62"><defs><linearGradient id="ag2" x1="0" y1="0" x2="0" y2="1"><stop offset="0" stop-color="#0d2a78" stop-opacity="0"/><stop offset="0.12" stop-color="#0f2f80" stop-opacity="0.10"/><stop offset="0.35" stop-color="#1450b0" stop-opacity="0.75"/><stop offset="0.62" stop-color="#2a8be8" stop-opacity="1"/><stop offset="0.80" stop-color="#3aa0f5" stop-opacity="1"/><stop offset="1" stop-color="#d8f2ff" stop-opacity="1"/></linearGradient></defs><polygon points="0,0 170,0 85,60" fill="url(#ag2)"/></svg>
<svg class="arrow" style="left:1890.6px;top:1132.2px" viewBox="0 0 170 62"><defs><linearGradient id="ag3" x1="0" y1="0" x2="0" y2="1"><stop offset="0" stop-color="#0d2a78" stop-opacity="0"/><stop offset="0.12" stop-color="#0f2f80" stop-opacity="0.10"/><stop offset="0.35" stop-color="#1450b0" stop-opacity="0.75"/><stop offset="0.62" stop-color="#2a8be8" stop-opacity="1"/><stop offset="0.80" stop-color="#3aa0f5" stop-opacity="1"/><stop offset="1" stop-color="#d8f2ff" stop-opacity="1"/></linearGradient></defs><polygon points="0,0 170,0 85,60" fill="url(#ag3)"/></svg>
<svg class="arrow" style="left:2554.2px;top:1123.4px" viewBox="0 0 170 62"><defs><linearGradient id="ag4" x1="0" y1="0" x2="0" y2="1"><stop offset="0" stop-color="#0d2a78" stop-opacity="0"/><stop offset="0.12" stop-color="#0f2f80" stop-opacity="0.10"/><stop offset="0.35" stop-color="#1450b0" stop-opacity="0.75"/><stop offset="0.62" stop-color="#2a8be8" stop-opacity="1"/><stop offset="0.80" stop-color="#3aa0f5" stop-opacity="1"/><stop offset="1" stop-color="#d8f2ff" stop-opacity="1"/></linearGradient></defs><polygon points="0,0 170,0 85,60" fill="url(#ag4)"/></svg>
<svg style="position:absolute;left:0;top:1230px" width="2895" height="393" viewBox="0 1230 2895 393">
<defs>
<linearGradient id="mg" gradientUnits="userSpaceOnUse" x1="0" y1="1284" x2="0" y2="1560">
<stop offset="0" stop-color="#d3bb81"/><stop offset="0.174" stop-color="#cdb682"/><stop offset="0.312" stop-color="#bcaa7f"/>
<stop offset="0.399" stop-color="#a99c7c"/><stop offset="0.551" stop-color="#877c79"/><stop offset="0.703" stop-color="#615b66"/>
<stop offset="0.851" stop-color="#434256"/><stop offset="0.964" stop-color="#30324a"/><stop offset="1" stop-color="#2b2d47"/></linearGradient>
<linearGradient id="tg1" gradientUnits="userSpaceOnUse" x1="0" y1="1456" x2="0" y2="1530">
<stop offset="0.01" stop-color="#5c9488"/><stop offset="0.16" stop-color="#6a958e"/><stop offset="0.30" stop-color="#7c9192"/>
<stop offset="0.405" stop-color="#898e98"/><stop offset="0.61" stop-color="#5a607a"/><stop offset="0.81" stop-color="#2a3158"/><stop offset="0.95" stop-color="#1b2350"/></linearGradient>
<linearGradient id="tg2" gradientUnits="userSpaceOnUse" x1="0" y1="1494" x2="0" y2="1545">
<stop offset="0" stop-color="#486570"/><stop offset="0.45" stop-color="#445a6c"/><stop offset="1" stop-color="#1b2350"/></linearGradient>
<linearGradient id="pg" gradientUnits="userSpaceOnUse" x1="0" y1="1380" x2="0" y2="1540">
<stop offset="0" stop-color="#1c215c"/><stop offset="0.5" stop-color="#181d52"/><stop offset="1" stop-color="#111745"/></linearGradient>
<linearGradient id="pgl" gradientUnits="userSpaceOnUse" x1="1400" y1="0" x2="2050" y2="0">
<stop offset="0" stop-color="#0a113f" stop-opacity="1"/><stop offset="1" stop-color="#0a113f" stop-opacity="0"/></linearGradient>
<linearGradient id="rg" gradientUnits="userSpaceOnUse" x1="0" y1="1390" x2="0" y2="1500">
<stop offset="0" stop-color="#a398a8" stop-opacity="0.38"/><stop offset="1" stop-color="#a9a0ac" stop-opacity="0"/></linearGradient>
<clipPath id="fc"><path d="M-3.9,1454.3 C-3.2,1454.0 -3.2,1454.0 0.0,1452.4 C3.2,1450.8 11.0,1445.7 15.5,1444.6 C20.1,1443.5 20.1,1443.7 27.2,1445.8 C34.3,1447.9 46.6,1452.5 58.2,1457.5 C69.9,1462.4 84.8,1470.4 97.0,1475.7 C109.3,1481.0 118.4,1485.4 132.0,1489.3 C145.6,1493.2 161.7,1496.4 178.6,1499.0 C195.4,1501.6 216.1,1502.2 232.9,1504.8 C249.7,1507.4 266.6,1511.3 279.5,1514.5 C292.4,1517.8 300.2,1521.4 310.6,1524.2 C320.9,1527.0 331.9,1530.0 341.6,1531.2 C351.3,1532.4 357.8,1532.1 368.8,1531.2 C379.8,1530.4 392.7,1527.2 407.6,1526.2 C422.5,1525.1 442.5,1524.8 458.1,1525.0 C473.6,1525.2 486.5,1527.5 500.8,1527.3 C515.0,1527.2 529.9,1525.7 543.5,1524.2 C557.1,1522.7 569.4,1520.7 582.3,1518.4 C595.2,1516.1 609.5,1513.0 621.1,1510.6 C632.8,1508.2 644.4,1505.5 652.2,1504.0 C659.9,1502.5 661.2,1501.3 667.7,1501.7 C674.2,1502.2 682.6,1504.4 691.0,1506.8 C699.4,1509.1 711.1,1513.4 718.2,1515.7 C725.3,1517.9 729.2,1520.2 733.7,1520.3 C738.2,1520.5 741.5,1519.7 745.3,1516.5 C749.2,1513.2 753.1,1506.8 757.0,1500.9 C760.9,1495.1 765.4,1485.9 768.6,1481.5 C771.9,1477.2 773.8,1475.2 776.4,1474.9 C779.0,1474.6 777.7,1475.6 784.2,1479.6 C790.6,1483.6 803.6,1491.6 815.2,1499.0 C826.9,1506.4 841.1,1516.8 854.0,1524.2 C867.0,1531.7 879.9,1538.6 892.9,1543.6 C905.8,1548.7 918.7,1552.1 931.7,1554.5 C944.6,1556.9 961.0,1557.5 970.5,1558.0 C980.0,1558.4 976.1,1559.3 988.8,1557.2 C1001.6,1555.2 1030.9,1549.0 1047.0,1545.6 C1063.2,1542.1 1074.2,1538.8 1085.9,1536.6 C1097.5,1534.5 1105.9,1533.2 1116.9,1532.8 C1127.9,1532.3 1137.6,1532.8 1151.9,1533.9 C1166.1,1535.1 1184.2,1537.8 1202.3,1539.8 C1220.4,1541.7 1244.4,1545.4 1260.6,1545.6 C1276.7,1545.7 1283.2,1542.8 1299.4,1540.5 C1315.6,1538.3 1342.1,1533.7 1357.6,1532.0 C1373.1,1530.2 1376.4,1529.9 1392.5,1530.0 C1408.7,1530.2 1437.8,1532.1 1454.7,1533.2 C1471.5,1534.3 1477.3,1535.3 1493.5,1536.6 C1509.7,1538.0 1532.3,1541.3 1551.7,1541.3 C1571.1,1541.3 1590.5,1538.3 1609.9,1536.6 C1629.3,1535.0 1648.8,1532.6 1668.2,1531.2 C1687.6,1529.8 1711.2,1529.1 1726.4,1528.1 C1741.6,1527.1 1744.5,1527.3 1759.4,1525.0 C1774.3,1522.7 1795.3,1517.2 1815.7,1514.5 C1836.1,1511.8 1865.5,1509.0 1881.7,1508.7 C1897.9,1508.4 1901.3,1510.6 1912.7,1512.6 C1924.2,1514.5 1939.5,1519.4 1950.2,1520.4 C1961.0,1521.4 1963.1,1520.4 1977.2,1518.4 C1991.4,1516.5 2017.2,1512.3 2035.2,1508.8 C2053.2,1505.2 2071.9,1500.4 2085.4,1497.2 C2098.9,1494.0 2105.4,1491.1 2116.3,1489.5 C2127.2,1487.9 2138.2,1487.4 2151.1,1487.5 C2163.9,1487.7 2183.9,1489.0 2193.5,1490.2 C2203.2,1491.5 2205.1,1493.8 2209.0,1495.3 C2212.9,1496.7 2213.5,1499.6 2216.7,1499.1 C2219.9,1498.7 2223.2,1496.7 2228.3,1492.6 C2233.5,1488.4 2241.2,1479.7 2247.6,1474.0 C2254.1,1468.4 2260.5,1460.3 2266.9,1458.6 C2273.4,1456.8 2280.5,1463.0 2286.2,1463.6 C2292.0,1464.2 2297.2,1464.6 2301.7,1462.4 C2306.2,1460.3 2310.1,1455.4 2313.3,1450.8 C2316.5,1446.3 2318.4,1441.8 2321.0,1435.4 C2323.6,1429.0 2326.2,1420.6 2328.7,1412.2 C2331.3,1403.9 2333.9,1393.6 2336.5,1385.2 C2339.0,1376.8 2341.3,1369.1 2344.2,1362.0 C2347.1,1354.9 2350.0,1348.2 2353.8,1342.7 C2357.7,1337.2 2361.9,1333.4 2367.4,1329.2 C2372.8,1325.0 2378.9,1320.8 2386.7,1317.6 C2394.4,1314.4 2404.7,1313.7 2413.7,1309.9 C2422.7,1306.0 2433.0,1298.4 2440.7,1294.4 C2448.5,1290.4 2453.6,1287.7 2460.1,1285.9 C2466.5,1284.1 2469.7,1283.8 2479.4,1283.6 C2489.0,1283.4 2505.1,1284.1 2518.0,1284.8 C2530.9,1285.5 2547.0,1286.9 2556.6,1287.9 C2566.3,1288.8 2569.5,1287.9 2575.9,1290.6 C2582.4,1293.3 2588.8,1299.2 2595.2,1304.1 C2601.7,1308.9 2608.1,1315.7 2614.6,1319.5 C2621.0,1323.4 2625.5,1324.7 2633.9,1327.2 C2642.2,1329.8 2654.5,1331.4 2664.8,1335.0 C2675.1,1338.5 2686.7,1343.7 2695.7,1348.5 C2704.7,1353.3 2709.8,1356.5 2718.8,1363.9 C2727.9,1371.3 2739.4,1382.9 2749.7,1392.9 C2760.0,1402.9 2771.6,1415.4 2780.6,1423.8 C2789.7,1432.2 2796.1,1438.0 2803.8,1443.1 C2811.5,1448.3 2820.6,1453.1 2827.0,1454.7 C2833.4,1456.3 2836.7,1454.2 2842.4,1452.8 C2848.2,1451.4 2856.6,1447.2 2861.8,1446.2 C2866.9,1445.2 2869.5,1443.6 2873.3,1447.0 C2877.2,1450.3 2881.1,1460.2 2884.9,1466.3 C2888.8,1472.4 2894.6,1480.8 2896.5,1483.7 L2896.5,1562 L-3.9,1562 Z"/></clipPath>
</defs>
<path d="M1408.1,1512.6 C1409.4,1511.3 1408.1,1508.4 1415.8,1504.8 C1423.6,1501.3 1435.2,1495.1 1454.7,1491.2 C1474.1,1487.3 1506.4,1483.8 1532.3,1481.5 C1558.2,1479.3 1584.1,1479.1 1609.9,1477.6 C1635.8,1476.2 1668.2,1475.6 1687.6,1473.0 C1707.0,1470.4 1713.5,1465.5 1726.4,1462.1 C1739.3,1458.7 1752.3,1454.7 1765.2,1452.4 C1778.2,1450.1 1792.4,1448.8 1804.0,1448.5 C1815.7,1448.2 1825.4,1448.2 1835.1,1450.5 C1844.8,1452.7 1853.2,1459.2 1862.3,1462.1 C1871.3,1465.0 1881.7,1468.3 1889.4,1467.9 C1897.2,1467.6 1907.1,1461.1 1908.9,1460.2 C1910.6,1459.3 1897.6,1462.4 1900.0,1462.4 C1902.4,1462.5 1913.5,1460.2 1923.2,1460.5 C1932.8,1460.8 1947.6,1463.4 1957.9,1464.4 C1968.2,1465.3 1977.9,1468.9 1985.0,1466.3 C1992.1,1463.7 1994.0,1453.4 2000.4,1448.9 C2006.9,1444.4 2013.3,1442.2 2023.6,1439.3 C2033.9,1436.4 2048.1,1434.8 2062.2,1431.5 C2076.4,1428.3 2094.4,1422.2 2108.6,1419.9 C2122.7,1417.7 2138.2,1420.3 2147.2,1418.0 C2156.2,1415.8 2157.5,1408.8 2162.6,1406.4 C2167.8,1404.0 2172.3,1403.9 2178.1,1403.7 C2183.9,1403.5 2191.0,1406.4 2197.4,1405.3 C2203.8,1404.1 2208.4,1397.9 2216.7,1396.8 C2225.1,1395.7 2236.0,1399.0 2247.6,1398.7 C2259.2,1398.4 2273.4,1396.1 2286.2,1394.8 C2299.1,1393.6 2305.6,1391.9 2324.9,1391.0 C2344.2,1390.0 2357.1,1388.1 2402.1,1389.0 C2447.2,1390.0 2535.4,1394.2 2595.2,1396.8 C2655.1,1399.3 2731.1,1404.4 2761.3,1404.5 C2791.6,1404.6 2771.6,1398.5 2776.8,1397.5 C2781.9,1396.6 2786.4,1396.9 2792.2,1398.7 C2798.0,1400.5 2805.8,1406.2 2811.5,1408.4 C2817.3,1410.5 2819.3,1411.3 2827.0,1411.5 C2834.7,1411.6 2846.3,1410.3 2857.9,1409.1 C2869.5,1408.0 2890.1,1405.3 2896.5,1404.5 L2896.5,1562 L1408.1,1562 Z" fill="url(#pg)"/>
<path d="M1408.1,1512.6 C1409.4,1511.3 1408.1,1508.4 1415.8,1504.8 C1423.6,1501.3 1435.2,1495.1 1454.7,1491.2 C1474.1,1487.3 1506.4,1483.8 1532.3,1481.5 C1558.2,1479.3 1584.1,1479.1 1609.9,1477.6 C1635.8,1476.2 1668.2,1475.6 1687.6,1473.0 C1707.0,1470.4 1713.5,1465.5 1726.4,1462.1 C1739.3,1458.7 1752.3,1454.7 1765.2,1452.4 C1778.2,1450.1 1792.4,1448.8 1804.0,1448.5 C1815.7,1448.2 1825.4,1448.2 1835.1,1450.5 C1844.8,1452.7 1853.2,1459.2 1862.3,1462.1 C1871.3,1465.0 1881.7,1468.3 1889.4,1467.9 C1897.2,1467.6 1907.1,1461.1 1908.9,1460.2 C1910.6,1459.3 1897.6,1462.4 1900.0,1462.4 C1902.4,1462.5 1913.5,1460.2 1923.2,1460.5 C1932.8,1460.8 1947.6,1463.4 1957.9,1464.4 C1968.2,1465.3 1977.9,1468.9 1985.0,1466.3 C1992.1,1463.7 1994.0,1453.4 2000.4,1448.9 C2006.9,1444.4 2013.3,1442.2 2023.6,1439.3 C2033.9,1436.4 2048.1,1434.8 2062.2,1431.5 C2076.4,1428.3 2094.4,1422.2 2108.6,1419.9 C2122.7,1417.7 2138.2,1420.3 2147.2,1418.0 C2156.2,1415.8 2157.5,1408.8 2162.6,1406.4 C2167.8,1404.0 2172.3,1403.9 2178.1,1403.7 C2183.9,1403.5 2191.0,1406.4 2197.4,1405.3 C2203.8,1404.1 2208.4,1397.9 2216.7,1396.8 C2225.1,1395.7 2236.0,1399.0 2247.6,1398.7 C2259.2,1398.4 2273.4,1396.1 2286.2,1394.8 C2299.1,1393.6 2305.6,1391.9 2324.9,1391.0 C2344.2,1390.0 2357.1,1388.1 2402.1,1389.0 C2447.2,1390.0 2535.4,1394.2 2595.2,1396.8 C2655.1,1399.3 2731.1,1404.4 2761.3,1404.5 C2791.6,1404.6 2771.6,1398.5 2776.8,1397.5 C2781.9,1396.6 2786.4,1396.9 2792.2,1398.7 C2798.0,1400.5 2805.8,1406.2 2811.5,1408.4 C2817.3,1410.5 2819.3,1411.3 2827.0,1411.5 C2834.7,1411.6 2846.3,1410.3 2857.9,1409.1 C2869.5,1408.0 2890.1,1405.3 2896.5,1404.5 L2896.5,1562 L1408.1,1562 Z" fill="url(#pgl)"/>
<path d="M54.3,1458.2 C55.0,1458.1 51.1,1457.5 58.2,1457.5 C65.3,1457.5 87.3,1457.8 97.0,1458.2 C106.8,1458.7 110.6,1458.7 116.5,1460.2 C122.3,1461.6 119.0,1465.6 132.0,1466.8 C144.9,1467.9 179.9,1466.6 194.1,1467.2 C208.3,1467.7 209.6,1468.1 217.4,1469.9 C225.2,1471.6 231.6,1473.4 240.7,1477.6 C249.7,1481.8 261.4,1490.3 271.7,1495.1 C282.1,1500.0 293.1,1504.4 302.8,1506.8 C312.5,1509.1 320.3,1509.7 330.0,1509.5 C339.7,1509.3 348.1,1508.3 361.0,1505.6 C374.0,1502.9 394.7,1496.4 407.6,1493.2 C420.5,1489.9 429.0,1487.3 438.7,1486.2 C448.4,1485.0 458.1,1484.7 465.8,1486.2 C473.6,1487.7 477.5,1491.4 485.2,1495.1 C493.0,1498.9 504.0,1505.8 512.4,1508.7 C520.8,1511.6 527.3,1512.9 535.7,1512.6 C544.1,1512.3 552.5,1509.7 562.9,1506.8 C573.2,1503.8 588.1,1497.2 597.8,1495.1 C607.5,1493.0 610.8,1493.5 621.1,1494.3 C631.5,1495.2 648.3,1498.1 659.9,1500.2 C671.6,1502.2 681.3,1504.2 691.0,1506.8 C700.7,1509.3 713.6,1514.2 718.2,1515.7 L718.2,1545 L54.3,1545 Z" fill="url(#tg1)"/>
<path d="M1377.0,1533.9 C1379.6,1532.8 1386.1,1530.1 1392.5,1527.3 C1399.0,1524.5 1403.5,1520.0 1415.8,1517.2 C1428.1,1514.5 1450.1,1513.5 1466.3,1510.6 C1482.5,1507.8 1499.3,1502.9 1512.9,1500.2 C1526.5,1497.4 1536.8,1495.3 1547.8,1494.3 C1558.8,1493.4 1568.5,1493.2 1578.9,1494.3 C1589.2,1495.4 1598.9,1498.5 1609.9,1500.9 C1620.9,1503.3 1631.9,1507.1 1644.9,1508.7 C1657.8,1510.3 1674.6,1510.0 1687.6,1510.6 C1700.5,1511.3 1712.8,1511.3 1722.5,1512.6 C1732.2,1513.9 1739.3,1516.1 1745.8,1518.4 C1752.3,1520.7 1758.7,1524.9 1761.3,1526.2 L1761.3,1550 L1377.0,1550 Z" fill="url(#tg2)"/>
<path d="M1896.1,1516.5 C1896.8,1516.0 1896.8,1513.4 1900.0,1513.4 C1903.2,1513.4 1909.0,1515.2 1915.4,1516.5 C1921.9,1517.8 1934.8,1520.4 1938.6,1521.1 L1938.6,1550 L1896.1,1550 Z" fill="url(#tg2)"/>
<path d="M-3.9,1454.3 C-3.2,1454.0 -3.2,1454.0 0.0,1452.4 C3.2,1450.8 11.0,1445.7 15.5,1444.6 C20.1,1443.5 20.1,1443.7 27.2,1445.8 C34.3,1447.9 46.6,1452.5 58.2,1457.5 C69.9,1462.4 84.8,1470.4 97.0,1475.7 C109.3,1481.0 118.4,1485.4 132.0,1489.3 C145.6,1493.2 161.7,1496.4 178.6,1499.0 C195.4,1501.6 216.1,1502.2 232.9,1504.8 C249.7,1507.4 266.6,1511.3 279.5,1514.5 C292.4,1517.8 300.2,1521.4 310.6,1524.2 C320.9,1527.0 331.9,1530.0 341.6,1531.2 C351.3,1532.4 357.8,1532.1 368.8,1531.2 C379.8,1530.4 392.7,1527.2 407.6,1526.2 C422.5,1525.1 442.5,1524.8 458.1,1525.0 C473.6,1525.2 486.5,1527.5 500.8,1527.3 C515.0,1527.2 529.9,1525.7 543.5,1524.2 C557.1,1522.7 569.4,1520.7 582.3,1518.4 C595.2,1516.1 609.5,1513.0 621.1,1510.6 C632.8,1508.2 644.4,1505.5 652.2,1504.0 C659.9,1502.5 661.2,1501.3 667.7,1501.7 C674.2,1502.2 682.6,1504.4 691.0,1506.8 C699.4,1509.1 711.1,1513.4 718.2,1515.7 C725.3,1517.9 729.2,1520.2 733.7,1520.3 C738.2,1520.5 741.5,1519.7 745.3,1516.5 C749.2,1513.2 753.1,1506.8 757.0,1500.9 C760.9,1495.1 765.4,1485.9 768.6,1481.5 C771.9,1477.2 773.8,1475.2 776.4,1474.9 C779.0,1474.6 777.7,1475.6 784.2,1479.6 C790.6,1483.6 803.6,1491.6 815.2,1499.0 C826.9,1506.4 841.1,1516.8 854.0,1524.2 C867.0,1531.7 879.9,1538.6 892.9,1543.6 C905.8,1548.7 918.7,1552.1 931.7,1554.5 C944.6,1556.9 961.0,1557.5 970.5,1558.0 C980.0,1558.4 976.1,1559.3 988.8,1557.2 C1001.6,1555.2 1030.9,1549.0 1047.0,1545.6 C1063.2,1542.1 1074.2,1538.8 1085.9,1536.6 C1097.5,1534.5 1105.9,1533.2 1116.9,1532.8 C1127.9,1532.3 1137.6,1532.8 1151.9,1533.9 C1166.1,1535.1 1184.2,1537.8 1202.3,1539.8 C1220.4,1541.7 1244.4,1545.4 1260.6,1545.6 C1276.7,1545.7 1283.2,1542.8 1299.4,1540.5 C1315.6,1538.3 1342.1,1533.7 1357.6,1532.0 C1373.1,1530.2 1376.4,1529.9 1392.5,1530.0 C1408.7,1530.2 1437.8,1532.1 1454.7,1533.2 C1471.5,1534.3 1477.3,1535.3 1493.5,1536.6 C1509.7,1538.0 1532.3,1541.3 1551.7,1541.3 C1571.1,1541.3 1590.5,1538.3 1609.9,1536.6 C1629.3,1535.0 1648.8,1532.6 1668.2,1531.2 C1687.6,1529.8 1711.2,1529.1 1726.4,1528.1 C1741.6,1527.1 1744.5,1527.3 1759.4,1525.0 C1774.3,1522.7 1795.3,1517.2 1815.7,1514.5 C1836.1,1511.8 1865.5,1509.0 1881.7,1508.7 C1897.9,1508.4 1901.3,1510.6 1912.7,1512.6 C1924.2,1514.5 1939.5,1519.4 1950.2,1520.4 C1961.0,1521.4 1963.1,1520.4 1977.2,1518.4 C1991.4,1516.5 2017.2,1512.3 2035.2,1508.8 C2053.2,1505.2 2071.9,1500.4 2085.4,1497.2 C2098.9,1494.0 2105.4,1491.1 2116.3,1489.5 C2127.2,1487.9 2138.2,1487.4 2151.1,1487.5 C2163.9,1487.7 2183.9,1489.0 2193.5,1490.2 C2203.2,1491.5 2205.1,1493.8 2209.0,1495.3 C2212.9,1496.7 2213.5,1499.6 2216.7,1499.1 C2219.9,1498.7 2223.2,1496.7 2228.3,1492.6 C2233.5,1488.4 2241.2,1479.7 2247.6,1474.0 C2254.1,1468.4 2260.5,1460.3 2266.9,1458.6 C2273.4,1456.8 2280.5,1463.0 2286.2,1463.6 C2292.0,1464.2 2297.2,1464.6 2301.7,1462.4 C2306.2,1460.3 2310.1,1455.4 2313.3,1450.8 C2316.5,1446.3 2318.4,1441.8 2321.0,1435.4 C2323.6,1429.0 2326.2,1420.6 2328.7,1412.2 C2331.3,1403.9 2333.9,1393.6 2336.5,1385.2 C2339.0,1376.8 2341.3,1369.1 2344.2,1362.0 C2347.1,1354.9 2350.0,1348.2 2353.8,1342.7 C2357.7,1337.2 2361.9,1333.4 2367.4,1329.2 C2372.8,1325.0 2378.9,1320.8 2386.7,1317.6 C2394.4,1314.4 2404.7,1313.7 2413.7,1309.9 C2422.7,1306.0 2433.0,1298.4 2440.7,1294.4 C2448.5,1290.4 2453.6,1287.7 2460.1,1285.9 C2466.5,1284.1 2469.7,1283.8 2479.4,1283.6 C2489.0,1283.4 2505.1,1284.1 2518.0,1284.8 C2530.9,1285.5 2547.0,1286.9 2556.6,1287.9 C2566.3,1288.8 2569.5,1287.9 2575.9,1290.6 C2582.4,1293.3 2588.8,1299.2 2595.2,1304.1 C2601.7,1308.9 2608.1,1315.7 2614.6,1319.5 C2621.0,1323.4 2625.5,1324.7 2633.9,1327.2 C2642.2,1329.8 2654.5,1331.4 2664.8,1335.0 C2675.1,1338.5 2686.7,1343.7 2695.7,1348.5 C2704.7,1353.3 2709.8,1356.5 2718.8,1363.9 C2727.9,1371.3 2739.4,1382.9 2749.7,1392.9 C2760.0,1402.9 2771.6,1415.4 2780.6,1423.8 C2789.7,1432.2 2796.1,1438.0 2803.8,1443.1 C2811.5,1448.3 2820.6,1453.1 2827.0,1454.7 C2833.4,1456.3 2836.7,1454.2 2842.4,1452.8 C2848.2,1451.4 2856.6,1447.2 2861.8,1446.2 C2866.9,1445.2 2869.5,1443.6 2873.3,1447.0 C2877.2,1450.3 2881.1,1460.2 2884.9,1466.3 C2888.8,1472.4 2894.6,1480.8 2896.5,1483.7 L2896.5,1562 L-3.9,1562 Z" fill="url(#mg)"/>
<g clip-path="url(#fc)"><path d="M2131.7,1431.5 C2151.1,1427.0 2214.8,1411.3 2247.6,1404.5 C2280.5,1397.7 2310.7,1393.2 2328.7,1391.0 C2346.8,1388.7 2348.0,1390.0 2355.8,1391.0 C2363.5,1391.9 2368.0,1394.5 2375.1,1396.8 C2382.2,1399.0 2393.1,1404.2 2398.3,1404.5 C2403.4,1404.8 2400.8,1399.0 2406.0,1398.7 C2411.1,1398.4 2420.1,1399.7 2429.2,1402.6 C2438.2,1405.5 2449.8,1412.5 2460.1,1416.1 C2470.4,1419.6 2481.3,1421.9 2491.0,1423.8 C2500.6,1425.7 2510.9,1424.5 2518.0,1427.7 C2525.1,1430.9 2528.3,1441.2 2533.4,1443.1 C2538.6,1445.1 2542.5,1442.5 2548.9,1439.3 C2555.3,1436.0 2564.3,1429.3 2572.1,1423.8 C2579.8,1418.3 2588.2,1409.6 2595.2,1406.4 C2602.3,1403.2 2608.1,1403.9 2614.6,1404.5 C2621.0,1405.1 2625.5,1408.4 2633.9,1410.3 C2642.2,1412.2 2655.8,1415.1 2664.8,1416.1 C2673.8,1417.1 2681.5,1417.7 2687.9,1416.1 C2694.4,1414.5 2698.9,1407.7 2703.4,1406.4 C2707.9,1405.1 2712.1,1406.1 2715.0,1408.4 C2717.9,1410.6 2716.3,1418.7 2720.8,1419.9 C2725.3,1421.2 2735.9,1419.0 2742.0,1416.1 C2748.1,1413.2 2749.7,1404.5 2757.5,1402.6 C2765.2,1400.6 2757.5,1402.9 2788.4,1404.5 C2819.3,1406.1 2917.1,1410.9 2942.9,1412.2 L2942.9,1562 L2131.7,1562 Z" fill="url(#rg)"/></g>
<ellipse cx="1550" cy="1538.5" rx="62" ry="4.5" fill="#242a52" opacity=".55"/>
<ellipse cx="1880" cy="1541" rx="22" ry="5" fill="#1d2450" opacity=".6"/>
<rect x="0" y="1560" width="2895" height="16" fill="#2a2e47"/>
<rect x="0" y="1576" width="2895" height="15" fill="#1d2543"/>
<rect x="0" y="1591" width="2895" height="32" fill="#0b1035"/>
<rect x="0" y="1561.2" width="2895" height="1.7" fill="#2d2b2a"/>
<rect x="0" y="1558.2" width="2895" height="3.2" fill="#9a8058"/>
<rect x="0" y="1558.9" width="2895" height="1.7" fill="#dcc7a0"/>
<rect x="0" y="1574.5" width="2895" height="3.0" fill="#8a7866"/>
<rect x="0" y="1575.2" width="2895" height="1.6" fill="#c4b0a0"/>
<rect x="0" y="1589.5" width="2895" height="3.4" fill="#6c6c66"/>
<rect x="0" y="1590.3" width="2895" height="1.8" fill="#9d9c8e"/>
<rect x="0" y="1605.5" width="2895" height="2" fill="#5b6088"/>
<rect x="0" y="1621.4" width="2895" height="1.6" fill="#4b4b6b"/>
</svg>
<svg style="position:absolute;left:2460px;top:1460px" width="380" height="110" viewBox="2460 1460 380 110" fill="#fff" stroke="#fff" stroke-width="1.6" stroke-linejoin="round">
<polygon points="2479.77,1499.53 2512.81,1477.70 2512.81,1496.58 2496.88,1506.17 2496.88,1524.91 2479.77,1533.76"/>
<polygon points="2517.38,1477.70 2549.69,1499.53 2549.69,1533.76 2532.58,1524.91 2532.58,1506.17 2517.38,1496.58"/>
<polygon points="2483.01,1538.92 2498.65,1529.33 2514.58,1538.18 2530.81,1529.33 2547.03,1538.92 2515.02,1556.62"/>
</svg>
<svg style="position:absolute;left:2560px;top:1485px" width="270" height="60" viewBox="2560 1485 270 60" fill="#fff">
<rect x="2573.29" y="1493.63" width="10.33" height="42.78"/>
<rect x="2582.44" y="1510.89" width="15.49" height="8.85"/>
<rect x="2596.45" y="1503.07" width="10.33" height="33.34"/>
<rect x="2596.45" y="1493.63" width="10.33" height="6.49"/>
<rect x="2616.37" y="1493.63" width="33.93" height="9.15"/>
<rect x="2628.17" y="1493.63" width="10.33" height="42.78"/>
<rect x="2658.41" y="1493.63" width="10.33" height="42.78"/>
<rect x="2667.26" y="1510.89" width="18.44" height="8.85"/>
<rect x="2684.22" y="1493.63" width="10.33" height="42.78"/>
<rect x="2703.40" y="1493.63" width="10.33" height="42.78"/>
<path d="M2722.58,1493.63 L2732.90,1493.63 L2732.90,1517.75 A9.22,8.04 0 0 0 2751.34,1517.75 L2751.34,1493.63 L2761.67,1493.63 L2761.67,1517.75 A19.55,19.55 0 0 1 2722.58,1517.75 Z"/>
<polygon points="2770.52,1536.41 2770.52,1493.63 2784.53,1493.63 2792.28,1519.74 2800.02,1493.63 2814.03,1493.63 2814.03,1536.41 2804.00,1536.41 2804.00,1508.68 2796.41,1536.41 2788.15,1536.41 2780.55,1508.68 2780.55,1536.41"/>
</svg>
</body></html>
